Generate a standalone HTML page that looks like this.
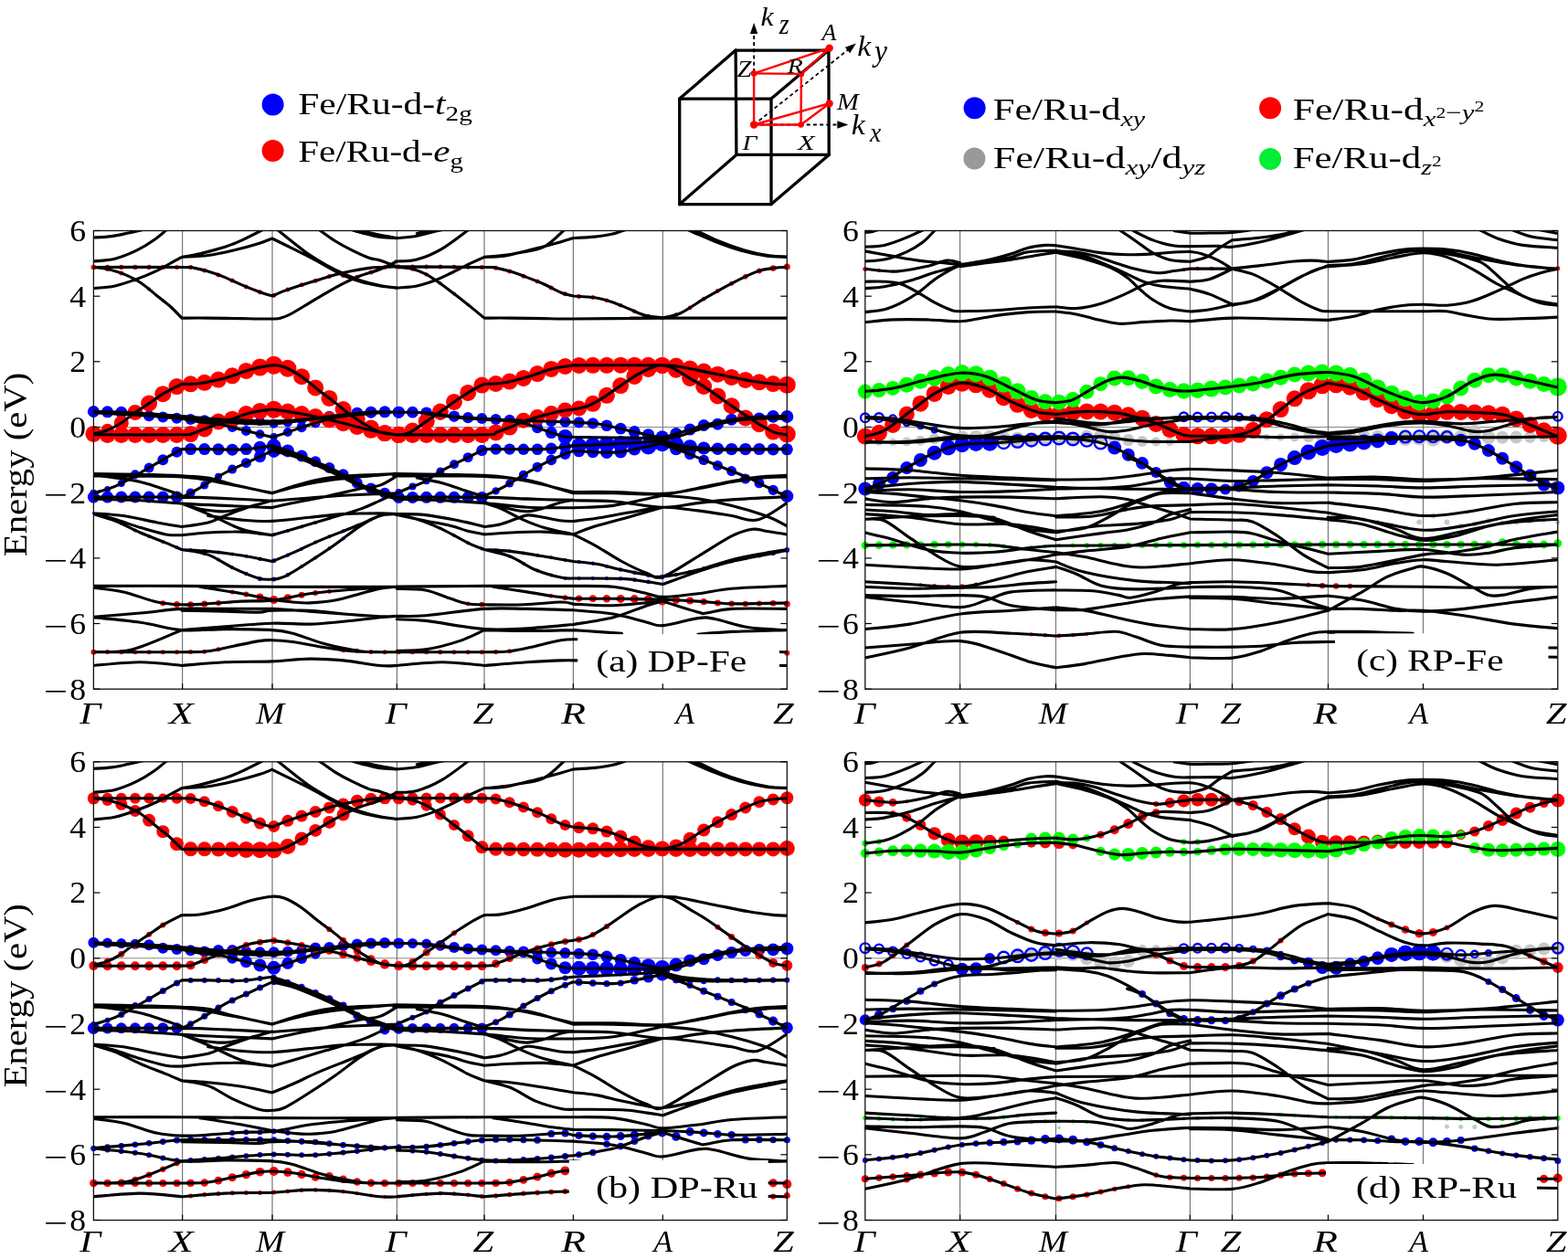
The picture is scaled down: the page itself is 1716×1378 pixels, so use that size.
<!DOCTYPE html><html><head><meta charset="utf-8"><style>
html,body{margin:0;padding:0;background:#fff;overflow:hidden;}
svg{display:block;}
.t{font-family:"Liberation Serif","DejaVu Serif",serif;font-size:34px;fill:#000;}
.i{font-style:italic;}
.s{font-size:24px;}
.ss{font-size:17px;}
.kz{font-family:"Liberation Serif",serif;font-size:34px;}
.sm{font-family:"Liberation Serif",serif;font-size:21px;}
</style></head><body><svg width="1716" height="1378" viewBox="0 0 1716 1378"><rect width="1716" height="1378" fill="#fff"/><circle cx="298.6" cy="114.6" r="12" fill="#0000ff"/><circle cx="298.6" cy="165.1" r="12" fill="#ff0000"/><text class="t" transform="translate(326.2,125.3) scale(1.2208,1)">Fe/Ru-d-<tspan class="i">t</tspan><tspan class="s" dy="7">2g</tspan></text><text class="t" transform="translate(326.2,176.8) scale(1.2068,1)">Fe/Ru-d-<tspan class="i">e</tspan><tspan class="s" dy="7">g</tspan></text><circle cx="1066.6" cy="118.3" r="12" fill="#0000ff"/><circle cx="1066.4" cy="173.6" r="12" fill="#999999"/><circle cx="1390.1" cy="118.3" r="12" fill="#ff0000"/><circle cx="1390.1" cy="173.9" r="12" fill="#00ee33"/><text class="t" transform="translate(1086.7,131.1) scale(1.2550,1)">Fe/Ru-d<tspan class="s i" dy="7">xy</tspan></text><text class="t" transform="translate(1086.7,184.4) scale(1.2994,1)">Fe/Ru-d<tspan class="s i" dy="7">xy</tspan><tspan dy="-7">/d</tspan><tspan class="s i" dy="7">yz</tspan></text><text class="t" transform="translate(1414.7,131.1) scale(1.2838,1)">Fe/Ru-d<tspan class="s i" dy="7">x</tspan><tspan class="ss" dy="-9">2</tspan><tspan class="s" dy="2">−</tspan><tspan class="s i">y</tspan><tspan class="ss" dy="-9">2</tspan></text><text class="t" transform="translate(1414.7,184.4) scale(1.2619,1)">Fe/Ru-d<tspan class="s i" dy="7">z</tspan><tspan class="ss" dy="-9">2</tspan></text><g stroke="#000" stroke-width="3.3" stroke-linecap="round" fill="none"><line x1="743.7" y1="108.1" x2="844" y2="108.1"/><line x1="844" y1="108.1" x2="844" y2="223.6"/><line x1="844" y1="223.6" x2="743.7" y2="223.6"/><line x1="743.7" y1="223.6" x2="743.7" y2="108.1"/><line x1="805.1" y1="55.1" x2="906.9" y2="55.1"/><line x1="906.9" y1="55.1" x2="907.2" y2="169.4"/><line x1="907.2" y1="169.4" x2="805.9" y2="169.4"/><line x1="805.9" y1="169.4" x2="805.1" y2="55.1"/><line x1="743.7" y1="108.1" x2="805.1" y2="55.1"/><line x1="844" y1="108.1" x2="906.9" y2="55.1"/><line x1="743.7" y1="223.6" x2="805.9" y2="169.4"/><line x1="844" y1="223.6" x2="907.2" y2="169.4"/></g><g stroke="#000" stroke-width="1.8" stroke-dasharray="4,3.2" fill="none"><line x1="825.1" y1="136.5" x2="825.1" y2="33.4"/><line x1="825.1" y1="136.5" x2="918.6" y2="136.5"/><line x1="825.1" y1="136.5" x2="929.4" y2="53.4"/></g><polygon points="825.1,25 829.3,37 820.9,37" fill="#000"/><polygon points="928.3,136.5 916.3,140.7 916.3,132.3" fill="#000"/><polygon points="936.9,47.6 930.1,58.3 924.9,51.7" fill="#000"/><g stroke="#ff0000" stroke-width="2.4" fill="none" stroke-linejoin="round"><line x1="825.1" y1="136.5" x2="876.5" y2="136.5"/><line x1="876.5" y1="136.5" x2="907.7" y2="113.2"/><line x1="907.7" y1="113.2" x2="825.1" y2="136.5"/><line x1="825.1" y1="136.5" x2="825.1" y2="80.4"/><line x1="825.1" y1="80.4" x2="876.9" y2="80.9"/><line x1="876.9" y1="80.9" x2="907.7" y2="52.6"/><line x1="907.7" y1="52.6" x2="825.1" y2="80.4"/><line x1="876.9" y1="80.9" x2="876.5" y2="136.5"/></g><g fill="#ff0000"><circle cx="825.1" cy="136.5" r="4.2"/><circle cx="876.5" cy="136.5" r="3.3"/><circle cx="907.7" cy="113.2" r="4"/><circle cx="825.1" cy="80.4" r="3.3"/><circle cx="876.9" cy="80.9" r="3.3"/><circle cx="907.7" cy="52.6" r="4.2"/></g><text class="t i" style="font-size:31px" transform="translate(832.5,28.4) scale(1.023,0.945)">k</text><text class="t i" style="font-size:26px" transform="translate(852.7,37.1) scale(1.080,1.183)">z</text><text class="t i" style="font-size:31px" transform="translate(938.3,61) scale(1.092,1.023)">k</text><text class="t i" style="font-size:26px" transform="translate(956.9,66.7) scale(1.215,1.282)">y</text><text class="t i" style="font-size:31px" transform="translate(931.7,147) scale(1.092,1.023)">k</text><text class="t i" style="font-size:26px" transform="translate(952,154.6) scale(1.055,1.125)">x</text><text class="t i" style="font-size:25px" transform="translate(899.6,43.6) scale(1.038,1.035)">A</text><text class="t i" style="font-size:25px" transform="translate(806.8,83.6) scale(1.129,0.982)">Z</text><text class="t i" style="font-size:25px" transform="translate(861.8,80.2) scale(1.113,0.935)">R</text><text class="t i" style="font-size:25px" transform="translate(916,119.5) scale(1.141,1.029)">M</text><text class="t i" style="font-size:25px" transform="translate(812.6,163.6) scale(1.113,0.929)">Γ</text><text class="t i" style="font-size:25px" transform="translate(873.1,163.6) scale(1.224,0.929)">X</text><g><line x1="102.4" y1="467.5" x2="861.3" y2="467.5" stroke="#888" stroke-width="1"/><line x1="199.6" y1="252.5" x2="199.6" y2="754.2" stroke="#777" stroke-width="1.2"/><line x1="298" y1="252.5" x2="298" y2="754.2" stroke="#777" stroke-width="1.2"/><line x1="434.4" y1="252.5" x2="434.4" y2="754.2" stroke="#777" stroke-width="1.2"/><line x1="530" y1="252.5" x2="530" y2="754.2" stroke="#777" stroke-width="1.2"/><line x1="627.4" y1="252.5" x2="627.4" y2="754.2" stroke="#777" stroke-width="1.2"/><line x1="725.3" y1="252.5" x2="725.3" y2="754.2" stroke="#777" stroke-width="1.2"/><svg x="90.4" y="252.5" width="782.9" height="501.7" viewBox="90.4 252.5 782.9 501.7" overflow="hidden"><g fill="#0000ff"><circle cx="102.4" cy="450.5" r="6.5"/><circle cx="117.6" cy="450.8" r="6.5"/><circle cx="132.8" cy="451.3" r="6.5"/><circle cx="147.9" cy="452" r="6.2"/><circle cx="163.1" cy="455.2" r="6"/><circle cx="178.3" cy="456.5" r="6"/><circle cx="193.5" cy="457.8" r="6"/><circle cx="208.6" cy="459" r="6"/><circle cx="223.8" cy="460.3" r="6"/><circle cx="239" cy="458.7" r="6"/><circle cx="254.2" cy="459.6" r="5.5"/><circle cx="269.4" cy="460.4" r="5.3"/><circle cx="284.5" cy="460.9" r="5.2"/><circle cx="299.7" cy="463.7" r="5"/><circle cx="314.9" cy="462.4" r="5"/><circle cx="330.1" cy="460.3" r="5"/><circle cx="345.2" cy="458.4" r="5"/><circle cx="360.4" cy="455.7" r="6"/><circle cx="375.6" cy="453.8" r="6.3"/><circle cx="390.8" cy="452.2" r="6.5"/><circle cx="406" cy="451.2" r="6.5"/><circle cx="421.1" cy="450.8" r="6.5"/><circle cx="436.3" cy="451.2" r="6.5"/><circle cx="239" cy="461.5" r="5"/><circle cx="254.2" cy="467.4" r="5.5"/><circle cx="269.4" cy="471.4" r="5.5"/><circle cx="284.5" cy="475.2" r="5"/><circle cx="299.7" cy="478" r="4"/><circle cx="314.9" cy="473" r="5"/><circle cx="330.1" cy="467.7" r="5.5"/><circle cx="345.2" cy="462.9" r="5.5"/><circle cx="102.4" cy="539.7" r="4"/><circle cx="117.6" cy="535.4" r="3.5"/><circle cx="132.8" cy="529.1" r="4"/><circle cx="147.9" cy="519.3" r="5"/><circle cx="163.1" cy="512.1" r="5.5"/><circle cx="178.3" cy="503.2" r="6"/><circle cx="193.5" cy="494.7" r="6"/><circle cx="208.6" cy="491.6" r="6.5"/><circle cx="223.8" cy="491.6" r="6.5"/><circle cx="239" cy="491.8" r="6.5"/><circle cx="254.2" cy="492.2" r="6.5"/><circle cx="269.4" cy="491.6" r="6.5"/><circle cx="284.5" cy="489.8" r="7"/><circle cx="299.7" cy="488.5" r="8"/><circle cx="314.9" cy="493.4" r="7"/><circle cx="330.1" cy="499" r="6.5"/><circle cx="345.2" cy="505.2" r="6"/><circle cx="360.4" cy="511.9" r="6"/><circle cx="375.6" cy="519.2" r="6"/><circle cx="390.8" cy="528.8" r="6"/><circle cx="406" cy="534.6" r="6"/><circle cx="421.1" cy="539.7" r="6"/><circle cx="436.3" cy="544.1" r="6"/><circle cx="193.5" cy="544" r="5"/><circle cx="208.6" cy="539.5" r="5"/><circle cx="223.8" cy="531" r="4.5"/><circle cx="239" cy="521.7" r="4"/><circle cx="254.2" cy="513.6" r="5"/><circle cx="269.4" cy="506.7" r="5.5"/><circle cx="284.5" cy="499.7" r="6.5"/><circle cx="299.7" cy="493.9" r="7"/><circle cx="102.4" cy="544.1" r="6.5"/><circle cx="117.6" cy="544.1" r="6.5"/><circle cx="132.8" cy="544" r="6.5"/><circle cx="147.9" cy="544" r="6.5"/><circle cx="163.1" cy="544" r="6.5"/><circle cx="178.3" cy="544" r="6.5"/><circle cx="193.5" cy="544" r="6.5"/><circle cx="436.3" cy="451.2" r="6.5"/><circle cx="451.5" cy="451.2" r="6.4"/><circle cx="466.7" cy="451.8" r="6.3"/><circle cx="481.9" cy="453.6" r="6.2"/><circle cx="497" cy="455.7" r="6.2"/><circle cx="512.2" cy="457.2" r="6.1"/><circle cx="527.4" cy="458.1" r="6"/><circle cx="542.6" cy="458.9" r="6"/><circle cx="557.7" cy="459.7" r="6"/><circle cx="572.9" cy="460.3" r="6"/><circle cx="588.1" cy="460.8" r="6"/><circle cx="603.3" cy="461.3" r="6"/><circle cx="618.5" cy="461.8" r="6"/><circle cx="633.6" cy="462.4" r="6.1"/><circle cx="648.8" cy="463.4" r="6.2"/><circle cx="664" cy="465.8" r="6.3"/><circle cx="679.2" cy="469.1" r="6.4"/><circle cx="694.3" cy="472.6" r="6.5"/><circle cx="709.5" cy="476.1" r="6.8"/><circle cx="724.7" cy="478.3" r="7"/><circle cx="739.9" cy="474.7" r="6.7"/><circle cx="755.1" cy="470.1" r="6.5"/><circle cx="770.2" cy="465.5" r="6.5"/><circle cx="785.4" cy="464.2" r="6.5"/><circle cx="800.6" cy="459.2" r="6.5"/><circle cx="815.8" cy="459.1" r="6.6"/><circle cx="830.9" cy="458.2" r="6.8"/><circle cx="846.1" cy="455.8" r="6.9"/><circle cx="861.3" cy="455.9" r="7"/><circle cx="572.9" cy="460.3" r="5"/><circle cx="588.1" cy="468.2" r="6"/><circle cx="603.3" cy="473.6" r="6.5"/><circle cx="618.5" cy="477.9" r="8"/><circle cx="633.6" cy="487.6" r="8.3"/><circle cx="648.8" cy="487" r="8.5"/><circle cx="664" cy="486.4" r="8.6"/><circle cx="679.2" cy="485.6" r="8.7"/><circle cx="694.3" cy="484.7" r="8.8"/><circle cx="709.5" cy="488.5" r="8.9"/><circle cx="724.7" cy="485.2" r="9"/><circle cx="739.9" cy="486.7" r="8.5"/><circle cx="755.1" cy="489.2" r="8"/><circle cx="770.2" cy="490.5" r="7"/><circle cx="527.4" cy="493" r="6"/><circle cx="542.6" cy="491.6" r="6.1"/><circle cx="557.7" cy="491.6" r="6.2"/><circle cx="572.9" cy="491.8" r="6.2"/><circle cx="588.1" cy="491.8" r="6.3"/><circle cx="603.3" cy="491" r="6.4"/><circle cx="618.5" cy="489.1" r="6.5"/><circle cx="633.6" cy="493.8" r="6.5"/><circle cx="648.8" cy="494.7" r="6.6"/><circle cx="664" cy="495.3" r="6.8"/><circle cx="679.2" cy="494.6" r="6.9"/><circle cx="694.3" cy="491.6" r="7"/><circle cx="709.5" cy="488.5" r="7"/><circle cx="724.7" cy="485.2" r="7"/><circle cx="739.9" cy="491.4" r="6.9"/><circle cx="755.1" cy="492" r="6.9"/><circle cx="770.2" cy="490.5" r="6.8"/><circle cx="785.4" cy="491.3" r="6.8"/><circle cx="800.6" cy="491.6" r="6.7"/><circle cx="815.8" cy="491.6" r="6.7"/><circle cx="830.9" cy="491.5" r="6.6"/><circle cx="846.1" cy="491.8" r="6.6"/><circle cx="861.3" cy="491.8" r="6.5"/><circle cx="436.3" cy="538.9" r="4"/><circle cx="451.5" cy="532.5" r="4"/><circle cx="466.7" cy="526.2" r="4"/><circle cx="481.9" cy="516" r="4.5"/><circle cx="497" cy="508.2" r="5"/><circle cx="512.2" cy="500.7" r="5.5"/><circle cx="527.4" cy="493" r="5.9"/><circle cx="542.6" cy="537.4" r="4.2"/><circle cx="557.7" cy="529.1" r="4.5"/><circle cx="572.9" cy="519.8" r="5"/><circle cx="588.1" cy="511.2" r="5.5"/><circle cx="603.3" cy="503.4" r="5.8"/><circle cx="618.5" cy="496.9" r="6"/><circle cx="724.7" cy="485.2" r="6"/><circle cx="739.9" cy="491.4" r="6"/><circle cx="755.1" cy="497.3" r="6"/><circle cx="770.2" cy="503.4" r="5.7"/><circle cx="785.4" cy="509.5" r="5.5"/><circle cx="800.6" cy="515.6" r="5.5"/><circle cx="815.8" cy="524" r="5.5"/><circle cx="830.9" cy="528.8" r="5.5"/><circle cx="846.1" cy="536.3" r="5.6"/><circle cx="861.3" cy="543.1" r="7"/><circle cx="436.3" cy="544.4" r="6.5"/><circle cx="451.5" cy="544.4" r="6.5"/><circle cx="466.7" cy="544.3" r="6.5"/><circle cx="481.9" cy="544.3" r="6.5"/><circle cx="497" cy="544.3" r="6.5"/><circle cx="512.2" cy="544.3" r="6.5"/><circle cx="527.4" cy="544.4" r="6.5"/><circle cx="102.4" cy="561.7" r="1.5"/><circle cx="117.6" cy="567.1" r="1.7"/><circle cx="132.8" cy="573.1" r="1.8"/><circle cx="147.9" cy="580.4" r="2"/><circle cx="163.1" cy="586.9" r="2"/><circle cx="178.3" cy="592.9" r="2"/><circle cx="193.5" cy="599.2" r="2"/><circle cx="208.6" cy="602" r="2"/><circle cx="223.8" cy="603" r="2"/><circle cx="239" cy="604.6" r="2"/><circle cx="254.2" cy="606.5" r="2"/><circle cx="269.4" cy="608.8" r="2"/><circle cx="284.5" cy="611.8" r="2.2"/><circle cx="299.7" cy="613.7" r="2.5"/><circle cx="314.9" cy="607.6" r="2.2"/><circle cx="330.1" cy="600.7" r="2"/><circle cx="345.2" cy="593.6" r="2"/><circle cx="360.4" cy="587.2" r="2"/><circle cx="375.6" cy="581.3" r="2"/><circle cx="390.8" cy="575.3" r="1.8"/><circle cx="406" cy="568.8" r="1.5"/><circle cx="223.8" cy="605.9" r="2"/><circle cx="239" cy="612.6" r="2"/><circle cx="254.2" cy="621.3" r="2"/><circle cx="269.4" cy="628" r="2.2"/><circle cx="284.5" cy="633.4" r="2.5"/><circle cx="299.7" cy="633.9" r="2.5"/><circle cx="314.9" cy="629.3" r="2.2"/><circle cx="330.1" cy="620.1" r="2"/><circle cx="345.2" cy="610.5" r="2"/><circle cx="360.4" cy="600.3" r="2"/><circle cx="375.6" cy="589.4" r="2"/><circle cx="390.8" cy="575.3" r="1.5"/><circle cx="284.5" cy="584" r="1.8"/><circle cx="299.7" cy="585.2" r="2"/><circle cx="314.9" cy="580.9" r="2"/><circle cx="330.1" cy="576.4" r="2"/><circle cx="345.2" cy="571.9" r="2"/><circle cx="360.4" cy="567.3" r="2"/><circle cx="375.6" cy="562.6" r="1.8"/><circle cx="481.9" cy="578.3" r="1.8"/><circle cx="497" cy="586.1" r="1.9"/><circle cx="512.2" cy="594.3" r="2"/><circle cx="527.4" cy="600.5" r="2"/><circle cx="542.6" cy="602.2" r="2"/><circle cx="557.7" cy="603.3" r="2"/><circle cx="572.9" cy="605.4" r="2"/><circle cx="588.1" cy="607.8" r="2"/><circle cx="603.3" cy="610.3" r="2"/><circle cx="618.5" cy="612.9" r="2"/><circle cx="633.6" cy="615.1" r="2"/><circle cx="648.8" cy="616.7" r="2.1"/><circle cx="664" cy="619.8" r="2.1"/><circle cx="679.2" cy="623.5" r="2.2"/><circle cx="694.3" cy="626.7" r="2.3"/><circle cx="709.5" cy="629.6" r="2.4"/><circle cx="724.7" cy="631.2" r="2.5"/><circle cx="739.9" cy="629" r="2.2"/><circle cx="755.1" cy="625.8" r="2.1"/><circle cx="770.2" cy="622.1" r="2"/><circle cx="785.4" cy="618.6" r="2"/><circle cx="800.6" cy="614.6" r="2"/><circle cx="815.8" cy="611.3" r="2"/><circle cx="830.9" cy="608.3" r="2.3"/><circle cx="846.1" cy="605.4" r="2.6"/><circle cx="861.3" cy="601.9" r="2.8"/><circle cx="542.6" cy="604.4" r="1.8"/><circle cx="557.7" cy="608.8" r="1.9"/><circle cx="572.9" cy="616.7" r="2"/><circle cx="588.1" cy="624.6" r="2"/><circle cx="603.3" cy="629.5" r="2"/><circle cx="618.5" cy="632.9" r="2"/><circle cx="633.6" cy="633.1" r="2"/><circle cx="648.8" cy="633" r="2.1"/><circle cx="664" cy="633.1" r="2.1"/><circle cx="679.2" cy="633.4" r="2.2"/><circle cx="694.3" cy="634.6" r="2.3"/><circle cx="709.5" cy="636.9" r="2.4"/><circle cx="724.7" cy="631.4" r="2.5"/></g><g fill="#ff0000"><circle cx="102.4" cy="474.9" r="8"/><circle cx="117.6" cy="470.8" r="7"/><circle cx="132.8" cy="462.9" r="8"/><circle cx="147.9" cy="451.5" r="8.5"/><circle cx="163.1" cy="441.4" r="9"/><circle cx="178.3" cy="431.2" r="9"/><circle cx="193.5" cy="423.1" r="9"/><circle cx="208.6" cy="420.3" r="9"/><circle cx="223.8" cy="418.8" r="9"/><circle cx="239" cy="415.6" r="9"/><circle cx="254.2" cy="411.3" r="9"/><circle cx="269.4" cy="405.9" r="9"/><circle cx="284.5" cy="402" r="9.5"/><circle cx="299.7" cy="399.7" r="10"/><circle cx="314.9" cy="403.3" r="9.5"/><circle cx="330.1" cy="412.2" r="9"/><circle cx="345.2" cy="424.4" r="9"/><circle cx="360.4" cy="435.9" r="9"/><circle cx="375.6" cy="448" r="9"/><circle cx="390.8" cy="459.1" r="9"/><circle cx="406" cy="468.4" r="9"/><circle cx="421.1" cy="473.9" r="9"/><circle cx="436.3" cy="475.8" r="9"/><circle cx="102.4" cy="474.9" r="9"/><circle cx="117.6" cy="475.9" r="9"/><circle cx="132.8" cy="475.9" r="9"/><circle cx="147.9" cy="475.9" r="9"/><circle cx="163.1" cy="475.9" r="9"/><circle cx="178.3" cy="475.9" r="9"/><circle cx="193.5" cy="475.9" r="9"/><circle cx="208.6" cy="475.1" r="9"/><circle cx="223.8" cy="469.4" r="9"/><circle cx="239" cy="461.5" r="9"/><circle cx="254.2" cy="458.7" r="9"/><circle cx="269.4" cy="453.1" r="9"/><circle cx="284.5" cy="449.9" r="9"/><circle cx="299.7" cy="448.3" r="9.5"/><circle cx="314.9" cy="450.5" r="9"/><circle cx="330.1" cy="453.1" r="9"/><circle cx="345.2" cy="456.1" r="9"/><circle cx="360.4" cy="459.5" r="9"/><circle cx="375.6" cy="463.2" r="9"/><circle cx="390.8" cy="467" r="9"/><circle cx="406" cy="470.8" r="9"/><circle cx="421.1" cy="474.3" r="9"/><circle cx="436.3" cy="475.8" r="9"/><circle cx="436.3" cy="475.8" r="9"/><circle cx="451.5" cy="471.6" r="9"/><circle cx="466.7" cy="461.2" r="9"/><circle cx="481.9" cy="450.6" r="9"/><circle cx="497" cy="439.9" r="9"/><circle cx="512.2" cy="429.9" r="9"/><circle cx="527.4" cy="421.6" r="9"/><circle cx="542.6" cy="420" r="9"/><circle cx="557.7" cy="417.6" r="9"/><circle cx="572.9" cy="413.9" r="9"/><circle cx="588.1" cy="409.1" r="9"/><circle cx="603.3" cy="403.9" r="9"/><circle cx="618.5" cy="401" r="9"/><circle cx="633.6" cy="399.9" r="9"/><circle cx="648.8" cy="399.8" r="9"/><circle cx="664" cy="399.8" r="9"/><circle cx="679.2" cy="399.7" r="9"/><circle cx="694.3" cy="399.7" r="9"/><circle cx="709.5" cy="399.8" r="9"/><circle cx="724.7" cy="399.9" r="9"/><circle cx="739.9" cy="400.5" r="9"/><circle cx="755.1" cy="403.5" r="9"/><circle cx="770.2" cy="406.6" r="9"/><circle cx="785.4" cy="409.7" r="9"/><circle cx="800.6" cy="412.9" r="9"/><circle cx="815.8" cy="415.9" r="9"/><circle cx="830.9" cy="418.3" r="9"/><circle cx="846.1" cy="420.1" r="9"/><circle cx="861.3" cy="421.3" r="9.5"/><circle cx="436.3" cy="475.8" r="9"/><circle cx="451.5" cy="475.9" r="9"/><circle cx="466.7" cy="476" r="9"/><circle cx="481.9" cy="476" r="9"/><circle cx="497" cy="476" r="9"/><circle cx="512.2" cy="476" r="9"/><circle cx="527.4" cy="475.9" r="9"/><circle cx="542.6" cy="473.4" r="9"/><circle cx="557.7" cy="467.7" r="8.9"/><circle cx="572.9" cy="460.3" r="8.5"/><circle cx="588.1" cy="456.6" r="8.5"/><circle cx="603.3" cy="452.4" r="8.5"/><circle cx="618.5" cy="449.1" r="8.5"/><circle cx="633.6" cy="446.9" r="8.5"/><circle cx="648.8" cy="441.8" r="9"/><circle cx="664" cy="432.8" r="9"/><circle cx="679.2" cy="422.1" r="9"/><circle cx="694.3" cy="411.9" r="9"/><circle cx="709.5" cy="404" r="9"/><circle cx="724.7" cy="399.9" r="9"/><circle cx="724.7" cy="399.9" r="9"/><circle cx="739.9" cy="404.7" r="9"/><circle cx="755.1" cy="414" r="9"/><circle cx="770.2" cy="423" r="9"/><circle cx="785.4" cy="433.4" r="9"/><circle cx="800.6" cy="444.2" r="9"/><circle cx="815.8" cy="457.4" r="9"/><circle cx="830.9" cy="464.2" r="9"/><circle cx="846.1" cy="472.6" r="9"/><circle cx="861.3" cy="475.1" r="9.5"/><circle cx="102.4" cy="292.5" r="2.8"/><circle cx="117.6" cy="292.5" r="2.8"/><circle cx="132.8" cy="292.4" r="2.7"/><circle cx="147.9" cy="292.4" r="2.7"/><circle cx="163.1" cy="292.4" r="2.6"/><circle cx="178.3" cy="292.4" r="2.6"/><circle cx="193.5" cy="292.4" r="2.5"/><circle cx="208.6" cy="292.6" r="2.5"/><circle cx="223.8" cy="295.9" r="2.5"/><circle cx="239" cy="300.9" r="2.5"/><circle cx="254.2" cy="307.1" r="2.5"/><circle cx="269.4" cy="313.9" r="2.5"/><circle cx="284.5" cy="319.8" r="2.5"/><circle cx="299.7" cy="323.2" r="2.5"/><circle cx="314.9" cy="317" r="2.5"/><circle cx="330.1" cy="311.8" r="2.5"/><circle cx="345.2" cy="307.2" r="2.5"/><circle cx="360.4" cy="302.6" r="2.5"/><circle cx="375.6" cy="301.6" r="2.5"/><circle cx="390.8" cy="303.2" r="2.5"/><circle cx="406" cy="298" r="2.5"/><circle cx="421.1" cy="292.5" r="2.5"/><circle cx="436.3" cy="291.9" r="2.5"/><circle cx="451.5" cy="292" r="2.5"/><circle cx="466.7" cy="292.1" r="2.5"/><circle cx="481.9" cy="292.1" r="2.5"/><circle cx="497" cy="292.2" r="2.5"/><circle cx="512.2" cy="292.3" r="2.5"/><circle cx="527.4" cy="292.4" r="2.5"/><circle cx="542.6" cy="293.2" r="2.5"/><circle cx="557.7" cy="297" r="2.5"/><circle cx="572.9" cy="302.2" r="2.5"/><circle cx="588.1" cy="307.9" r="2.5"/><circle cx="603.3" cy="315" r="2.5"/><circle cx="618.5" cy="321.8" r="2.5"/><circle cx="633.6" cy="324.4" r="2.5"/><circle cx="648.8" cy="325.5" r="2.4"/><circle cx="664" cy="328.8" r="2.4"/><circle cx="679.2" cy="334.2" r="2.3"/><circle cx="694.3" cy="340.7" r="2.3"/><circle cx="709.5" cy="345.9" r="2.2"/><circle cx="724.7" cy="348.1" r="2.2"/><circle cx="739.9" cy="344.6" r="2.3"/><circle cx="755.1" cy="336.9" r="2.3"/><circle cx="770.2" cy="327.2" r="2.4"/><circle cx="785.4" cy="318.5" r="2.4"/><circle cx="800.6" cy="310.3" r="2.5"/><circle cx="815.8" cy="302.7" r="2.8"/><circle cx="830.9" cy="296.4" r="3"/><circle cx="846.1" cy="293.6" r="3.3"/><circle cx="861.3" cy="291.9" r="3.5"/><circle cx="102.4" cy="292.5" r="2.5"/><circle cx="117.6" cy="294.6" r="2.5"/><circle cx="132.8" cy="299" r="2.5"/><circle cx="147.9" cy="306.2" r="2.2"/><circle cx="163.1" cy="316.4" r="2"/><circle cx="178.3" cy="328.9" r="1.8"/><circle cx="193.5" cy="342.4" r="1.6"/><circle cx="436.3" cy="291.9" r="2.2"/><circle cx="451.5" cy="294.5" r="2.2"/><circle cx="466.7" cy="300.4" r="2.2"/><circle cx="481.9" cy="310.2" r="2"/><circle cx="497" cy="321.6" r="2"/><circle cx="512.2" cy="333.5" r="1.8"/><circle cx="527.4" cy="345.9" r="1.5"/><circle cx="163.1" cy="656.5" r="1.5"/><circle cx="178.3" cy="660.2" r="3"/><circle cx="193.5" cy="661.6" r="3.5"/><circle cx="208.6" cy="661.8" r="3.5"/><circle cx="223.8" cy="661.1" r="3.5"/><circle cx="239" cy="660" r="3"/><circle cx="254.2" cy="647.9" r="2.5"/><circle cx="269.4" cy="650.6" r="3"/><circle cx="284.5" cy="653.6" r="4"/><circle cx="299.7" cy="656.5" r="4.5"/><circle cx="314.9" cy="654.3" r="4"/><circle cx="330.1" cy="651.2" r="3.5"/><circle cx="345.2" cy="648.9" r="3"/><circle cx="360.4" cy="647.3" r="2.5"/><circle cx="102.4" cy="713.7" r="3"/><circle cx="117.6" cy="713.6" r="2.5"/><circle cx="132.8" cy="713.7" r="2.5"/><circle cx="147.9" cy="713.7" r="2.5"/><circle cx="163.1" cy="713.7" r="2.5"/><circle cx="178.3" cy="713.7" r="2.5"/><circle cx="193.5" cy="713.7" r="2.5"/><circle cx="208.6" cy="713.6" r="2.5"/><circle cx="223.8" cy="713.2" r="2.5"/><circle cx="239" cy="710.8" r="2.5"/><circle cx="375.6" cy="711.7" r="2.5"/><circle cx="390.8" cy="712.2" r="2.5"/><circle cx="406" cy="713.5" r="2.5"/><circle cx="421.1" cy="713.7" r="2.5"/><circle cx="436.3" cy="713.7" r="2.5"/><circle cx="451.5" cy="713.7" r="2.5"/><circle cx="466.7" cy="713.7" r="2.5"/><circle cx="481.9" cy="713.7" r="2.5"/><circle cx="603.3" cy="652.3" r="2.2"/><circle cx="618.5" cy="654.2" r="3"/><circle cx="633.6" cy="655.1" r="3.6"/><circle cx="648.8" cy="655.1" r="3.9"/><circle cx="664" cy="655.2" r="4.2"/><circle cx="679.2" cy="655.4" r="4.5"/><circle cx="694.3" cy="655.6" r="4.5"/><circle cx="709.5" cy="655.8" r="4.5"/><circle cx="724.7" cy="658.1" r="4.5"/><circle cx="739.9" cy="656.8" r="4.2"/><circle cx="755.1" cy="657.5" r="4"/><circle cx="770.2" cy="658.6" r="3.7"/><circle cx="785.4" cy="660" r="3.4"/><circle cx="800.6" cy="660.8" r="3.3"/><circle cx="815.8" cy="660.9" r="3.1"/><circle cx="830.9" cy="660.6" r="3"/><circle cx="846.1" cy="660.3" r="3.3"/><circle cx="861.3" cy="661" r="3.5"/><circle cx="512.2" cy="660.9" r="2.4"/><circle cx="527.4" cy="661.7" r="2.9"/><circle cx="861.3" cy="714.8" r="3"/><circle cx="481.9" cy="713.7" r="2.5"/><circle cx="497" cy="713.7" r="2.5"/><circle cx="512.2" cy="713.7" r="2.5"/><circle cx="527.4" cy="713.7" r="2.5"/><circle cx="542.6" cy="713.6" r="2.5"/><circle cx="557.7" cy="712.8" r="2.5"/></g></svg><svg x="102.4" y="252.5" width="758.9" height="501.7" viewBox="102.4 252.5 758.9 501.7" overflow="hidden"><path d="M102.3,260C105.6,259.8 115.7,259.4 122.1,258.6C128.5,257.7 134.8,256.2 140.6,255C146.5,253.8 154.5,252 157.3,251.3M102.3,286C106.2,285.5 117.9,285.2 125.8,283.2C133.7,281.2 142.8,277.3 149.9,273.9C157,270.5 162.9,266.7 168.4,262.8C174,259 180.8,252.8 183.2,250.8M102.3,292.5C118.4,292.5 180.6,292.3 199,292.5C217.4,292.6 208.1,292.6 212.9,293.4C217.7,294.2 222.2,295.4 227.7,297.1C233.3,298.8 240.1,301.1 246.3,303.6C252.4,306.1 258.6,309.3 264.8,311.9C271,314.6 277.8,317.3 283.3,319.3C288.8,321.4 295.4,323.2 297.8,324M297.8,324C300,323.1 305.8,320.4 311.1,318.4C316.4,316.4 323.5,313.9 329.7,311.9C335.8,309.9 342,308.2 348.2,306.4C354.4,304.5 360.5,302.5 366.7,300.8C372.9,299.2 379.1,297.8 385.2,296.6C391.4,295.3 398.7,294.1 403.8,293.4C408.9,292.7 410.9,292.7 416,292.5C421.1,292.2 431.3,292 434.4,291.9M102.3,292.5C104.6,292.8 111.1,293.1 116.5,294.3C122,295.6 128.9,297.4 135.1,299.9C141.2,302.4 147.4,305.1 153.6,309.2C159.8,313.2 166.6,319.5 172.1,324C177.7,328.5 182.5,332 187,336C191.4,340 197,346.1 199,348.1M199,348.1C203.8,348.1 216.8,348 227.7,348.1C238.7,348.2 253.1,348.5 264.8,348.6C276.5,348.8 290.7,349.1 297.8,349C304.9,348.9 303.6,349.2 307.4,348.1C311.2,347 315.1,345.3 320.4,342.5C325.6,339.7 332.7,335.1 338.9,331.4C345.1,327.7 351.3,323.8 357.5,320.3C363.6,316.7 369.8,313.2 376,310.1C382.2,307 387.8,304.3 394.5,301.7C401.2,299.2 409.4,297.3 416,294.7C422.7,292.1 431.3,287.4 434.4,286M102.3,315.6C106.2,315.2 117.9,314.6 125.8,312.9C133.7,311.2 142.2,308.2 149.9,305.4C157.6,302.7 166,299.1 172.1,296.2C178.3,293.2 182.5,290.3 187,287.8C191.4,285.4 197,282.4 199,281.4M199,281.4C203.8,281 218.3,280.7 227.7,279.5C237.1,278.3 246.3,276.1 255.5,273.9C264.8,271.8 276.3,268.7 283.3,266.5C290.4,264.4 295.4,261.9 297.8,261M297.8,261C301.5,262.8 313.5,268.7 320.4,272.1C327.2,275.5 332.7,278.1 338.9,281.4C345.1,284.6 351.3,288.2 357.5,291.6C363.6,294.9 369.8,299 376,301.7C382.2,304.5 387.8,306.4 394.5,308.2C401.2,310.1 409.4,311.7 416,312.9C422.7,314 431.3,314.7 434.4,315.1M199,281.4C202.2,280.7 210.6,279.5 218.5,277.7C226.3,275.8 238.5,272.7 246.3,270.2C254,267.8 257.7,266.1 264.8,262.8C271.9,259.6 284.9,252.8 288.9,250.8M302.8,250.8C305.7,253.2 314.4,260.3 320.4,265C326.4,269.8 332.7,274.9 338.9,279.1C345.1,283.3 351.3,286.9 357.5,290.3C363.6,293.7 369.8,296.7 376,299.5C382.2,302.3 387.8,304.8 394.5,306.9C401.2,309.1 409.4,311.1 416,312.5C422.7,313.8 431.3,314.6 434.4,315.1M348.2,250.8C351.3,252.9 360.5,259.9 366.7,263.8C372.9,267.6 379.1,270.9 385.2,273.9C391.4,277 398.7,280.4 403.8,282.3C408.9,284.1 410.9,283.5 416,285.1C421.1,286.7 431.3,290.8 434.4,291.9M384.3,251.3C386.6,252 392.9,254.1 398.2,255.4C403.5,256.8 410,258.6 416,259.5C422,260.4 431.3,260.4 434.4,260.6M390.8,251.7C395,252.6 408.7,255.8 416,257.3C423.3,258.7 431.3,260 434.4,260.6M434.4,260.6C434.4,260.6 430.8,261 434.5,260.6C438.1,260.2 449.6,259.4 456.3,258.2C463.1,257 469.5,254.8 474.9,253.6C480.3,252.3 486.4,251.2 488.8,250.8M456.3,255.4L474.9,250.8M434.4,286C434.4,286 430.8,286.3 434.5,286C438.1,285.7 448.1,286.5 456.3,284.1C464.6,281.8 474.6,277.7 484.1,272.1C493.7,266.5 508.8,254.3 513.8,250.8M434.4,291.9C434.4,291.9 418.5,291.8 434.5,291.9C450.4,292 511.9,292.2 530.1,292.5C548.3,292.7 538.7,292.6 543.4,293.4C548.1,294.2 552.7,295.4 558.3,297.1C563.8,298.8 570.6,301.3 576.8,303.6C583,305.9 589.1,308.2 595.3,311C601.5,313.8 608.5,318.1 613.9,320.3C619.2,322.4 625.1,323.4 627.4,324M627.4,324C631.3,324.3 643.9,324.8 650.9,325.8C657.9,326.9 663.3,328.5 669.5,330.5C675.6,332.5 681.8,335.4 688,337.9C694.2,340.4 699.8,343.6 706.5,345.3C713.2,347 724.4,347.6 728,348.1M434.4,292.5C434.4,292.5 431.7,292.2 434.5,292.5C437.2,292.8 445.6,293.1 450.8,294.3C456,295.6 460.7,297.4 465.6,299.9C470.5,302.4 475.5,305.8 480.4,309.2C485.4,312.6 490,316.3 495.2,320.3C500.5,324.3 506.1,328.6 511.9,333.2C517.7,337.9 527.1,345.6 530.1,348.1M530.1,348.1C534.8,348.1 547.4,348 558.3,348.1C569.1,348.2 583.8,348.5 595.3,348.6C606.8,348.8 615,349 627.4,349C639.7,349 652.7,348.8 669.5,348.6C686.2,348.5 718.3,348.2 728,348.1M434.4,315.1C434.4,315.1 430.8,315.5 434.5,315.1C438.1,314.7 449.6,314.2 456.3,312.9C463.1,311.6 468.7,309.6 474.9,307.3C481,305 487.2,301.9 493.4,299C499.6,296 505.8,292.6 511.9,289.7C518,286.8 527.1,282.7 530.1,281.4M530.1,281.4C533.2,281.2 542.8,281.2 549,280.4C555.2,279.7 559.8,278.4 567.5,276.7C575.2,275 586.8,274.6 595.3,270.2C603.8,265.9 614.6,254 618.5,250.8M530.1,281.4C534.8,280.9 548.9,280.1 558.3,278.6C567.6,277 576.8,274.4 586.1,272.1C595.3,269.8 607,266.6 613.9,264.7C620.7,262.8 625.1,261.3 627.4,260.6M627.4,260.6C631.3,260.4 643.9,259.8 650.9,259.1C657.9,258.4 663.4,257.7 669.5,256.3C675.5,254.9 684.1,251.7 687.1,250.8M725.3,348.1C728.6,347.1 738,345.9 745.3,342.5C752.7,339.1 760.1,333.1 769.4,327.7C778.7,322.3 791,315.2 800.9,310.1C810.8,305 821,299.9 828.7,297.1C836.4,294.3 841.8,294.2 847.2,293.4C852.7,292.6 858.8,292.6 861.1,292.5M689.7,348.1C695.7,348.1 709.9,348.1 725.3,348.1C740.8,348.1 759.7,348.1 782.4,348.1C805,348.1 848,348.1 861.1,348.1M750.9,250.8C756.1,253 772.5,260.4 782.4,264.3C792.3,268.2 800.9,271.4 810.2,273.9C819.5,276.5 829.5,278.6 838,279.9C846.5,281.1 857.3,281.1 861.1,281.4M759.2,250.8C763.7,252.9 776.7,259.8 786.1,263.8C795.5,267.7 806.5,271.6 815.7,274.3C825,277 834.1,278.8 841.7,279.9C849.3,281 857.9,280.8 861.1,281M102.3,474.9C104.6,474.3 111.7,473.1 116.5,471.2C121.4,469.4 126.4,466.9 131.4,463.8C136.3,460.7 140.9,456.4 146.2,452.7C151.4,449 157.3,445.3 162.9,441.6C168.4,437.9 173.5,434 179.5,430.4C185.6,426.9 195.8,421.9 199,420.3M199,420.3C202.2,420.2 210.6,420.8 218.5,419.7C226.3,418.6 237,416.3 246.3,413.8C255.5,411.2 265.5,406.8 274.1,404.5C282.6,402.2 291.6,400.3 297.8,399.9C304,399.4 305.8,399.7 311.1,401.7C316.4,403.7 323.5,407.7 329.7,411.9C335.8,416.1 342,421.9 348.2,426.7C354.4,431.5 361.2,436.3 366.7,440.6C372.3,445 376.3,448.8 381.5,452.7C386.8,456.5 392.5,460.4 398.2,463.8C404,467.2 410,471.1 416,473.1C422,475.1 431.3,475.4 434.4,475.8M102.3,475.8C118.4,475.8 181.2,476 199,475.8C216.8,475.7 205,476 209.2,474.9C213.4,473.8 219.1,471.2 224,469.4C229,467.5 233.6,465.7 238.8,463.8C244.1,461.9 249.7,460.2 255.5,458.2C261.4,456.2 267,453.5 274.1,451.8C281.1,450.1 293.8,448.7 297.8,448M297.8,448C300,448.4 305.8,449.1 311.1,449.9C316.4,450.7 323.5,451.9 329.7,453.1C335.8,454.2 342,455.4 348.2,456.8C354.4,458.1 360.5,459.5 366.7,461C372.9,462.5 379.1,464.1 385.2,465.7C391.4,467.2 398.7,469.1 403.8,470.3C408.9,471.5 410.9,472.1 416,473.1C421.1,474 431.3,475.4 434.4,475.8M102.3,450.5C109.3,450.7 128.2,450.9 144.3,451.8C160.5,452.6 182,454.2 199,455.5C216,456.7 229.8,458.2 246.3,459.2C262.7,460.1 282.3,461.2 297.8,461C313.2,460.9 324.3,459.6 338.9,458.2C353.5,456.9 372.4,453.9 385.2,452.7C398.1,451.4 407.8,451.1 416,450.8C424.2,450.6 431.3,451.2 434.4,451.2M102.3,451.8C110.8,452.2 137.5,453.5 153.6,454.5C169.7,455.6 183.6,457 199,458.2C214.4,459.5 229.8,461 246.3,461.9C262.7,462.9 282.3,464.3 297.8,463.8C313.2,463.3 324.3,460.9 338.9,459.2C353.5,457.5 372.4,454.8 385.2,453.6C398.1,452.4 407.8,452.2 416,451.8C424.2,451.4 431.3,451.3 434.4,451.2M199,458.2C202.2,458.9 211.2,460.9 218.5,461.9C225.7,463 234.8,463.3 242.6,464.7C250.3,466.1 258,468.6 264.8,470.3C271.6,472 277.8,473.5 283.3,474.9C288.8,476.3 295.4,478 297.8,478.6M297.8,478.6C300.6,477.7 308.9,475.1 314.8,473.1C320.8,471.1 327.2,468.6 333.4,466.6C339.5,464.6 344.8,462.9 351.9,461C359,459.2 365.3,457 376,455.5C386.7,453.9 406.3,452.5 416,451.8C425.7,451.1 431.3,451.3 434.4,451.2M102.3,539.8C106.2,538.5 117.2,536.1 125.8,532.4C134.4,528.7 145.3,522.2 153.6,517.5C161.9,512.9 168.3,508.9 175.8,504.6C183.4,500.2 195.1,493.8 199,491.6M199,491.6C203.8,491.6 216.8,491.5 227.7,491.6C238.7,491.7 253.1,492.6 264.8,492C276.5,491.4 292.3,488.6 297.8,487.9M297.8,487.9C301.5,489.1 312,492.2 320.4,495.3C328.8,498.4 338.9,502.4 348.2,506.4C357.5,510.4 368.3,515.4 376,519.4C383.7,523.4 387.8,527.1 394.5,530.5C401.2,533.9 409.4,537.1 416,539.8C422.7,542.4 431.3,545.3 434.4,546.4M199,544.4C202.2,542.7 210.6,538.7 218.5,534.2C226.3,529.7 237,522.5 246.3,517.5C255.5,512.6 265.5,508.6 274.1,504.6C282.6,500.6 293.8,495.3 297.8,493.5M297.8,493.5C301.5,494.4 312,496.2 320.4,499C328.8,501.8 338.9,506.1 348.2,510.1C357.5,514.1 368.3,519.4 376,523.1C383.7,526.8 387.8,529.4 394.5,532.4C401.2,535.3 409.4,538.4 416,540.7C422.7,543 431.3,545.4 434.4,546.4M297.8,490.7C301.5,491.8 312,494.2 320.4,497.2C328.8,500.1 338.9,504.3 348.2,508.3C357.5,512.3 368.3,517.5 376,521.3C383.7,525 387.8,527.7 394.5,530.5C401.2,533.3 409.4,535.6 416,537.9C422.7,540.2 431.3,543.3 434.4,544.4M102.3,518.5C110.8,518.6 137.5,519 153.6,519.4C169.7,519.8 186.6,520.3 199,520.9C211.4,521.5 218.3,521.5 227.7,523.1C237.1,524.7 243.8,527.7 255.5,530.5C267.2,533.3 290.7,538.2 297.8,539.8M297.8,539.8C301.5,538.5 312,534.8 320.4,532.4C328.8,529.9 338.9,526.8 348.2,525C357.5,523.1 364.7,522.2 376,521.3C387.3,520.3 406.3,519.9 416,519.4C425.7,518.9 431.3,518.6 434.4,518.5M102.3,520.9C118.4,521.1 175,520.5 199,521.9C223,523.2 229.8,526.3 246.3,529.3C262.7,532.2 289.2,537.8 297.8,539.5M297.8,539.5C304.6,537.8 325.9,531.9 338.9,529.3C352,526.6 363.1,525.3 376,523.7C388.8,522.2 406.3,520.9 416,520C425.7,519.1 431.3,518.7 434.4,518.5M102.3,520C110.8,521.2 137.5,523.7 153.6,527.4C169.7,531.1 191.4,539.8 199,542.2M102.3,544.1C118.4,544.1 175,543.8 199,544.1C223,544.3 229.8,544.9 246.3,545.6C262.7,546.3 289.2,547.7 297.8,548.2M297.8,548.2C304.6,547.6 325.9,546 338.9,545C352,544 363.1,543 376,542.2C388.8,541.5 406.3,540.8 416,540.4C425.7,540 431.3,539.8 434.4,539.7M102.3,545.9C110.8,546.3 137.5,546.9 153.6,547.8C169.7,548.7 183.6,550.2 199,551.1C214.4,552.1 229.8,552.6 246.3,553.4C262.7,554.1 289.2,555.2 297.8,555.6M297.8,555.6C301.5,554.7 310.4,552.6 320.4,550.6C330.3,548.5 345.1,545.8 357.5,543.2C369.8,540.5 384.8,536.8 394.5,534.8C404.3,532.8 409.4,533.4 416,531.1C422.7,528.8 431.3,522.6 434.4,520.9M199,551.1C202.2,552.1 210.6,555.6 218.5,557.1C226.3,558.5 237,560.3 246.3,559.8C255.5,559.4 265.5,556.3 274.1,554.3C282.6,552.3 293.8,548.9 297.8,547.8M102.3,561.7C107.7,562.2 123.4,562.8 135.1,564.5C146.7,566.2 161.5,569.9 172.1,571.9C182.8,573.9 194.5,575.8 199,576.5M199,576.5C203.8,575.8 219.8,573.9 227.7,571.9C235.6,569.9 238.5,567.4 246.3,564.5C254,561.5 269.4,556 274.1,554.3M102.3,561.7C106.2,562.8 117.2,565.6 125.8,568.2C134.4,570.8 144.3,574.7 153.6,577.4C162.9,580.2 173.8,583.5 181.4,584.9C189,586.3 196.1,585.6 199,585.8M199,585.8C203.8,585.3 216.8,583.6 227.7,583C238.7,582.4 253.1,581.6 264.8,582.1C276.5,582.5 292.3,585.2 297.8,585.8M297.8,585.8C301.5,584.7 310.4,582.2 320.4,579.3C330.3,576.4 345.1,571.9 357.5,568.2C369.8,564.5 384.8,560.5 394.5,557.1C404.3,553.7 409.4,550.7 416,547.8C422.7,544.9 431.3,541.1 434.4,539.7M102.3,562.6C106.2,563.9 117.2,566.6 125.8,570C134.4,573.4 144.3,579 153.6,583C162.9,587 173.8,591 181.4,594.1C189,597.2 196.1,600.3 199,601.5M199,601.5C203.8,601.9 216.8,602.3 227.7,603.4C238.7,604.5 253.1,606.2 264.8,608C276.5,609.9 292.3,613.4 297.8,614.5M297.8,614.5C301.5,613 312,609 320.4,605.2C328.8,601.5 338.9,596.3 348.2,592.3C357.5,588.3 368.3,584.2 376,581.2C383.7,578.1 387.8,576.5 394.5,573.7C401.2,571 409.4,566.3 416,564.5C422.7,562.6 431.3,562.9 434.4,562.6M199,601.5C203.8,602.5 218.3,603.7 227.7,607.1C237.1,610.5 246.3,617.6 255.5,621.9C264.8,626.3 276.3,631 283.3,633C290.4,635.1 293.1,634.3 297.8,634C302.4,633.7 304.3,634.4 311.1,631.2C318,628 329.7,620.4 338.9,614.5C348.2,608.6 357.5,602.5 366.7,596C376,589.5 386.3,580.8 394.5,575.6C402.7,570.3 409.4,566.6 416,564.5C422.7,562.3 431.3,562.9 434.4,562.6M199,551.1C203.8,553 216.8,557.9 227.7,562.6C238.7,567.3 253.1,575.4 264.8,579.3C276.5,583.2 292.3,584.7 297.8,585.8M227.7,564.5C233.9,565.2 253.1,568.1 264.8,569.1C276.5,570.1 285.4,570.9 297.8,570.4C310.1,569.9 325.9,567.6 338.9,566.3C352,565 363.1,563.4 376,562.6C388.8,561.9 406.3,561.7 416,561.7C425.7,561.7 431.3,562.5 434.4,562.6M102.3,641.4C118.4,641.4 166.4,641.2 199,641.4C231.6,641.5 261.6,642.2 297.8,642.3C333.9,642.5 393.2,642.3 416,642.3C438.8,642.3 431.3,642.2 434.4,642.1M102.3,643.2C107.7,644 123.4,645.2 135.1,647.9C146.7,650.5 161.5,656.7 172.1,659C182.8,661.3 189.7,661.5 199,661.8C208.3,662.1 216.8,661.5 227.7,660.8C238.7,660.2 253.1,658.7 264.8,658.1C276.5,657.4 285.4,658.5 297.8,657.1C310.1,655.7 325.9,651.6 338.9,649.7C352,647.9 363.1,647.1 376,646C388.8,644.9 406.3,643.9 416,643.2C425.7,642.6 431.3,642.3 434.4,642.1M218.5,642.3C226.2,643.5 251.6,647.4 264.8,649.7C278,652 288.5,654.7 297.8,656.2C307,657.8 313.5,658.4 320.4,659C327.2,659.6 331.2,660.2 338.9,659.9C346.6,659.6 357.5,658.8 366.7,657.1C376,655.4 386.3,651.9 394.5,649.7C402.7,647.6 409.4,645.4 416,644.2C422.7,642.9 431.3,642.5 434.4,642.1M102.3,675.3C110.8,674.6 137.5,672.5 153.6,671C169.7,669.6 183.6,667.2 199,666.4C214.4,665.6 229.8,666.4 246.3,666.4C262.7,666.4 282.3,665.9 297.8,666.4C313.2,666.9 325.9,668.3 338.9,669.2C352,670.1 363.1,671 376,672C388.8,672.9 406.3,674.3 416,674.7C425.7,675.1 431.3,674.4 434.4,674.3M102.3,675.7C110.8,676.6 137.5,678.9 153.6,681.2C169.7,683.5 183.6,688.3 199,689.6C214.4,690.8 229.8,688.6 246.3,688.6C262.7,688.6 285.4,688.8 297.8,689.6C310.1,690.3 310.4,690.7 320.4,693.3C330.3,695.9 345.1,702.1 357.5,705.3C369.8,708.6 384.8,711.3 394.5,712.7C404.3,714.1 409.4,713.5 416,713.7C422.7,713.8 431.3,713.7 434.4,713.7M102.3,713.7C109.3,713.2 128.2,714.9 144.3,710.9C160.5,706.9 189.9,693.1 199,689.6M199,689.6C206.9,689 229.8,687.1 246.3,685.9C262.7,684.6 282.3,682.6 297.8,682.2C313.2,681.7 325.9,683.4 338.9,683.1C352,682.8 363.1,681.5 376,680.3C388.8,679.1 406.3,676.7 416,675.7C425.7,674.7 431.3,674.6 434.4,674.3M199,668.3C206.9,668.4 232.2,668.9 246.3,669.2C260.3,669.5 274.7,670.3 283.3,670.1C291.9,670 288.5,668.6 297.8,668.3C307,667.9 325.9,667.6 338.9,668.3C352,668.9 363.1,670.9 376,672C388.8,673 406.3,674.3 416,674.7C425.7,675.1 431.3,674.4 434.4,674.3M102.3,713.7C118.4,713.7 178.1,713.8 199,713.7C219.9,713.5 218.3,713.8 227.7,712.7C237.1,711.7 246.3,709 255.5,707.2C264.8,705.3 276.3,702.7 283.3,701.6C290.4,700.5 291.6,700.5 297.8,700.7C304,700.8 310.4,701.2 320.4,702.5C330.3,703.9 346.6,707.3 357.5,709C368.3,710.7 375.5,712 385.2,712.7C395,713.5 407.8,713.5 416,713.7C424.2,713.8 431.3,713.7 434.4,713.7M102.3,728.5C110.8,727.9 137.5,724.8 153.6,724.8C169.7,724.8 191.4,727.9 199,728.5M199,728.5C206.9,727.9 229.8,725.6 246.3,724.8C262.7,724 282.3,724.5 297.8,723.9C313.2,723.2 325.9,721.2 338.9,721.1C352,720.9 363.1,721.7 376,722.9C388.8,724.2 406.3,727.6 416,728.5C425.7,729.4 431.3,728.5 434.4,728.5M434.4,475.8C434.4,475.8 432.4,476.2 434.5,475.8C436.6,475.5 441.9,476.3 447.1,474C452.3,471.7 459.4,466.1 465.6,461.9C471.8,457.8 478,453.3 484.1,449C490.3,444.7 497.1,439.7 502.7,436C508.2,432.3 512.9,429.4 517.5,426.7C522.1,424.1 528,421.3 530.1,420.3M530.1,420.3C533.2,420.1 541.2,420.6 549,419.3C556.8,418.1 567.5,415.5 576.8,412.8C586.1,410.2 596.2,405.7 604.6,403.6C613,401.4 623.5,400.5 627.3,399.9M434.5,475.8C450.4,475.8 511.9,476.3 530.1,475.8C548.3,475.4 538.7,474.5 543.4,473.1C548.1,471.7 552.7,469.7 558.3,467.5C563.8,465.3 570.6,462.3 576.8,460.1C583,457.9 589.1,456.2 595.3,454.5C601.5,452.8 608.5,451 613.9,449.9C619.2,448.8 625.1,448.4 627.3,448M434.4,451.2C439.6,451.3 454.2,450.9 465.6,451.8C477,452.6 491.9,455.3 502.7,456.4C513.4,457.5 519.3,457.6 530.1,458.2C540.9,458.9 556.7,459.6 567.5,460.1C578.4,460.6 585.4,460.7 595.3,461C605.3,461.4 622,461.9 627.3,462.1M465.6,452.7C471.8,453.5 491.9,456.2 502.7,457.3C513.4,458.4 519.3,458.4 530.1,459.2C540.9,459.9 558.2,460.6 567.5,461.9C576.9,463.3 579.9,465.5 586.1,467.5C592.2,469.5 599.3,472.3 604.6,474C609.8,475.7 613.8,477 617.6,477.7C621.4,478.4 625.7,478.3 627.3,478.4M434.4,539.7C436.5,538.8 441.9,536.4 447.1,534.2C452.3,532.1 459.8,529.8 465.6,526.8C471.4,523.8 474.1,520.3 481.7,516.1C489.3,511.8 503.1,505.3 511.2,501.2C519.2,497.2 526.9,493.2 530.1,491.6M530.1,491.6C534.8,491.6 547.4,491.6 558.3,491.6C569.1,491.6 583.8,492.2 595.3,491.6C606.8,491 622,488.5 627.3,487.9M530.1,542.6C533.2,541.2 541.2,538.4 549,534.2C556.8,530.1 567.5,522.8 576.8,517.5C586.1,512.3 596.2,506.7 604.6,502.7C613,498.7 623.5,495 627.3,493.5M434.4,518.5C434.4,518.5 426.2,518.3 434.5,518.5C442.8,518.6 468.2,519.1 484.1,519.4C500.1,519.7 517.7,519.7 530.1,520.3C542.4,520.9 547.4,521.4 558.3,523.1C569.1,524.8 583.8,527.7 595.3,530.5C606.8,533.3 622,538.2 627.3,539.8M456.3,523.1C461,524 474.9,526.2 484.1,528.7C493.4,531.1 504.3,535.5 511.9,537.9C519.6,540.4 527.1,542.6 530.1,543.5M434.4,544.4C434.4,544.4 418.5,544.4 434.5,544.4C450.4,544.4 506.4,544.1 530.1,544.4C553.8,544.7 560.6,545.8 576.8,546.3C593,546.7 619,547 627.4,547.2M627.3,399.9C643.7,399.9 705.6,399.6 725.3,399.9C745,400.2 735.8,400.2 745.3,401.7C754.8,403.3 770,406.7 782.4,409.1C794.7,411.6 808.6,414.7 819.5,416.5C830.3,418.4 840.3,419.5 847.2,420.3C854.2,421 858.8,420.7 861.1,420.8M627.3,448C630,447.4 637.6,446.7 643.4,444.3C649.2,442 655.7,438 661.9,434.1C668.1,430.3 674.3,425.3 680.5,421.2C686.6,417 692.8,412.5 699,409.1C705.2,405.7 713.1,402.3 717.5,400.8C721.9,399.2 724,400 725.3,399.9M725.3,399.9C727.1,400.3 731.2,400.3 736.1,402.6C740.9,405 748.4,410.1 754.6,413.8C760.8,417.5 766.9,420.9 773.1,424.9C779.3,428.9 785.5,433.5 791.7,437.9C797.8,442.2 804,446.7 810.2,450.8C816.4,455 822.5,459.2 828.7,462.9C834.9,466.6 841.8,470.9 847.2,473.1C852.7,475.2 858.8,475.4 861.1,475.8M627.3,462.1C631.5,462.4 643.8,462.6 652.7,463.8C661.5,465 671.2,467.4 680.5,469.4C689.7,471.4 700.8,474.4 708.3,475.8C715.7,477.3 719.1,478.7 725.3,478.3C731.5,477.8 737.4,475.3 745.3,473.1C753.3,470.8 763.9,467 773.1,464.7C782.4,462.4 791.7,460.6 800.9,459.2C810.2,457.8 818.7,457 828.7,456.4C838.8,455.8 855.7,455.6 861.1,455.5M627.3,478.4C634.6,478.5 657.7,478.8 671.2,479C684.7,479.2 699.2,479.3 708.3,479.6C717.3,479.8 719.1,480.9 725.3,480.5C731.5,480 737.4,478.9 745.3,476.8C753.3,474.6 763.9,470.1 773.1,467.5C782.4,464.9 791.7,462.6 800.9,461C810.2,459.5 818.7,458.7 828.7,458.2C838.8,457.8 855.7,458.2 861.1,458.2M627.3,487.9C634.6,487.6 657.7,486.7 671.2,486C684.7,485.4 699.2,484.4 708.3,483.8C717.3,483.2 722.5,482.6 725.3,482.3M725.3,482.3C728.6,483.3 737.4,486.5 745.3,487.9C753.3,489.3 763.9,490.1 773.1,490.7C782.4,491.3 786.2,491.5 800.9,491.6C815.6,491.7 851.1,491.3 861.1,491.2M627.3,493.5C634.6,493.8 659.2,495.8 671.2,495.3C683.1,494.8 690,492.4 699,490.7C708,489 720.9,486 725.3,485.1M725.3,485.1C728.6,486 737.4,489.4 745.3,490.7C753.3,491.9 753.8,492.4 773.1,492.5C792.4,492.7 846.5,491.8 861.1,491.6M725.3,486C728.6,487.3 738.9,491 745.3,493.5C751.7,495.9 757.7,498.4 763.9,500.9C770,503.3 776.2,505.8 782.4,508.3C788.6,510.7 794.7,513.2 800.9,515.7C807.1,518.2 813.3,520.3 819.5,523.1C825.6,525.9 831,529 838,532.4C844.9,535.8 857.3,541.6 861.1,543.5M627.3,539.8C634.6,539.8 654.9,539.6 671.2,539.8C687.5,539.9 709.9,541.6 725.3,540.7C740.8,539.8 751.3,536.5 763.9,534.2C776.5,531.9 790.1,528.8 800.9,526.8C811.7,524.8 818.7,523.3 828.7,522.2C838.8,521.1 855.7,520.6 861.1,520.3M434.4,520.9C434.4,520.9 426.2,520.9 434.5,520.9C442.8,520.9 468.2,520.8 484.1,520.9C500.1,521 514.6,520.7 530.1,521.5C545.5,522.3 564.4,523.6 576.8,525.6C589.2,527.5 596.2,530.8 604.6,533C613,535.1 623.5,537.6 627.3,538.5M434.4,544.1C434.4,544.1 418.5,544.1 434.5,544.1C450.4,544.1 506.4,543.8 530.1,544.1C553.8,544.4 560.6,545.3 576.8,545.9C593,546.6 618.9,547.5 627.3,547.8M434.4,546.4C439.6,546.4 449.6,546.2 465.6,546.9C481.5,547.6 511.6,549.2 530.1,550.6C548.6,552 560.6,554.4 576.8,555.2C593,556.1 618.9,555.6 627.3,555.7M530.1,549.7C534.8,550.9 550.5,555.4 558.3,557.1C566,558.8 570.6,560 576.8,559.8C583,559.7 589.1,557.8 595.3,556.1C601.5,554.4 608.5,551.1 613.9,549.7C619.2,548.2 625.1,547.8 627.4,547.4M434.4,562.6C434.4,562.6 429.3,562.5 434.5,562.6C439.7,562.8 454.2,562.3 465.6,563.6C477,564.8 491.9,567.9 502.7,570C513.4,572.2 525.5,575.4 530.1,576.5M530.1,576.5C533.1,576.1 542,575.3 548.1,573.7C554.1,572.2 561.7,568.9 566.6,567.3C571.5,565.6 573.1,564.1 577.7,563.9C582.4,563.8 588.7,565.4 594.6,566.3C600.5,567.3 607.7,569 613.1,569.7C618.6,570.4 625,570.4 627.3,570.5M434.5,563.6C439.7,564.6 455.8,568 465.6,570C475.4,572 485.7,573.7 493.4,575.6C501.1,577.4 505.8,579.6 511.9,581.2C518,582.7 527.1,584.2 530.1,584.9M530.1,584.9C534.8,584.6 547.4,583.5 558.3,583C569.1,582.5 583.8,581.8 595.3,582.1C606.8,582.4 622,584.4 627.3,584.9M434.4,563.6C434.4,563.6 430.8,562.8 434.5,563.6C438.1,564.3 448.1,565.6 456.3,568.2C464.6,570.8 474.9,575 484.1,579.3C493.4,583.6 504.3,590.4 511.9,594.1C519.6,597.8 527.1,600.3 530.1,601.5M530.1,601.5C534.8,601.9 547.4,602.2 558.3,603.4C569.1,604.6 583.8,607.1 595.3,609C606.8,610.8 622,613.6 627.3,614.5M530.1,601.5C534.8,602.8 548.9,605.2 558.3,609C567.6,612.7 576.8,619.9 586.1,623.8C595.3,627.6 607,630.6 613.9,632.1C620.7,633.7 625.1,632.9 627.3,633M530.1,550.6C533.2,551.7 541.8,554 549,557.1C556.2,560.2 565.4,565.7 573.1,569.1C580.8,572.5 586.3,574.8 595.3,577.4C604.4,580.1 622,583.6 627.3,584.9M434.4,642.1C450.3,642 497.9,641.5 530.1,641.4C562.2,641.3 611.1,641.4 627.3,641.4M434.4,644.5C439.6,644.7 455.8,644.2 465.6,646C475.4,647.8 485.7,652.8 493.4,655.3C501.1,657.8 505.8,659.8 511.9,660.8C518,661.9 519.9,661.6 530.1,661.8C540.3,661.9 559.1,662.2 573.1,661.8C587,661.3 604.8,659.1 613.9,659C622.9,658.9 625.1,660.8 627.3,661.1M539.7,642.3C545.9,643.2 566,646.2 576.8,647.9C587.6,649.6 596.2,651.3 604.6,652.5C613,653.7 623.5,654.7 627.3,655.1M434.4,674.3C439.6,674.3 449.6,675.1 465.6,673.8C481.5,672.5 511.6,667.6 530.1,666.4C548.6,665.2 560.6,666.2 576.8,666.4C593,666.6 618.9,667.6 627.3,667.8M434.4,677.8C439.6,678.1 449.6,677.6 465.6,679.4C481.5,681.2 511.6,687.3 530.1,688.6C548.6,690 560.6,688.6 576.8,687.7C593,686.9 618.9,684.2 627.3,683.5M530.1,689.6C537.9,689.7 560.6,690.5 576.8,690.5C593,690.5 618.9,689.7 627.3,689.6M434.4,712.4C439.6,712.2 454.2,712.7 465.6,710.9C477,709.1 491.9,705.2 502.7,701.6C513.4,698.1 525.5,691.6 530.1,689.6M434.4,713.7C450.3,713.7 509.4,713.8 530.1,713.7C550.7,713.5 548.9,713.8 558.3,712.7C567.6,711.7 576.8,709.2 586.1,707.2C595.3,705.2 606.3,701.9 613.9,700.7C621.4,699.5 628.5,699.9 631.5,699.8M434.4,728.5C434.4,728.5 426.2,729.1 434.5,728.5C442.8,727.9 468.2,724.8 484.1,724.8C500.1,724.8 522.4,727.9 530.1,728.5M530.1,728.5C537.9,727.9 562.8,725.7 576.8,724.8C590.8,723.9 604.7,723.2 613.9,722.9C623,722.6 628.5,722.9 631.5,722.9M627.3,538.5C634.6,538.5 654.9,538.2 671.2,538.5C687.5,538.8 709.9,541 725.3,540.4C740.8,539.8 751.3,537 763.9,534.8C776.5,532.7 788.6,529.4 800.9,527.4C813.3,525.4 827.9,523.7 838,522.8C848,521.9 857.3,522 861.1,521.9M627.3,547.8C634.6,548 654.9,547.5 671.2,548.7C687.5,550 709.9,554.9 725.3,555.2C740.8,555.5 751.3,552 763.9,550.6C776.5,549.2 784.7,548 800.9,546.9C817.1,545.7 851.1,544.2 861.1,543.7M627.3,555.7C634.6,555.3 654.9,555.6 671.2,553.4C687.5,551.1 716.3,544.1 725.3,542.2M725.3,542.2C731.7,542.9 751.3,544.1 763.9,545.9C776.5,547.8 788.6,550.3 800.9,553.4C813.3,556.4 827.9,560.8 838,564.5C848,568.2 857.3,573.7 861.1,575.6M627.3,570.5C631.5,570 642.3,568.9 652.7,567.3C663.1,565.6 677.6,562.8 689.7,560.8C701.8,558.8 713,555.5 725.3,555.2C737.7,554.9 751.3,557.4 763.9,558.9C776.5,560.5 790.1,562.8 800.9,564.5C811.7,566.2 818.7,571.4 828.7,569.1C838.8,566.8 855.7,553.7 861.1,550.6M627.3,584.9C631.5,583.3 642.3,578.8 652.7,575.6C663.1,572.4 677.6,568.8 689.7,565.4C701.8,562 719.4,556.9 725.3,555.2M627.3,584.9C631.5,587 643.8,592.9 652.7,597.8C661.5,602.8 671.2,609.6 680.5,614.5C689.7,619.5 700.8,624.7 708.3,627.5C715.7,630.3 716,634.3 725.3,631.2C734.6,628.1 751.3,616.4 763.9,609C776.5,601.5 791,591.7 800.9,586.7C810.8,581.8 817,580.2 823.2,579.3C829.3,578.4 831.7,580.2 838,581.2C844.3,582.1 857.3,584.2 861.1,584.9M627.3,614.5C631.5,615 643.8,615.7 652.7,617.3C661.5,618.8 671.2,621.8 680.5,623.8C689.7,625.8 700.8,628.1 708.3,629.3C715.7,630.6 716,632.1 725.3,631.2C734.6,630.3 751.3,626.9 763.9,623.8C776.5,620.7 788.6,615.7 800.9,612.7C813.3,609.6 827.9,607.1 838,605.2C848,603.4 857.3,602.2 861.1,601.5M627.3,633C636.2,633.1 667,632.8 680.5,633.4C693.9,634 700.8,635.7 708.3,636.8C715.7,637.8 722.5,639.1 725.3,639.5M725.3,639.5C731.7,637.2 751.3,629.8 763.9,625.6C776.5,621.5 784.7,618.4 800.9,614.5C817.1,610.7 851.1,604.5 861.1,602.5M627.3,641.4C634.6,641.5 657.7,640.9 671.2,642.3C684.7,643.7 699.2,647.9 708.3,649.7C717.3,651.6 716,653.4 725.3,653.4C734.6,653.4 751.3,651.3 763.9,649.7C776.5,648.2 784.7,645.6 800.9,644.2C817.1,642.8 851.1,641.8 861.1,641.4M627.3,655.1C634.6,655.1 654.9,655.1 671.2,655.3C687.5,655.5 709.9,655.7 725.3,656.2C740.8,656.7 751.3,657.3 763.9,658.1C776.5,658.8 784.7,660.5 800.9,660.8C817.1,661.2 851.1,660.1 861.1,659.9M627.3,661.1C634.6,661.4 654.9,663.2 671.2,662.7C687.5,662.2 716.3,658.8 725.3,658.1M725.3,658.1C731.7,660.1 755.9,667.9 763.9,670.1C771.8,672.3 766.9,671.7 773.1,671C779.3,670.4 786.2,667.2 800.9,666.4C815.6,665.6 851.1,666.4 861.1,666.4M627.3,667.8C634.6,668.5 657.7,669.7 671.2,672C684.7,674.2 699.2,679.1 708.3,681.2C717.3,683.3 716,685.3 725.3,684.6C734.6,683.8 754.3,677.8 763.9,676.6C773.4,675.4 773.1,675.8 782.4,677.5C791.7,679.2 806.3,684.8 819.5,686.8C832.6,688.8 854.2,689.1 861.1,689.6M627.3,683.5C634.6,682.2 657.7,679.1 671.2,675.7C684.7,672.2 699.2,665.6 708.3,662.7C717.3,659.8 722.5,658.8 725.3,658.1M627.3,689.6C631.5,689.9 643.8,690.8 652.7,691.4C661.5,692 675.8,693 680.5,693.3M763.9,694.2C770,693.7 784.7,692.2 800.9,691.4C817.1,690.7 851.1,689.9 861.1,689.6M834.3,713.3L861.1,713.7M834.3,728.1L861.1,728.5" fill="none" stroke="#000" stroke-width="3.1" stroke-linecap="round" stroke-linejoin="round"/></svg><rect x="632.3" y="694.2" width="220.7" height="58.5" fill="#fff"/><text class="t" transform="translate(652.3,735) scale(1.2220,1)">(a) DP-Fe</text><rect x="102.4" y="252.5" width="758.9" height="501.7" fill="none" stroke="#111" stroke-width="1.3"/><line x1="102.4" y1="754.2" x2="109.4" y2="754.2" stroke="#000" stroke-width="1.2"/><line x1="854.3" y1="754.2" x2="861.3" y2="754.2" stroke="#000" stroke-width="1.2"/><text class="t" transform="translate(76.2,765.5) scale(1.05,1)">8</text><text class="t" transform="translate(47.5,768.4) scale(1.375,1)">−</text><line x1="102.4" y1="682.5" x2="109.4" y2="682.5" stroke="#000" stroke-width="1.2"/><line x1="854.3" y1="682.5" x2="861.3" y2="682.5" stroke="#000" stroke-width="1.2"/><text class="t" transform="translate(76.2,693.8) scale(1.05,1)">6</text><text class="t" transform="translate(47.5,696.7) scale(1.375,1)">−</text><line x1="102.4" y1="610.9" x2="109.4" y2="610.9" stroke="#000" stroke-width="1.2"/><line x1="854.3" y1="610.9" x2="861.3" y2="610.9" stroke="#000" stroke-width="1.2"/><text class="t" transform="translate(76.2,622.2) scale(1.05,1)">4</text><text class="t" transform="translate(47.5,625.1) scale(1.375,1)">−</text><line x1="102.4" y1="539.2" x2="109.4" y2="539.2" stroke="#000" stroke-width="1.2"/><line x1="854.3" y1="539.2" x2="861.3" y2="539.2" stroke="#000" stroke-width="1.2"/><text class="t" transform="translate(76.2,550.5) scale(1.05,1)">2</text><text class="t" transform="translate(47.5,553.4) scale(1.375,1)">−</text><line x1="102.4" y1="467.5" x2="109.4" y2="467.5" stroke="#000" stroke-width="1.2"/><line x1="854.3" y1="467.5" x2="861.3" y2="467.5" stroke="#000" stroke-width="1.2"/><text class="t" transform="translate(76.2,478.8) scale(1.05,1)">0</text><line x1="102.4" y1="395.8" x2="109.4" y2="395.8" stroke="#000" stroke-width="1.2"/><line x1="854.3" y1="395.8" x2="861.3" y2="395.8" stroke="#000" stroke-width="1.2"/><text class="t" transform="translate(76.2,407.1) scale(1.05,1)">2</text><line x1="102.4" y1="324.2" x2="109.4" y2="324.2" stroke="#000" stroke-width="1.2"/><line x1="854.3" y1="324.2" x2="861.3" y2="324.2" stroke="#000" stroke-width="1.2"/><text class="t" transform="translate(76.2,335.5) scale(1.05,1)">4</text><line x1="102.4" y1="252.5" x2="109.4" y2="252.5" stroke="#000" stroke-width="1.2"/><line x1="854.3" y1="252.5" x2="861.3" y2="252.5" stroke="#000" stroke-width="1.2"/><text class="t" transform="translate(76.2,263.8) scale(1.05,1)">6</text><line x1="199.6" y1="748.2" x2="199.6" y2="754.2" stroke="#000" stroke-width="1.2"/><line x1="298" y1="748.2" x2="298" y2="754.2" stroke="#000" stroke-width="1.2"/><line x1="434.4" y1="748.2" x2="434.4" y2="754.2" stroke="#000" stroke-width="1.2"/><line x1="530" y1="748.2" x2="530" y2="754.2" stroke="#000" stroke-width="1.2"/><line x1="627.4" y1="748.2" x2="627.4" y2="754.2" stroke="#000" stroke-width="1.2"/><line x1="725.3" y1="748.2" x2="725.3" y2="754.2" stroke="#000" stroke-width="1.2"/><text class="t i k" transform="translate(87.3,792.3) scale(1.2,1)">Γ</text><text class="t i k" transform="translate(184.7,792.3) scale(1.3,1)">X</text><text class="t i k" transform="translate(280,792.3) scale(1.1,1)">M</text><text class="t i k" transform="translate(421.4,792.3) scale(1.2,1)">Γ</text><text class="t i k" transform="translate(517.5,792.3) scale(1.2,1)">Z</text><text class="t i k" transform="translate(614,792.3) scale(1.3,1)">R</text><text class="t i k" transform="translate(739.2,792.3) scale(1,1)">A</text><text class="t i k" transform="translate(846.1,792.3) scale(1.2,1)">Z</text></g><g><line x1="102.4" y1="1048.8" x2="861.3" y2="1048.8" stroke="#888" stroke-width="1"/><line x1="199.6" y1="833.8" x2="199.6" y2="1335.5" stroke="#777" stroke-width="1.2"/><line x1="298" y1="833.8" x2="298" y2="1335.5" stroke="#777" stroke-width="1.2"/><line x1="434.4" y1="833.8" x2="434.4" y2="1335.5" stroke="#777" stroke-width="1.2"/><line x1="530" y1="833.8" x2="530" y2="1335.5" stroke="#777" stroke-width="1.2"/><line x1="627.4" y1="833.8" x2="627.4" y2="1335.5" stroke="#777" stroke-width="1.2"/><line x1="725.3" y1="833.8" x2="725.3" y2="1335.5" stroke="#777" stroke-width="1.2"/><svg x="90.4" y="833.8" width="782.9" height="501.7" viewBox="90.4 833.8 782.9 501.7" overflow="hidden"><g fill="#0000ff"><circle cx="102.4" cy="1031.8" r="6"/><circle cx="117.6" cy="1032.1" r="5.5"/><circle cx="132.8" cy="1032.6" r="5.5"/><circle cx="147.9" cy="1033.3" r="5.5"/><circle cx="163.1" cy="1034.2" r="6"/><circle cx="178.3" cy="1037.8" r="6"/><circle cx="193.5" cy="1039.1" r="6"/><circle cx="208.6" cy="1040.3" r="6"/><circle cx="223.8" cy="1041.6" r="6"/><circle cx="239" cy="1040" r="6"/><circle cx="254.2" cy="1040" r="6"/><circle cx="269.4" cy="1041.7" r="6"/><circle cx="284.5" cy="1042.2" r="6"/><circle cx="299.7" cy="1042.3" r="6"/><circle cx="314.9" cy="1041.7" r="6"/><circle cx="330.1" cy="1040.4" r="6"/><circle cx="345.2" cy="1037.4" r="6"/><circle cx="360.4" cy="1037" r="6"/><circle cx="375.6" cy="1035.1" r="6"/><circle cx="390.8" cy="1033.5" r="6"/><circle cx="406" cy="1032.5" r="6"/><circle cx="421.1" cy="1032.1" r="6"/><circle cx="436.3" cy="1032.5" r="6"/><circle cx="239" cy="1040" r="5"/><circle cx="254.2" cy="1048.7" r="6"/><circle cx="269.4" cy="1052.7" r="6.5"/><circle cx="284.5" cy="1056.5" r="7"/><circle cx="299.7" cy="1059.3" r="7.5"/><circle cx="314.9" cy="1054.3" r="6.5"/><circle cx="330.1" cy="1049" r="6"/><circle cx="345.2" cy="1044.2" r="5.5"/><circle cx="102.4" cy="1121" r="3"/><circle cx="117.6" cy="1116.7" r="3"/><circle cx="132.8" cy="1110.4" r="3.5"/><circle cx="147.9" cy="1100.6" r="3.5"/><circle cx="163.1" cy="1093.4" r="3.5"/><circle cx="178.3" cy="1084.5" r="3.5"/><circle cx="193.5" cy="1076" r="3.5"/><circle cx="208.6" cy="1072.9" r="3"/><circle cx="223.8" cy="1072.9" r="3"/><circle cx="239" cy="1073.1" r="3"/><circle cx="254.2" cy="1073.5" r="3"/><circle cx="269.4" cy="1072.9" r="3"/><circle cx="284.5" cy="1071.1" r="3"/><circle cx="299.7" cy="1069.8" r="3"/><circle cx="102.4" cy="1125.4" r="6.5"/><circle cx="117.6" cy="1125.4" r="6"/><circle cx="132.8" cy="1125.3" r="6"/><circle cx="147.9" cy="1125.3" r="6"/><circle cx="163.1" cy="1125.3" r="6"/><circle cx="178.3" cy="1125.3" r="6"/><circle cx="193.5" cy="1125.3" r="6"/><circle cx="208.6" cy="1120.8" r="3.5"/><circle cx="223.8" cy="1112.3" r="3.5"/><circle cx="239" cy="1103" r="3.5"/><circle cx="254.2" cy="1094.9" r="3.5"/><circle cx="269.4" cy="1088" r="3.5"/><circle cx="284.5" cy="1081" r="3.5"/><circle cx="299.7" cy="1075.2" r="3"/><circle cx="314.9" cy="1074.7" r="3"/><circle cx="330.1" cy="1080.3" r="3.5"/><circle cx="345.2" cy="1086.5" r="3.5"/><circle cx="360.4" cy="1093.2" r="4"/><circle cx="375.6" cy="1100.5" r="4"/><circle cx="390.8" cy="1111.9" r="4.5"/><circle cx="406" cy="1118.3" r="5"/><circle cx="421.1" cy="1126.9" r="5.5"/><circle cx="436.3" cy="1125.7" r="6"/><circle cx="436.3" cy="1032.5" r="5.5"/><circle cx="451.5" cy="1032.5" r="5.5"/><circle cx="466.7" cy="1033.1" r="5.5"/><circle cx="481.9" cy="1034.9" r="5.8"/><circle cx="497" cy="1037" r="6"/><circle cx="512.2" cy="1038.5" r="6"/><circle cx="527.4" cy="1039.4" r="6"/><circle cx="542.6" cy="1040.2" r="6"/><circle cx="557.7" cy="1041" r="6"/><circle cx="572.9" cy="1041.6" r="6"/><circle cx="588.1" cy="1042.1" r="6"/><circle cx="603.3" cy="1042.6" r="6"/><circle cx="618.5" cy="1043.1" r="6"/><circle cx="633.6" cy="1043.7" r="6"/><circle cx="648.8" cy="1044.7" r="6.3"/><circle cx="664" cy="1047.1" r="6.5"/><circle cx="679.2" cy="1050.4" r="6.5"/><circle cx="694.3" cy="1053.9" r="7"/><circle cx="709.5" cy="1057.4" r="8"/><circle cx="724.7" cy="1059.6" r="8.5"/><circle cx="739.9" cy="1056" r="7.5"/><circle cx="755.1" cy="1051.4" r="7"/><circle cx="770.2" cy="1049.7" r="6.5"/><circle cx="785.4" cy="1045.5" r="6.5"/><circle cx="800.6" cy="1042.4" r="6.5"/><circle cx="815.8" cy="1040.4" r="6.5"/><circle cx="830.9" cy="1039.5" r="6.5"/><circle cx="846.1" cy="1039.4" r="6.8"/><circle cx="861.3" cy="1038.2" r="7"/><circle cx="572.9" cy="1042.8" r="5.5"/><circle cx="588.1" cy="1049.5" r="6"/><circle cx="603.3" cy="1054.9" r="6.5"/><circle cx="618.5" cy="1059.2" r="7"/><circle cx="633.6" cy="1059.8" r="8"/><circle cx="648.8" cy="1060" r="8"/><circle cx="664" cy="1060.2" r="8"/><circle cx="679.2" cy="1060.4" r="8"/><circle cx="694.3" cy="1060.6" r="8"/><circle cx="709.5" cy="1057.4" r="8"/><circle cx="724.7" cy="1061.8" r="8.5"/><circle cx="527.4" cy="1074.3" r="3"/><circle cx="542.6" cy="1072.9" r="3"/><circle cx="557.7" cy="1072.9" r="3"/><circle cx="572.9" cy="1073.1" r="3"/><circle cx="588.1" cy="1073.1" r="3"/><circle cx="603.3" cy="1072.3" r="3"/><circle cx="618.5" cy="1070.4" r="3"/><circle cx="633.6" cy="1075.1" r="4"/><circle cx="648.8" cy="1076" r="3.8"/><circle cx="664" cy="1076.6" r="3.7"/><circle cx="679.2" cy="1075.9" r="3.5"/><circle cx="694.3" cy="1072.9" r="4.7"/><circle cx="709.5" cy="1069.8" r="5.8"/><circle cx="724.7" cy="1066.5" r="7"/><circle cx="739.9" cy="1072.7" r="3.6"/><circle cx="755.1" cy="1073.3" r="3.4"/><circle cx="770.2" cy="1073.8" r="3.4"/><circle cx="785.4" cy="1072.6" r="3.3"/><circle cx="800.6" cy="1072.9" r="3.2"/><circle cx="815.8" cy="1072.9" r="3.2"/><circle cx="830.9" cy="1072.8" r="3.1"/><circle cx="846.1" cy="1072.7" r="3.1"/><circle cx="861.3" cy="1072.8" r="3"/><circle cx="436.3" cy="1120.2" r="3"/><circle cx="451.5" cy="1113.8" r="3"/><circle cx="466.7" cy="1107.5" r="3"/><circle cx="481.9" cy="1097.3" r="3.5"/><circle cx="497" cy="1089.5" r="3.5"/><circle cx="512.2" cy="1082" r="3.5"/><circle cx="527.4" cy="1074.3" r="3.1"/><circle cx="542.6" cy="1118.7" r="3.5"/><circle cx="557.7" cy="1110.4" r="4"/><circle cx="572.9" cy="1101.1" r="3.5"/><circle cx="588.1" cy="1092.5" r="3.5"/><circle cx="603.3" cy="1084.7" r="3.5"/><circle cx="618.5" cy="1078.2" r="3.5"/><circle cx="724.7" cy="1066.5" r="4"/><circle cx="739.9" cy="1072.7" r="3.5"/><circle cx="755.1" cy="1078.6" r="3.5"/><circle cx="770.2" cy="1084.7" r="4"/><circle cx="785.4" cy="1090.8" r="4"/><circle cx="800.6" cy="1096.9" r="4"/><circle cx="815.8" cy="1105.3" r="4"/><circle cx="830.9" cy="1110.1" r="4.5"/><circle cx="846.1" cy="1117.6" r="5.1"/><circle cx="861.3" cy="1124.9" r="6.5"/><circle cx="436.3" cy="1125.4" r="5.9"/><circle cx="451.5" cy="1125.4" r="5.5"/><circle cx="466.7" cy="1125.3" r="5.5"/><circle cx="481.9" cy="1125.3" r="5.5"/><circle cx="497" cy="1125.3" r="5.5"/><circle cx="512.2" cy="1125.3" r="5.5"/><circle cx="527.4" cy="1125.4" r="6"/><circle cx="102.4" cy="1257" r="3"/><circle cx="117.6" cy="1255.4" r="3.1"/><circle cx="132.8" cy="1254.1" r="3.2"/><circle cx="147.9" cy="1252.8" r="3.2"/><circle cx="163.1" cy="1251.3" r="3.3"/><circle cx="178.3" cy="1249.6" r="3.4"/><circle cx="193.5" cy="1248.1" r="3.5"/><circle cx="208.6" cy="1247.4" r="3.5"/><circle cx="223.8" cy="1247.4" r="3.5"/><circle cx="239" cy="1247.7" r="3.5"/><circle cx="254.2" cy="1247.7" r="3.5"/><circle cx="269.4" cy="1247.6" r="3.5"/><circle cx="284.5" cy="1247.5" r="3.5"/><circle cx="299.7" cy="1247.8" r="3.5"/><circle cx="314.9" cy="1248.6" r="3.4"/><circle cx="330.1" cy="1249.3" r="3.4"/><circle cx="345.2" cy="1250" r="3.3"/><circle cx="360.4" cy="1251.6" r="3.3"/><circle cx="375.6" cy="1253.2" r="3.2"/><circle cx="390.8" cy="1254.4" r="3.2"/><circle cx="406" cy="1255.5" r="3.1"/><circle cx="421.1" cy="1256.2" r="3"/><circle cx="436.3" cy="1255.6" r="3"/><circle cx="451.5" cy="1255.8" r="3.1"/><circle cx="466.7" cy="1255" r="3.2"/><circle cx="481.9" cy="1253.3" r="3.3"/><circle cx="497" cy="1251.4" r="3.3"/><circle cx="512.2" cy="1249.5" r="3.4"/><circle cx="527.4" cy="1247.9" r="3.5"/><circle cx="542.6" cy="1247.2" r="3.6"/><circle cx="557.7" cy="1247.2" r="3.6"/><circle cx="572.9" cy="1247.6" r="3.7"/><circle cx="588.1" cy="1247.9" r="3.8"/><circle cx="603.3" cy="1240.9" r="3.9"/><circle cx="618.5" cy="1240.4" r="4"/><circle cx="633.6" cy="1242.8" r="4.1"/><circle cx="648.8" cy="1243.6" r="4.2"/><circle cx="664" cy="1244.1" r="4.4"/><circle cx="679.2" cy="1243.6" r="4.5"/><circle cx="694.3" cy="1242.4" r="4.7"/><circle cx="709.5" cy="1240.9" r="4.8"/><circle cx="724.7" cy="1239.5" r="5"/><circle cx="739.9" cy="1244" r="4.8"/><circle cx="755.1" cy="1238.8" r="4.7"/><circle cx="770.2" cy="1239.9" r="4.5"/><circle cx="785.4" cy="1241.3" r="4.3"/><circle cx="800.6" cy="1242.1" r="4.2"/><circle cx="815.8" cy="1247.4" r="4"/><circle cx="830.9" cy="1247.4" r="3.8"/><circle cx="846.1" cy="1247.6" r="3.7"/><circle cx="861.3" cy="1247.7" r="3.5"/><circle cx="102.4" cy="1257" r="3"/><circle cx="117.6" cy="1258.5" r="3"/><circle cx="132.8" cy="1260" r="3"/><circle cx="147.9" cy="1261.8" r="3"/><circle cx="163.1" cy="1264.2" r="3"/><circle cx="178.3" cy="1267.5" r="3"/><circle cx="193.5" cy="1270.3" r="3"/><circle cx="208.6" cy="1270.1" r="3"/><circle cx="223.8" cy="1268.9" r="3"/><circle cx="239" cy="1267.7" r="3"/><circle cx="254.2" cy="1266.5" r="3"/><circle cx="269.4" cy="1265.3" r="3"/><circle cx="284.5" cy="1264.1" r="3"/><circle cx="299.7" cy="1263.4" r="3"/><circle cx="314.9" cy="1263.7" r="3"/><circle cx="330.1" cy="1264.3" r="3"/><circle cx="345.2" cy="1264.2" r="3"/><circle cx="360.4" cy="1263.1" r="3"/><circle cx="375.6" cy="1261.6" r="3"/><circle cx="390.8" cy="1260" r="3"/><circle cx="406" cy="1258.1" r="3"/><circle cx="421.1" cy="1256.5" r="3"/><circle cx="436.3" cy="1255.6" r="3"/><circle cx="451.5" cy="1259.5" r="3"/><circle cx="466.7" cy="1260.8" r="3"/><circle cx="481.9" cy="1263" r="3"/><circle cx="497" cy="1265.5" r="3"/><circle cx="512.2" cy="1267.8" r="3"/><circle cx="527.4" cy="1269.7" r="3"/><circle cx="542.6" cy="1270.5" r="3.1"/><circle cx="557.7" cy="1270.2" r="3.1"/><circle cx="572.9" cy="1269.2" r="3.2"/><circle cx="588.1" cy="1268.3" r="3.3"/><circle cx="603.3" cy="1267" r="3.4"/><circle cx="618.5" cy="1265.6" r="3.5"/><circle cx="633.6" cy="1263.8" r="3.5"/><circle cx="648.8" cy="1261.4" r="3.6"/><circle cx="664" cy="1252.3" r="3.7"/><circle cx="679.2" cy="1254.6" r="3.8"/><circle cx="694.3" cy="1249.2" r="3.8"/><circle cx="709.5" cy="1243.6" r="3.9"/><circle cx="724.7" cy="1239.5" r="4"/><circle cx="102.4" cy="1257" r="2.5"/><circle cx="117.6" cy="1255.4" r="2.6"/><circle cx="132.8" cy="1254.1" r="2.7"/><circle cx="147.9" cy="1252.8" r="2.7"/><circle cx="163.1" cy="1251.3" r="2.8"/><circle cx="178.3" cy="1249.6" r="2.9"/><circle cx="193.5" cy="1248.1" r="3"/><circle cx="208.6" cy="1247.4" r="3"/><circle cx="223.8" cy="1247.4" r="3"/><circle cx="239" cy="1247.7" r="3"/><circle cx="254.2" cy="1240.1" r="3"/><circle cx="269.4" cy="1239.2" r="3"/><circle cx="284.5" cy="1239.2" r="3"/><circle cx="299.7" cy="1238.2" r="3"/><circle cx="314.9" cy="1239.8" r="3"/><circle cx="330.1" cy="1249.3" r="3"/><circle cx="345.2" cy="1250" r="3"/><circle cx="360.4" cy="1252.1" r="3"/><circle cx="375.6" cy="1253.2" r="3"/></g><g fill="#ff0000"><circle cx="102.4" cy="873.8" r="6.5"/><circle cx="117.6" cy="873.8" r="6"/><circle cx="132.8" cy="873.7" r="6"/><circle cx="147.9" cy="873.7" r="6"/><circle cx="163.1" cy="873.7" r="5.9"/><circle cx="178.3" cy="873.7" r="5.1"/><circle cx="193.5" cy="873.7" r="6"/><circle cx="208.6" cy="873.9" r="6"/><circle cx="223.8" cy="877.2" r="6"/><circle cx="239" cy="882.2" r="6"/><circle cx="254.2" cy="888.4" r="6.5"/><circle cx="269.4" cy="895.2" r="6.5"/><circle cx="284.5" cy="901.1" r="6.5"/><circle cx="299.7" cy="904.5" r="6.5"/><circle cx="314.9" cy="898.3" r="6.5"/><circle cx="330.1" cy="893.1" r="6.5"/><circle cx="345.2" cy="888.5" r="6.5"/><circle cx="360.4" cy="883.9" r="6.5"/><circle cx="375.6" cy="879.9" r="6.5"/><circle cx="390.8" cy="876.8" r="6.5"/><circle cx="406" cy="874.4" r="6.5"/><circle cx="421.1" cy="873.6" r="6.5"/><circle cx="436.3" cy="873.2" r="6.5"/><circle cx="102.4" cy="873.8" r="6.5"/><circle cx="117.6" cy="875.9" r="6"/><circle cx="132.8" cy="880.3" r="6.5"/><circle cx="147.9" cy="887.5" r="6.5"/><circle cx="163.1" cy="897.7" r="7"/><circle cx="178.3" cy="910.2" r="7"/><circle cx="193.5" cy="923.7" r="7.5"/><circle cx="208.6" cy="929.3" r="8"/><circle cx="223.8" cy="929.3" r="8"/><circle cx="239" cy="929.5" r="8"/><circle cx="254.2" cy="929.8" r="8.5"/><circle cx="269.4" cy="930" r="9"/><circle cx="284.5" cy="930.2" r="9"/><circle cx="299.7" cy="930.3" r="9"/><circle cx="314.9" cy="926.5" r="8.5"/><circle cx="330.1" cy="918.1" r="7.5"/><circle cx="345.2" cy="908.9" r="7"/><circle cx="360.4" cy="899.9" r="7"/><circle cx="375.6" cy="891.6" r="7"/><circle cx="390.8" cy="876.8" r="7"/><circle cx="406" cy="874.4" r="6.5"/><circle cx="421.1" cy="873.6" r="6.5"/><circle cx="436.3" cy="873.2" r="6.4"/><circle cx="451.5" cy="873.3" r="6"/><circle cx="466.7" cy="873.4" r="6"/><circle cx="481.9" cy="873.4" r="6"/><circle cx="497" cy="873.5" r="6"/><circle cx="512.2" cy="873.6" r="6"/><circle cx="527.4" cy="873.7" r="6"/><circle cx="542.6" cy="874.5" r="6"/><circle cx="557.7" cy="878.3" r="6"/><circle cx="572.9" cy="883.5" r="6"/><circle cx="588.1" cy="889.2" r="6"/><circle cx="603.3" cy="896.3" r="6"/><circle cx="618.5" cy="903.1" r="6"/><circle cx="633.6" cy="905.7" r="6.5"/><circle cx="648.8" cy="906.8" r="6.5"/><circle cx="664" cy="910.1" r="6.5"/><circle cx="679.2" cy="915.5" r="7"/><circle cx="694.3" cy="922" r="7.5"/><circle cx="709.5" cy="927.2" r="8"/><circle cx="724.7" cy="929" r="8"/><circle cx="739.9" cy="925.9" r="7.5"/><circle cx="755.1" cy="918.2" r="7.5"/><circle cx="770.2" cy="908.5" r="7"/><circle cx="785.4" cy="899.8" r="6.5"/><circle cx="800.6" cy="891.6" r="6.5"/><circle cx="815.8" cy="884" r="6.5"/><circle cx="830.9" cy="877.7" r="6.5"/><circle cx="846.1" cy="874.9" r="6.5"/><circle cx="861.3" cy="873.3" r="7"/><circle cx="436.3" cy="873.9" r="6.4"/><circle cx="451.5" cy="875.8" r="6"/><circle cx="466.7" cy="881.7" r="6"/><circle cx="481.9" cy="891.5" r="6"/><circle cx="497" cy="902.9" r="6"/><circle cx="512.2" cy="914.8" r="6.5"/><circle cx="527.4" cy="927.2" r="7"/><circle cx="542.6" cy="929.3" r="7.5"/><circle cx="557.7" cy="929.4" r="7.7"/><circle cx="572.9" cy="929.6" r="7.8"/><circle cx="588.1" cy="929.8" r="8"/><circle cx="603.3" cy="930.1" r="8.3"/><circle cx="618.5" cy="930.3" r="8.5"/><circle cx="633.6" cy="930.3" r="8.5"/><circle cx="648.8" cy="930.2" r="8.5"/><circle cx="664" cy="930" r="8.5"/><circle cx="679.2" cy="929.8" r="8.5"/><circle cx="694.3" cy="929.4" r="8.5"/><circle cx="709.5" cy="929.4" r="8.5"/><circle cx="724.7" cy="929" r="8.5"/><circle cx="739.9" cy="929.4" r="8.5"/><circle cx="755.1" cy="929.4" r="8.5"/><circle cx="770.2" cy="929.4" r="8"/><circle cx="785.4" cy="929.4" r="8"/><circle cx="800.6" cy="929.4" r="8"/><circle cx="815.8" cy="929.4" r="8"/><circle cx="830.9" cy="929.4" r="8"/><circle cx="846.1" cy="929.4" r="8"/><circle cx="861.3" cy="928.5" r="8.5"/><circle cx="102.4" cy="1057.1" r="5"/><circle cx="117.6" cy="1057.2" r="5"/><circle cx="132.8" cy="1057.2" r="5"/><circle cx="147.9" cy="1057.2" r="5"/><circle cx="163.1" cy="1057.2" r="5"/><circle cx="178.3" cy="1057.2" r="5"/><circle cx="193.5" cy="1057.2" r="5"/><circle cx="208.6" cy="1056.4" r="5"/><circle cx="223.8" cy="1050.7" r="4.4"/><circle cx="239" cy="1045" r="3"/><circle cx="254.2" cy="1040" r="3"/><circle cx="269.4" cy="1034.4" r="3.5"/><circle cx="284.5" cy="1031.2" r="3.5"/><circle cx="299.7" cy="1029.6" r="3.5"/><circle cx="314.9" cy="1031.8" r="3.5"/><circle cx="330.1" cy="1034.4" r="3.5"/><circle cx="345.2" cy="1039.7" r="3.5"/><circle cx="360.4" cy="1040.8" r="4"/><circle cx="375.6" cy="1044.5" r="4.5"/><circle cx="390.8" cy="1048.3" r="4.5"/><circle cx="406" cy="1052.1" r="5"/><circle cx="421.1" cy="1055.6" r="5"/><circle cx="436.3" cy="1057.2" r="5"/><circle cx="117.6" cy="1052.1" r="3.5"/><circle cx="132.8" cy="1044.2" r="3.5"/><circle cx="147.9" cy="1035.5" r="3"/><circle cx="163.1" cy="1022.7" r="3"/><circle cx="178.3" cy="1012.5" r="3"/><circle cx="360.4" cy="1017.2" r="3"/><circle cx="375.6" cy="1029.3" r="3.5"/><circle cx="390.8" cy="1040.4" r="4"/><circle cx="406" cy="1049.7" r="4.5"/><circle cx="421.1" cy="1055.2" r="5"/><circle cx="436.3" cy="1057.1" r="5"/><circle cx="451.5" cy="1057.2" r="5"/><circle cx="466.7" cy="1057.3" r="5"/><circle cx="481.9" cy="1057.3" r="5"/><circle cx="497" cy="1057.3" r="5"/><circle cx="512.2" cy="1057.3" r="5"/><circle cx="527.4" cy="1057.2" r="5"/><circle cx="542.6" cy="1054.7" r="4.5"/><circle cx="557.7" cy="1049" r="4"/><circle cx="572.9" cy="1042.8" r="3.5"/><circle cx="588.1" cy="1037.9" r="3.5"/><circle cx="603.3" cy="1033.7" r="3.5"/><circle cx="618.5" cy="1030.4" r="3.5"/><circle cx="633.6" cy="1028.2" r="3.5"/><circle cx="648.8" cy="1023.1" r="3"/><circle cx="664" cy="1014.1" r="3"/><circle cx="785.4" cy="1014.7" r="3"/><circle cx="800.6" cy="1025.5" r="3.5"/><circle cx="815.8" cy="1038.7" r="4"/><circle cx="830.9" cy="1045.5" r="4.5"/><circle cx="846.1" cy="1053.9" r="5"/><circle cx="861.3" cy="1056.7" r="6"/><circle cx="451.5" cy="1052.9" r="4"/><circle cx="466.7" cy="1042.5" r="4"/><circle cx="481.9" cy="1034.9" r="3.5"/><circle cx="497" cy="1021.2" r="3"/><circle cx="102.4" cy="1295" r="4"/><circle cx="117.6" cy="1294.9" r="4"/><circle cx="132.8" cy="1295" r="4"/><circle cx="147.9" cy="1295" r="4"/><circle cx="163.1" cy="1295" r="4"/><circle cx="178.3" cy="1295" r="4"/><circle cx="193.5" cy="1295" r="4"/><circle cx="208.6" cy="1294.9" r="4.1"/><circle cx="223.8" cy="1294.5" r="4.2"/><circle cx="239" cy="1292.1" r="4.4"/><circle cx="254.2" cy="1288.8" r="4.5"/><circle cx="269.4" cy="1285.6" r="4.7"/><circle cx="284.5" cy="1282.7" r="4.8"/><circle cx="299.7" cy="1282" r="5"/><circle cx="314.9" cy="1283.1" r="4.8"/><circle cx="330.1" cy="1285.4" r="4.6"/><circle cx="345.2" cy="1288.2" r="4.5"/><circle cx="360.4" cy="1287.4" r="4.4"/><circle cx="375.6" cy="1290.8" r="4.3"/><circle cx="390.8" cy="1293.5" r="4.2"/><circle cx="406" cy="1294.8" r="4.2"/><circle cx="421.1" cy="1295" r="4.1"/><circle cx="436.3" cy="1295" r="4"/><circle cx="451.5" cy="1295" r="4"/><circle cx="466.7" cy="1295" r="4"/><circle cx="481.9" cy="1295" r="4"/><circle cx="497" cy="1295" r="4"/><circle cx="512.2" cy="1295" r="4"/><circle cx="527.4" cy="1295" r="4"/><circle cx="542.6" cy="1294.9" r="4.1"/><circle cx="557.7" cy="1294.1" r="4.2"/><circle cx="572.9" cy="1291.4" r="4.4"/><circle cx="588.1" cy="1288" r="4.5"/><circle cx="603.3" cy="1284.3" r="4.7"/><circle cx="618.5" cy="1281.4" r="5"/><circle cx="102.4" cy="1295" r="4"/><circle cx="117.6" cy="1294.9" r="3.8"/><circle cx="132.8" cy="1294.1" r="3.7"/><circle cx="147.9" cy="1291.2" r="3.5"/><circle cx="163.1" cy="1285.9" r="3.4"/><circle cx="178.3" cy="1279.7" r="3.2"/><circle cx="193.5" cy="1273.2" r="3.1"/><circle cx="208.6" cy="1308.9" r="2.5"/><circle cx="223.8" cy="1307.6" r="2.5"/><circle cx="239" cy="1306.5" r="2.5"/><circle cx="254.2" cy="1305.8" r="2.5"/><circle cx="269.4" cy="1305.6" r="2.5"/><circle cx="284.5" cy="1305.5" r="2.5"/><circle cx="299.7" cy="1305.1" r="2.5"/><circle cx="314.9" cy="1304" r="2.4"/><circle cx="330.1" cy="1302.7" r="2.4"/><circle cx="345.2" cy="1302.4" r="2.3"/><circle cx="360.4" cy="1303" r="2.3"/><circle cx="375.6" cy="1304.2" r="2.2"/><circle cx="390.8" cy="1306.1" r="2.2"/><circle cx="406" cy="1308.5" r="2.1"/><circle cx="421.1" cy="1310.1" r="2"/><circle cx="436.3" cy="1309.6" r="2"/><circle cx="451.5" cy="1308.2" r="2.1"/><circle cx="466.7" cy="1306.9" r="2.2"/><circle cx="481.9" cy="1306.1" r="2.3"/><circle cx="497" cy="1306.6" r="2.3"/><circle cx="512.2" cy="1307.9" r="2.4"/><circle cx="527.4" cy="1309.5" r="2.5"/><circle cx="542.6" cy="1308.8" r="2.6"/><circle cx="557.7" cy="1307.5" r="2.7"/><circle cx="572.9" cy="1306.3" r="2.7"/><circle cx="588.1" cy="1305.4" r="2.8"/><circle cx="603.3" cy="1304.6" r="2.9"/><circle cx="618.5" cy="1304.1" r="3"/><circle cx="846.1" cy="1294.8" r="4.6"/><circle cx="861.3" cy="1296.1" r="5"/><circle cx="846.1" cy="1309.6" r="3.1"/><circle cx="861.3" cy="1308.6" r="3.5"/></g></svg><svg x="102.4" y="833.8" width="758.9" height="501.7" viewBox="102.4 833.8 758.9 501.7" overflow="hidden"><path d="M102.3,841.3C105.6,841.1 115.7,840.7 122.1,839.9C128.5,839 134.8,837.5 140.6,836.3C146.5,835.1 154.5,833.3 157.3,832.6M102.3,867.3C106.2,866.8 117.9,866.5 125.8,864.5C133.7,862.5 142.8,858.6 149.9,855.2C157,851.8 162.9,848 168.4,844.1C174,840.3 180.8,834.1 183.2,832.1M102.3,873.8C118.4,873.8 180.6,873.6 199,873.8C217.4,873.9 208.1,873.9 212.9,874.7C217.7,875.5 222.2,876.7 227.7,878.4C233.3,880.1 240.1,882.4 246.3,884.9C252.4,887.4 258.6,890.6 264.8,893.2C271,895.9 277.8,898.6 283.3,900.6C288.8,902.7 295.4,904.5 297.8,905.3M297.8,905.3C300,904.4 305.8,901.7 311.1,899.7C316.4,897.7 323.5,895.2 329.7,893.2C335.8,891.2 342,889.5 348.2,887.7C354.4,885.8 360.5,883.8 366.7,882.1C372.9,880.5 379.1,879.1 385.2,877.9C391.4,876.6 398.7,875.4 403.8,874.7C408.9,874 410.9,874 416,873.8C421.1,873.5 431.3,873.3 434.4,873.2M102.3,873.8C104.6,874.1 111.1,874.4 116.5,875.6C122,876.9 128.9,878.7 135.1,881.2C141.2,883.7 147.4,886.4 153.6,890.5C159.8,894.5 166.6,900.8 172.1,905.3C177.7,909.8 182.5,913.3 187,917.3C191.4,921.3 197,927.4 199,929.4M199,929.4C203.8,929.4 216.8,929.3 227.7,929.4C238.7,929.5 253.1,929.8 264.8,929.9C276.5,930.1 290.7,930.4 297.8,930.3C304.9,930.2 303.6,930.5 307.4,929.4C311.2,928.3 315.1,926.6 320.4,923.8C325.6,921 332.7,916.4 338.9,912.7C345.1,909 351.3,905.1 357.5,901.6C363.6,898 369.8,894.5 376,891.4C382.2,888.3 387.8,885.6 394.5,883C401.2,880.5 409.4,878.6 416,876C422.7,873.4 431.3,868.7 434.4,867.3M102.3,896.9C106.2,896.5 117.9,895.9 125.8,894.2C133.7,892.5 142.2,889.5 149.9,886.7C157.6,884 166,880.4 172.1,877.5C178.3,874.5 182.5,871.6 187,869.1C191.4,866.7 197,863.7 199,862.7M199,862.7C203.8,862.3 218.3,862 227.7,860.8C237.1,859.6 246.3,857.4 255.5,855.2C264.8,853.1 276.3,850 283.3,847.8C290.4,845.7 295.4,843.2 297.8,842.3M297.8,842.3C301.5,844.1 313.5,850 320.4,853.4C327.2,856.8 332.7,859.4 338.9,862.7C345.1,865.9 351.3,869.5 357.5,872.9C363.6,876.2 369.8,880.3 376,883C382.2,885.8 387.8,887.7 394.5,889.5C401.2,891.4 409.4,893 416,894.2C422.7,895.3 431.3,896 434.4,896.4M199,862.7C202.2,862 210.6,860.8 218.5,859C226.3,857.1 238.5,854 246.3,851.5C254,849.1 257.7,847.4 264.8,844.1C271.9,840.9 284.9,834.1 288.9,832.1M302.8,832.1C305.7,834.5 314.4,841.6 320.4,846.3C326.4,851.1 332.7,856.2 338.9,860.4C345.1,864.6 351.3,868.2 357.5,871.6C363.6,875 369.8,878 376,880.8C382.2,883.6 387.8,886.1 394.5,888.2C401.2,890.4 409.4,892.4 416,893.8C422.7,895.1 431.3,895.9 434.4,896.4M348.2,832.1C351.3,834.2 360.5,841.2 366.7,845.1C372.9,848.9 379.1,852.2 385.2,855.2C391.4,858.3 398.7,861.7 403.8,863.6C408.9,865.4 410.9,864.8 416,866.4C421.1,868 431.3,872.1 434.4,873.2M384.3,832.6C386.6,833.3 392.9,835.4 398.2,836.7C403.5,838.1 410,839.9 416,840.8C422,841.7 431.3,841.7 434.4,841.9M390.8,833C395,833.9 408.7,837.1 416,838.6C423.3,840 431.3,841.3 434.4,841.9M434.4,841.9C434.4,841.9 430.8,842.3 434.5,841.9C438.1,841.5 449.6,840.7 456.3,839.5C463.1,838.3 469.5,836.1 474.9,834.9C480.3,833.6 486.4,832.5 488.8,832.1M456.3,836.7L474.9,832.1M434.4,867.3C434.4,867.3 430.8,867.6 434.5,867.3C438.1,867 448.1,867.8 456.3,865.4C464.6,863.1 474.6,859 484.1,853.4C493.7,847.8 508.8,835.6 513.8,832.1M434.4,873.2C434.4,873.2 418.5,873.1 434.5,873.2C450.4,873.3 511.9,873.5 530.1,873.8C548.3,874 538.7,873.9 543.4,874.7C548.1,875.5 552.7,876.7 558.3,878.4C563.8,880.1 570.6,882.6 576.8,884.9C583,887.2 589.1,889.5 595.3,892.3C601.5,895.1 608.5,899.4 613.9,901.6C619.2,903.7 625.1,904.7 627.4,905.3M627.4,905.3C631.3,905.6 643.9,906.1 650.9,907.1C657.9,908.2 663.3,909.8 669.5,911.8C675.6,913.8 681.8,916.7 688,919.2C694.2,921.7 699.8,924.9 706.5,926.6C713.2,928.3 724.4,928.9 728,929.4M434.4,873.8C434.4,873.8 431.7,873.5 434.5,873.8C437.2,874.1 445.6,874.4 450.8,875.6C456,876.9 460.7,878.7 465.6,881.2C470.5,883.7 475.5,887.1 480.4,890.5C485.4,893.9 490,897.6 495.2,901.6C500.5,905.6 506.1,909.9 511.9,914.5C517.7,919.2 527.1,926.9 530.1,929.4M530.1,929.4C534.8,929.4 547.4,929.3 558.3,929.4C569.1,929.5 583.8,929.8 595.3,929.9C606.8,930.1 615,930.3 627.4,930.3C639.7,930.3 652.7,930.1 669.5,929.9C686.2,929.8 718.3,929.5 728,929.4M434.4,896.4C434.4,896.4 430.8,896.8 434.5,896.4C438.1,896 449.6,895.5 456.3,894.2C463.1,892.9 468.7,890.9 474.9,888.6C481,886.3 487.2,883.2 493.4,880.3C499.6,877.3 505.8,873.9 511.9,871C518,868.1 527.1,864 530.1,862.7M530.1,862.7C533.2,862.5 542.8,862.5 549,861.7C555.2,861 559.8,859.7 567.5,858C575.2,856.3 586.8,855.9 595.3,851.5C603.8,847.2 614.6,835.3 618.5,832.1M530.1,862.7C534.8,862.2 548.9,861.4 558.3,859.9C567.6,858.3 576.8,855.7 586.1,853.4C595.3,851.1 607,847.9 613.9,846C620.7,844.1 625.1,842.6 627.4,841.9M627.4,841.9C631.3,841.7 643.9,841.1 650.9,840.4C657.9,839.7 663.4,839 669.5,837.6C675.5,836.2 684.1,833 687.1,832.1M725.3,929.4C728.6,928.4 738,927.2 745.3,923.8C752.7,920.4 760.1,914.4 769.4,909C778.7,903.6 791,896.5 800.9,891.4C810.8,886.3 821,881.2 828.7,878.4C836.4,875.6 841.8,875.5 847.2,874.7C852.7,873.9 858.8,873.9 861.1,873.8M689.7,929.4C695.7,929.4 709.9,929.4 725.3,929.4C740.8,929.4 759.7,929.4 782.4,929.4C805,929.4 848,929.4 861.1,929.4M750.9,832.1C756.1,834.3 772.5,841.7 782.4,845.6C792.3,849.5 800.9,852.7 810.2,855.2C819.5,857.8 829.5,859.9 838,861.2C846.5,862.4 857.3,862.4 861.1,862.7M759.2,832.1C763.7,834.2 776.7,841.1 786.1,845.1C795.5,849 806.5,852.9 815.7,855.6C825,858.3 834.1,860.1 841.7,861.2C849.3,862.3 857.9,862.1 861.1,862.3M102.3,1056.2C104.6,1055.6 111.7,1054.4 116.5,1052.5C121.4,1050.7 126.4,1048.2 131.4,1045.1C136.3,1042 140.9,1037.7 146.2,1034C151.4,1030.3 157.3,1026.6 162.9,1022.9C168.4,1019.2 173.5,1015.3 179.5,1011.7C185.6,1008.2 195.8,1003.2 199,1001.6M199,1001.6C202.2,1001.5 210.6,1002.1 218.5,1001C226.3,999.9 237,997.6 246.3,995.1C255.5,992.5 265.5,988.1 274.1,985.8C282.6,983.5 291.6,981.6 297.8,981.2C304,980.7 305.8,981 311.1,983C316.4,985 323.5,989 329.7,993.2C335.8,997.4 342,1003.2 348.2,1008C354.4,1012.8 361.2,1017.6 366.7,1021.9C372.3,1026.3 376.3,1030.1 381.5,1034C386.8,1037.8 392.5,1041.7 398.2,1045.1C404,1048.5 410,1052.4 416,1054.4C422,1056.4 431.3,1056.7 434.4,1057.1M102.3,1057.1C118.4,1057.1 181.2,1057.3 199,1057.1C216.8,1057 205,1057.3 209.2,1056.2C213.4,1055.1 219.1,1052.5 224,1050.7C229,1048.8 233.6,1047 238.8,1045.1C244.1,1043.2 249.7,1041.5 255.5,1039.5C261.4,1037.5 267,1034.8 274.1,1033.1C281.1,1031.4 293.8,1030 297.8,1029.3M297.8,1029.3C300,1029.7 305.8,1030.4 311.1,1031.2C316.4,1032 323.5,1033.2 329.7,1034.4C335.8,1035.5 342,1036.7 348.2,1038.1C354.4,1039.4 360.5,1040.8 366.7,1042.3C372.9,1043.8 379.1,1045.4 385.2,1047C391.4,1048.5 398.7,1050.4 403.8,1051.6C408.9,1052.8 410.9,1053.4 416,1054.4C421.1,1055.3 431.3,1056.7 434.4,1057.1M102.3,1031.8C109.3,1032 128.2,1032.2 144.3,1033.1C160.5,1033.9 182,1035.5 199,1036.8C216,1038 229.8,1039.5 246.3,1040.5C262.7,1041.4 282.3,1042.5 297.8,1042.3C313.2,1042.2 324.3,1040.9 338.9,1039.5C353.5,1038.2 372.4,1035.2 385.2,1034C398.1,1032.7 407.8,1032.4 416,1032.1C424.2,1031.9 431.3,1032.5 434.4,1032.5M102.3,1033.1C110.8,1033.5 137.5,1034.8 153.6,1035.8C169.7,1036.9 183.6,1038.3 199,1039.5C214.4,1040.8 229.8,1042.3 246.3,1043.2C262.7,1044.2 282.3,1045.6 297.8,1045.1C313.2,1044.6 324.3,1042.2 338.9,1040.5C353.5,1038.8 372.4,1036.1 385.2,1034.9C398.1,1033.7 407.8,1033.5 416,1033.1C424.2,1032.7 431.3,1032.6 434.4,1032.5M199,1039.5C202.2,1040.2 211.2,1042.2 218.5,1043.2C225.7,1044.3 234.8,1044.6 242.6,1046C250.3,1047.4 258,1049.9 264.8,1051.6C271.6,1053.3 277.8,1054.8 283.3,1056.2C288.8,1057.6 295.4,1059.3 297.8,1059.9M297.8,1059.9C300.6,1059 308.9,1056.4 314.8,1054.4C320.8,1052.4 327.2,1049.9 333.4,1047.9C339.5,1045.9 344.8,1044.2 351.9,1042.3C359,1040.5 365.3,1038.3 376,1036.8C386.7,1035.2 406.3,1033.8 416,1033.1C425.7,1032.4 431.3,1032.6 434.4,1032.5M102.3,1121.1C106.2,1119.8 117.2,1117.4 125.8,1113.7C134.4,1110 145.3,1103.5 153.6,1098.8C161.9,1094.2 168.3,1090.2 175.8,1085.9C183.4,1081.5 195.1,1075.1 199,1072.9M199,1072.9C203.8,1072.9 216.8,1072.8 227.7,1072.9C238.7,1073 253.1,1073.9 264.8,1073.3C276.5,1072.7 292.3,1069.9 297.8,1069.2M297.8,1069.2C301.5,1070.4 312,1073.5 320.4,1076.6C328.8,1079.7 338.9,1083.7 348.2,1087.7C357.5,1091.7 368.3,1096.7 376,1100.7C383.7,1104.7 387.8,1108.4 394.5,1111.8C401.2,1115.2 409.4,1118.4 416,1121.1C422.7,1123.7 431.3,1126.6 434.4,1127.7M199,1125.7C202.2,1124 210.6,1120 218.5,1115.5C226.3,1111 237,1103.8 246.3,1098.8C255.5,1093.9 265.5,1089.9 274.1,1085.9C282.6,1081.9 293.8,1076.6 297.8,1074.8M297.8,1074.8C301.5,1075.7 312,1077.5 320.4,1080.3C328.8,1083.1 338.9,1087.4 348.2,1091.4C357.5,1095.4 368.3,1100.7 376,1104.4C383.7,1108.1 387.8,1110.7 394.5,1113.7C401.2,1116.6 409.4,1119.7 416,1122C422.7,1124.3 431.3,1126.7 434.4,1127.7M297.8,1072C301.5,1073.1 312,1075.5 320.4,1078.5C328.8,1081.4 338.9,1085.6 348.2,1089.6C357.5,1093.6 368.3,1098.8 376,1102.6C383.7,1106.3 387.8,1109 394.5,1111.8C401.2,1114.6 409.4,1116.9 416,1119.2C422.7,1121.5 431.3,1124.6 434.4,1125.7M102.3,1099.8C110.8,1099.9 137.5,1100.3 153.6,1100.7C169.7,1101.1 186.6,1101.6 199,1102.2C211.4,1102.8 218.3,1102.8 227.7,1104.4C237.1,1106 243.8,1109 255.5,1111.8C267.2,1114.6 290.7,1119.5 297.8,1121.1M297.8,1121.1C301.5,1119.8 312,1116.1 320.4,1113.7C328.8,1111.2 338.9,1108.1 348.2,1106.3C357.5,1104.4 364.7,1103.5 376,1102.6C387.3,1101.6 406.3,1101.2 416,1100.7C425.7,1100.2 431.3,1099.9 434.4,1099.8M102.3,1102.2C118.4,1102.4 175,1101.8 199,1103.2C223,1104.5 229.8,1107.6 246.3,1110.6C262.7,1113.5 289.2,1119.1 297.8,1120.8M297.8,1120.8C304.6,1119.1 325.9,1113.2 338.9,1110.6C352,1107.9 363.1,1106.6 376,1105C388.8,1103.5 406.3,1102.2 416,1101.3C425.7,1100.4 431.3,1100 434.4,1099.8M102.3,1101.3C110.8,1102.5 137.5,1105 153.6,1108.7C169.7,1112.4 191.4,1121.1 199,1123.5M102.3,1125.4C118.4,1125.4 175,1125.1 199,1125.4C223,1125.6 229.8,1126.2 246.3,1126.9C262.7,1127.6 289.2,1129 297.8,1129.5M297.8,1129.5C304.6,1128.9 325.9,1127.3 338.9,1126.3C352,1125.3 363.1,1124.3 376,1123.5C388.8,1122.8 406.3,1122.1 416,1121.7C425.7,1121.3 431.3,1121.1 434.4,1121M102.3,1127.2C110.8,1127.6 137.5,1128.2 153.6,1129.1C169.7,1130 183.6,1131.5 199,1132.4C214.4,1133.4 229.8,1133.9 246.3,1134.7C262.7,1135.4 289.2,1136.5 297.8,1136.9M297.8,1136.9C301.5,1136 310.4,1133.9 320.4,1131.9C330.3,1129.8 345.1,1127.1 357.5,1124.5C369.8,1121.8 384.8,1118.1 394.5,1116.1C404.3,1114.1 409.4,1114.7 416,1112.4C422.7,1110.1 431.3,1103.9 434.4,1102.2M199,1132.4C202.2,1133.4 210.6,1136.9 218.5,1138.4C226.3,1139.8 237,1141.6 246.3,1141.1C255.5,1140.7 265.5,1137.6 274.1,1135.6C282.6,1133.6 293.8,1130.2 297.8,1129.1M102.3,1143C107.7,1143.5 123.4,1144.1 135.1,1145.8C146.7,1147.5 161.5,1151.2 172.1,1153.2C182.8,1155.2 194.5,1157.1 199,1157.8M199,1157.8C203.8,1157.1 219.8,1155.2 227.7,1153.2C235.6,1151.2 238.5,1148.7 246.3,1145.8C254,1142.8 269.4,1137.3 274.1,1135.6M102.3,1143C106.2,1144.1 117.2,1146.9 125.8,1149.5C134.4,1152.1 144.3,1156 153.6,1158.7C162.9,1161.5 173.8,1164.8 181.4,1166.2C189,1167.6 196.1,1166.9 199,1167.1M199,1167.1C203.8,1166.6 216.8,1164.9 227.7,1164.3C238.7,1163.7 253.1,1162.9 264.8,1163.4C276.5,1163.8 292.3,1166.5 297.8,1167.1M297.8,1167.1C301.5,1166 310.4,1163.5 320.4,1160.6C330.3,1157.7 345.1,1153.2 357.5,1149.5C369.8,1145.8 384.8,1141.8 394.5,1138.4C404.3,1135 409.4,1132 416,1129.1C422.7,1126.2 431.3,1122.4 434.4,1121M102.3,1143.9C106.2,1145.2 117.2,1147.9 125.8,1151.3C134.4,1154.7 144.3,1160.3 153.6,1164.3C162.9,1168.3 173.8,1172.3 181.4,1175.4C189,1178.5 196.1,1181.6 199,1182.8M199,1182.8C203.8,1183.2 216.8,1183.6 227.7,1184.7C238.7,1185.8 253.1,1187.5 264.8,1189.3C276.5,1191.2 292.3,1194.7 297.8,1195.8M297.8,1195.8C301.5,1194.3 312,1190.3 320.4,1186.5C328.8,1182.8 338.9,1177.6 348.2,1173.6C357.5,1169.6 368.3,1165.5 376,1162.5C383.7,1159.4 387.8,1157.8 394.5,1155C401.2,1152.3 409.4,1147.6 416,1145.8C422.7,1143.9 431.3,1144.2 434.4,1143.9M199,1182.8C203.8,1183.8 218.3,1185 227.7,1188.4C237.1,1191.8 246.3,1198.9 255.5,1203.2C264.8,1207.6 276.3,1212.3 283.3,1214.3C290.4,1216.4 293.1,1215.6 297.8,1215.3C302.4,1215 304.3,1215.7 311.1,1212.5C318,1209.3 329.7,1201.7 338.9,1195.8C348.2,1189.9 357.5,1183.8 366.7,1177.3C376,1170.8 386.3,1162.1 394.5,1156.9C402.7,1151.6 409.4,1147.9 416,1145.8C422.7,1143.6 431.3,1144.2 434.4,1143.9M199,1132.4C203.8,1134.3 216.8,1139.2 227.7,1143.9C238.7,1148.6 253.1,1156.7 264.8,1160.6C276.5,1164.5 292.3,1166 297.8,1167.1M227.7,1145.8C233.9,1146.5 253.1,1149.4 264.8,1150.4C276.5,1151.4 285.4,1152.2 297.8,1151.7C310.1,1151.2 325.9,1148.9 338.9,1147.6C352,1146.3 363.1,1144.7 376,1143.9C388.8,1143.2 406.3,1143 416,1143C425.7,1143 431.3,1143.8 434.4,1143.9M102.3,1222.7C118.4,1222.7 166.4,1222.5 199,1222.7C231.6,1222.8 261.6,1223.5 297.8,1223.6C333.9,1223.8 393.2,1223.6 416,1223.6C438.8,1223.6 431.3,1223.5 434.4,1223.4M102.3,1224.5C107.7,1225.3 123.4,1226.5 135.1,1229.2C146.7,1231.8 161.5,1238 172.1,1240.3C182.8,1242.6 189.7,1242.8 199,1243.1C208.3,1243.4 216.8,1242.8 227.7,1242.1C238.7,1241.5 253.1,1240 264.8,1239.4C276.5,1238.7 285.4,1239.8 297.8,1238.4C310.1,1237 325.9,1232.9 338.9,1231C352,1229.2 363.1,1228.4 376,1227.3C388.8,1226.2 406.3,1225.2 416,1224.5C425.7,1223.9 431.3,1223.6 434.4,1223.4M218.5,1223.6C226.2,1224.8 251.6,1228.7 264.8,1231C278,1233.3 288.5,1236 297.8,1237.5C307,1239.1 313.5,1239.7 320.4,1240.3C327.2,1240.9 331.2,1241.5 338.9,1241.2C346.6,1240.9 357.5,1240.1 366.7,1238.4C376,1236.7 386.3,1233.2 394.5,1231C402.7,1228.9 409.4,1226.7 416,1225.5C422.7,1224.2 431.3,1223.8 434.4,1223.4M102.3,1256.6C110.8,1255.9 137.5,1253.8 153.6,1252.3C169.7,1250.9 183.6,1248.5 199,1247.7C214.4,1246.9 229.8,1247.7 246.3,1247.7C262.7,1247.7 282.3,1247.2 297.8,1247.7C313.2,1248.2 325.9,1249.6 338.9,1250.5C352,1251.4 363.1,1252.3 376,1253.3C388.8,1254.2 406.3,1255.6 416,1256C425.7,1256.4 431.3,1255.7 434.4,1255.6M102.3,1257C110.8,1257.9 137.5,1260.2 153.6,1262.5C169.7,1264.8 183.6,1269.6 199,1270.9C214.4,1272.1 229.8,1269.9 246.3,1269.9C262.7,1269.9 285.4,1270.1 297.8,1270.9C310.1,1271.6 310.4,1272 320.4,1274.6C330.3,1277.2 345.1,1283.4 357.5,1286.6C369.8,1289.9 384.8,1292.6 394.5,1294C404.3,1295.4 409.4,1294.8 416,1295C422.7,1295.1 431.3,1295 434.4,1295M102.3,1295C109.3,1294.5 128.2,1296.2 144.3,1292.2C160.5,1288.2 189.9,1274.4 199,1270.9M199,1270.9C206.9,1270.3 229.8,1268.4 246.3,1267.2C262.7,1265.9 282.3,1263.9 297.8,1263.5C313.2,1263 325.9,1264.7 338.9,1264.4C352,1264.1 363.1,1262.8 376,1261.6C388.8,1260.4 406.3,1258 416,1257C425.7,1256 431.3,1255.9 434.4,1255.6M199,1249.6C206.9,1249.7 232.2,1250.2 246.3,1250.5C260.3,1250.8 274.7,1251.6 283.3,1251.4C291.9,1251.3 288.5,1249.9 297.8,1249.6C307,1249.2 325.9,1248.9 338.9,1249.6C352,1250.2 363.1,1252.2 376,1253.3C388.8,1254.3 406.3,1255.6 416,1256C425.7,1256.4 431.3,1255.7 434.4,1255.6M102.3,1295C118.4,1295 178.1,1295.1 199,1295C219.9,1294.8 218.3,1295.1 227.7,1294C237.1,1293 246.3,1290.3 255.5,1288.5C264.8,1286.6 276.3,1284 283.3,1282.9C290.4,1281.8 291.6,1281.8 297.8,1282C304,1282.1 310.4,1282.5 320.4,1283.8C330.3,1285.2 346.6,1288.6 357.5,1290.3C368.3,1292 375.5,1293.3 385.2,1294C395,1294.8 407.8,1294.8 416,1295C424.2,1295.1 431.3,1295 434.4,1295M102.3,1309.8C110.8,1309.2 137.5,1306.1 153.6,1306.1C169.7,1306.1 191.4,1309.2 199,1309.8M199,1309.8C206.9,1309.2 229.8,1306.9 246.3,1306.1C262.7,1305.3 282.3,1305.8 297.8,1305.2C313.2,1304.5 325.9,1302.5 338.9,1302.4C352,1302.2 363.1,1303 376,1304.2C388.8,1305.5 406.3,1308.9 416,1309.8C425.7,1310.7 431.3,1309.8 434.4,1309.8M434.4,1057.1C434.4,1057.1 432.4,1057.5 434.5,1057.1C436.6,1056.8 441.9,1057.6 447.1,1055.3C452.3,1053 459.4,1047.4 465.6,1043.2C471.8,1039.1 478,1034.6 484.1,1030.3C490.3,1026 497.1,1021 502.7,1017.3C508.2,1013.6 512.9,1010.7 517.5,1008C522.1,1005.4 528,1002.6 530.1,1001.6M530.1,1001.6C533.2,1001.4 541.2,1001.9 549,1000.6C556.8,999.4 567.5,996.8 576.8,994.1C586.1,991.5 596.2,987 604.6,984.9C613,982.7 623.5,981.8 627.3,981.2M434.5,1057.1C450.4,1057.1 511.9,1057.6 530.1,1057.1C548.3,1056.7 538.7,1055.8 543.4,1054.4C548.1,1053 552.7,1051 558.3,1048.8C563.8,1046.6 570.6,1043.6 576.8,1041.4C583,1039.2 589.1,1037.5 595.3,1035.8C601.5,1034.1 608.5,1032.3 613.9,1031.2C619.2,1030.1 625.1,1029.7 627.3,1029.3M434.4,1032.5C439.6,1032.6 454.2,1032.2 465.6,1033.1C477,1033.9 491.9,1036.6 502.7,1037.7C513.4,1038.8 519.3,1038.9 530.1,1039.5C540.9,1040.2 556.7,1040.9 567.5,1041.4C578.4,1041.9 585.4,1042 595.3,1042.3C605.3,1042.7 622,1043.2 627.3,1043.4M465.6,1034C471.8,1034.8 491.9,1037.5 502.7,1038.6C513.4,1039.7 519.3,1039.7 530.1,1040.5C540.9,1041.2 558.2,1041.9 567.5,1043.2C576.9,1044.6 579.9,1046.8 586.1,1048.8C592.2,1050.8 599.3,1053.6 604.6,1055.3C609.8,1057 613.8,1058.3 617.6,1059C621.4,1059.7 625.7,1059.6 627.3,1059.7M434.4,1121C436.5,1120.1 441.9,1117.7 447.1,1115.5C452.3,1113.4 459.8,1111.1 465.6,1108.1C471.4,1105.1 474.1,1101.6 481.7,1097.4C489.3,1093.1 503.1,1086.6 511.2,1082.5C519.2,1078.5 526.9,1074.5 530.1,1072.9M530.1,1072.9C534.8,1072.9 547.4,1072.9 558.3,1072.9C569.1,1072.9 583.8,1073.5 595.3,1072.9C606.8,1072.3 622,1069.8 627.3,1069.2M530.1,1123.9C533.2,1122.5 541.2,1119.7 549,1115.5C556.8,1111.4 567.5,1104.1 576.8,1098.8C586.1,1093.6 596.2,1088 604.6,1084C613,1080 623.5,1076.3 627.3,1074.8M434.4,1099.8C434.4,1099.8 426.2,1099.6 434.5,1099.8C442.8,1099.9 468.2,1100.4 484.1,1100.7C500.1,1101 517.7,1101 530.1,1101.6C542.4,1102.2 547.4,1102.7 558.3,1104.4C569.1,1106.1 583.8,1109 595.3,1111.8C606.8,1114.6 622,1119.5 627.3,1121.1M456.3,1104.4C461,1105.3 474.9,1107.5 484.1,1110C493.4,1112.4 504.3,1116.8 511.9,1119.2C519.6,1121.7 527.1,1123.9 530.1,1124.8M434.4,1125.7C434.4,1125.7 418.5,1125.7 434.5,1125.7C450.4,1125.7 506.4,1125.4 530.1,1125.7C553.8,1126 560.6,1127.1 576.8,1127.6C593,1128 619,1128.3 627.4,1128.5M627.3,981.2C643.7,981.2 705.6,980.9 725.3,981.2C745,981.5 735.8,981.5 745.3,983C754.8,984.6 770,988 782.4,990.4C794.7,992.9 808.6,996 819.5,997.8C830.3,999.7 840.3,1000.8 847.2,1001.6C854.2,1002.3 858.8,1002 861.1,1002.1M627.3,1029.3C630,1028.7 637.6,1028 643.4,1025.6C649.2,1023.3 655.7,1019.3 661.9,1015.4C668.1,1011.6 674.3,1006.6 680.5,1002.5C686.6,998.3 692.8,993.8 699,990.4C705.2,987 713.1,983.6 717.5,982.1C721.9,980.5 724,981.3 725.3,981.2M725.3,981.2C727.1,981.6 731.2,981.6 736.1,983.9C740.9,986.3 748.4,991.4 754.6,995.1C760.8,998.8 766.9,1002.2 773.1,1006.2C779.3,1010.2 785.5,1014.8 791.7,1019.2C797.8,1023.5 804,1028 810.2,1032.1C816.4,1036.3 822.5,1040.5 828.7,1044.2C834.9,1047.9 841.8,1052.2 847.2,1054.4C852.7,1056.5 858.8,1056.7 861.1,1057.1M627.3,1043.4C631.5,1043.7 643.8,1043.9 652.7,1045.1C661.5,1046.3 671.2,1048.7 680.5,1050.7C689.7,1052.7 700.8,1055.7 708.3,1057.1C715.7,1058.6 719.1,1060 725.3,1059.6C731.5,1059.1 737.4,1056.6 745.3,1054.4C753.3,1052.1 763.9,1048.3 773.1,1046C782.4,1043.7 791.7,1041.9 800.9,1040.5C810.2,1039.1 818.7,1038.3 828.7,1037.7C838.8,1037.1 855.7,1036.9 861.1,1036.8M627.3,1059.7C634.6,1059.8 657.7,1060.1 671.2,1060.3C684.7,1060.5 699.2,1060.6 708.3,1060.9C717.3,1061.1 719.1,1062.2 725.3,1061.8C731.5,1061.3 737.4,1060.2 745.3,1058.1C753.3,1055.9 763.9,1051.4 773.1,1048.8C782.4,1046.2 791.7,1043.9 800.9,1042.3C810.2,1040.8 818.7,1040 828.7,1039.5C838.8,1039.1 855.7,1039.5 861.1,1039.5M627.3,1069.2C634.6,1068.9 657.7,1068 671.2,1067.3C684.7,1066.7 699.2,1065.7 708.3,1065.1C717.3,1064.5 722.5,1063.9 725.3,1063.6M725.3,1063.6C728.6,1064.6 737.4,1067.8 745.3,1069.2C753.3,1070.6 763.9,1071.4 773.1,1072C782.4,1072.6 786.2,1072.8 800.9,1072.9C815.6,1073 851.1,1072.6 861.1,1072.5M627.3,1074.8C634.6,1075.1 659.2,1077.1 671.2,1076.6C683.1,1076.1 690,1073.7 699,1072C708,1070.3 720.9,1067.3 725.3,1066.4M725.3,1066.4C728.6,1067.3 737.4,1070.7 745.3,1072C753.3,1073.2 753.8,1073.7 773.1,1073.8C792.4,1074 846.5,1073.1 861.1,1072.9M725.3,1067.3C728.6,1068.6 738.9,1072.3 745.3,1074.8C751.7,1077.2 757.7,1079.7 763.9,1082.2C770,1084.6 776.2,1087.1 782.4,1089.6C788.6,1092 794.7,1094.5 800.9,1097C807.1,1099.5 813.3,1101.6 819.5,1104.4C825.6,1107.2 831,1110.3 838,1113.7C844.9,1117.1 857.3,1122.9 861.1,1124.8M627.3,1121.1C634.6,1121.1 654.9,1120.9 671.2,1121.1C687.5,1121.2 709.9,1122.9 725.3,1122C740.8,1121.1 751.3,1117.8 763.9,1115.5C776.5,1113.2 790.1,1110.1 800.9,1108.1C811.7,1106.1 818.7,1104.6 828.7,1103.5C838.8,1102.4 855.7,1101.9 861.1,1101.6M434.4,1102.2C434.4,1102.2 426.2,1102.2 434.5,1102.2C442.8,1102.2 468.2,1102.1 484.1,1102.2C500.1,1102.3 514.6,1102 530.1,1102.8C545.5,1103.6 564.4,1104.9 576.8,1106.9C589.2,1108.8 596.2,1112.1 604.6,1114.3C613,1116.4 623.5,1118.9 627.3,1119.8M434.4,1125.4C434.4,1125.4 418.5,1125.4 434.5,1125.4C450.4,1125.4 506.4,1125.1 530.1,1125.4C553.8,1125.7 560.6,1126.6 576.8,1127.2C593,1127.9 618.9,1128.8 627.3,1129.1M434.4,1127.7C439.6,1127.7 449.6,1127.5 465.6,1128.2C481.5,1128.9 511.6,1130.5 530.1,1131.9C548.6,1133.3 560.6,1135.7 576.8,1136.5C593,1137.4 618.9,1136.9 627.3,1137M530.1,1131C534.8,1132.2 550.5,1136.7 558.3,1138.4C566,1140.1 570.6,1141.3 576.8,1141.1C583,1141 589.1,1139.1 595.3,1137.4C601.5,1135.7 608.5,1132.4 613.9,1131C619.2,1129.5 625.1,1129.1 627.4,1128.7M434.4,1143.9C434.4,1143.9 429.3,1143.8 434.5,1143.9C439.7,1144.1 454.2,1143.6 465.6,1144.9C477,1146.1 491.9,1149.2 502.7,1151.3C513.4,1153.5 525.5,1156.7 530.1,1157.8M530.1,1157.8C533.1,1157.4 542,1156.6 548.1,1155C554.1,1153.5 561.7,1150.2 566.6,1148.6C571.5,1146.9 573.1,1145.4 577.7,1145.2C582.4,1145.1 588.7,1146.7 594.6,1147.6C600.5,1148.6 607.7,1150.3 613.1,1151C618.6,1151.7 625,1151.7 627.3,1151.8M434.5,1144.9C439.7,1145.9 455.8,1149.3 465.6,1151.3C475.4,1153.3 485.7,1155 493.4,1156.9C501.1,1158.7 505.8,1160.9 511.9,1162.5C518,1164 527.1,1165.5 530.1,1166.2M530.1,1166.2C534.8,1165.9 547.4,1164.8 558.3,1164.3C569.1,1163.8 583.8,1163.1 595.3,1163.4C606.8,1163.7 622,1165.7 627.3,1166.2M434.4,1144.9C434.4,1144.9 430.8,1144.1 434.5,1144.9C438.1,1145.6 448.1,1146.9 456.3,1149.5C464.6,1152.1 474.9,1156.3 484.1,1160.6C493.4,1164.9 504.3,1171.7 511.9,1175.4C519.6,1179.1 527.1,1181.6 530.1,1182.8M530.1,1182.8C534.8,1183.2 547.4,1183.5 558.3,1184.7C569.1,1185.9 583.8,1188.4 595.3,1190.3C606.8,1192.1 622,1194.9 627.3,1195.8M530.1,1182.8C534.8,1184.1 548.9,1186.5 558.3,1190.3C567.6,1194 576.8,1201.2 586.1,1205.1C595.3,1208.9 607,1211.9 613.9,1213.4C620.7,1215 625.1,1214.2 627.3,1214.3M530.1,1131.9C533.2,1133 541.8,1135.3 549,1138.4C556.2,1141.5 565.4,1147 573.1,1150.4C580.8,1153.8 586.3,1156.1 595.3,1158.7C604.4,1161.4 622,1164.9 627.3,1166.2M434.4,1223.4C450.3,1223.3 497.9,1222.8 530.1,1222.7C562.2,1222.6 611.1,1222.7 627.3,1222.7M434.4,1225.8C439.6,1226 455.8,1225.5 465.6,1227.3C475.4,1229.1 485.7,1234.1 493.4,1236.6C501.1,1239.1 505.8,1241.1 511.9,1242.1C518,1243.2 519.9,1242.9 530.1,1243.1C540.3,1243.2 559.1,1243.5 573.1,1243.1C587,1242.6 604.8,1240.4 613.9,1240.3C622.9,1240.2 625.1,1242.1 627.3,1242.4M539.7,1223.6C545.9,1224.5 566,1227.5 576.8,1229.2C587.6,1230.9 596.2,1232.6 604.6,1233.8C613,1235 623.5,1236 627.3,1236.4M434.4,1255.6C439.6,1255.6 449.6,1256.4 465.6,1255.1C481.5,1253.8 511.6,1248.9 530.1,1247.7C548.6,1246.5 560.6,1247.5 576.8,1247.7C593,1247.9 618.9,1248.9 627.3,1249.1M434.4,1259.1C439.6,1259.4 449.6,1258.9 465.6,1260.7C481.5,1262.5 511.6,1268.6 530.1,1269.9C548.6,1271.3 560.6,1269.9 576.8,1269C593,1268.2 618.9,1265.5 627.3,1264.8M530.1,1270.9C537.9,1271 560.6,1271.8 576.8,1271.8C593,1271.8 618.9,1271 627.3,1270.9M434.4,1293.7C439.6,1293.5 454.2,1294 465.6,1292.2C477,1290.4 491.9,1286.5 502.7,1282.9C513.4,1279.4 525.5,1272.9 530.1,1270.9M434.4,1295C450.3,1295 509.4,1295.1 530.1,1295C550.7,1294.8 548.9,1295.1 558.3,1294C567.6,1293 576.8,1290.5 586.1,1288.5C595.3,1286.5 606.3,1283.2 613.9,1282C621.4,1280.8 628.5,1281.2 631.5,1281.1M434.4,1309.8C434.4,1309.8 426.2,1310.4 434.5,1309.8C442.8,1309.2 468.2,1306.1 484.1,1306.1C500.1,1306.1 522.4,1309.2 530.1,1309.8M530.1,1309.8C537.9,1309.2 562.8,1307 576.8,1306.1C590.8,1305.2 604.7,1304.5 613.9,1304.2C623,1303.9 628.5,1304.2 631.5,1304.2M627.3,1119.8C634.6,1119.8 654.9,1119.5 671.2,1119.8C687.5,1120.1 709.9,1122.3 725.3,1121.7C740.8,1121.1 751.3,1118.3 763.9,1116.1C776.5,1114 788.6,1110.7 800.9,1108.7C813.3,1106.7 827.9,1105 838,1104.1C848,1103.2 857.3,1103.3 861.1,1103.2M627.3,1129.1C634.6,1129.3 654.9,1128.8 671.2,1130C687.5,1131.3 709.9,1136.2 725.3,1136.5C740.8,1136.8 751.3,1133.3 763.9,1131.9C776.5,1130.5 784.7,1129.3 800.9,1128.2C817.1,1127 851.1,1125.5 861.1,1125M627.3,1137C634.6,1136.6 654.9,1136.9 671.2,1134.7C687.5,1132.4 716.3,1125.4 725.3,1123.5M725.3,1123.5C731.7,1124.2 751.3,1125.4 763.9,1127.2C776.5,1129.1 788.6,1131.6 800.9,1134.7C813.3,1137.7 827.9,1142.1 838,1145.8C848,1149.5 857.3,1155 861.1,1156.9M627.3,1151.8C631.5,1151.3 642.3,1150.2 652.7,1148.6C663.1,1146.9 677.6,1144.1 689.7,1142.1C701.8,1140.1 713,1136.8 725.3,1136.5C737.7,1136.2 751.3,1138.7 763.9,1140.2C776.5,1141.8 790.1,1144.1 800.9,1145.8C811.7,1147.5 818.7,1152.7 828.7,1150.4C838.8,1148.1 855.7,1135 861.1,1131.9M627.3,1166.2C631.5,1164.6 642.3,1160.1 652.7,1156.9C663.1,1153.7 677.6,1150.1 689.7,1146.7C701.8,1143.3 719.4,1138.2 725.3,1136.5M627.3,1166.2C631.5,1168.3 643.8,1174.2 652.7,1179.1C661.5,1184.1 671.2,1190.9 680.5,1195.8C689.7,1200.8 700.8,1206 708.3,1208.8C715.7,1211.6 716,1215.6 725.3,1212.5C734.6,1209.4 751.3,1197.7 763.9,1190.3C776.5,1182.8 791,1173 800.9,1168C810.8,1163.1 817,1161.5 823.2,1160.6C829.3,1159.7 831.7,1161.5 838,1162.5C844.3,1163.4 857.3,1165.5 861.1,1166.2M627.3,1195.8C631.5,1196.3 643.8,1197 652.7,1198.6C661.5,1200.1 671.2,1203.1 680.5,1205.1C689.7,1207.1 700.8,1209.4 708.3,1210.6C715.7,1211.9 716,1213.4 725.3,1212.5C734.6,1211.6 751.3,1208.2 763.9,1205.1C776.5,1202 788.6,1197 800.9,1194C813.3,1190.9 827.9,1188.4 838,1186.5C848,1184.7 857.3,1183.5 861.1,1182.8M627.3,1214.3C636.2,1214.4 667,1214.1 680.5,1214.7C693.9,1215.3 700.8,1217 708.3,1218.1C715.7,1219.1 722.5,1220.4 725.3,1220.8M725.3,1220.8C731.7,1218.5 751.3,1211.1 763.9,1206.9C776.5,1202.8 784.7,1199.7 800.9,1195.8C817.1,1192 851.1,1185.8 861.1,1183.8M627.3,1222.7C634.6,1222.8 657.7,1222.2 671.2,1223.6C684.7,1225 699.2,1229.2 708.3,1231C717.3,1232.9 716,1234.7 725.3,1234.7C734.6,1234.7 751.3,1232.6 763.9,1231C776.5,1229.5 784.7,1226.9 800.9,1225.5C817.1,1224.1 851.1,1223.1 861.1,1222.7M627.3,1236.4C634.6,1236.4 654.9,1236.4 671.2,1236.6C687.5,1236.8 709.9,1237 725.3,1237.5C740.8,1238 751.3,1238.6 763.9,1239.4C776.5,1240.1 784.7,1241.8 800.9,1242.1C817.1,1242.5 851.1,1241.4 861.1,1241.2M627.3,1242.4C634.6,1242.7 654.9,1244.5 671.2,1244C687.5,1243.5 716.3,1240.1 725.3,1239.4M725.3,1239.4C731.7,1241.4 755.9,1249.2 763.9,1251.4C771.8,1253.6 766.9,1253 773.1,1252.3C779.3,1251.7 786.2,1248.5 800.9,1247.7C815.6,1246.9 851.1,1247.7 861.1,1247.7M627.3,1249.1C634.6,1249.8 657.7,1251 671.2,1253.3C684.7,1255.5 699.2,1260.4 708.3,1262.5C717.3,1264.6 716,1266.6 725.3,1265.9C734.6,1265.1 754.3,1259.1 763.9,1257.9C773.4,1256.7 773.1,1257.1 782.4,1258.8C791.7,1260.5 806.3,1266.1 819.5,1268.1C832.6,1270.1 854.2,1270.4 861.1,1270.9M627.3,1264.8C634.6,1263.5 657.7,1260.4 671.2,1257C684.7,1253.5 699.2,1246.9 708.3,1244C717.3,1241.1 722.5,1240.1 725.3,1239.4M627.3,1270.9C631.5,1271.2 643.8,1272.1 652.7,1272.7C661.5,1273.3 675.8,1274.3 680.5,1274.6M763.9,1275.5C770,1275 784.7,1273.5 800.9,1272.7C817.1,1272 851.1,1271.2 861.1,1270.9M834.3,1294.6L861.1,1295M834.3,1309.4L861.1,1309.8" fill="none" stroke="#000" stroke-width="3.1" stroke-linecap="round" stroke-linejoin="round"/></svg><rect x="622.8" y="1270" width="217.9" height="64" fill="#fff"/><text class="t" transform="translate(651.9,1311.3) scale(1.2436,1)">(b) DP-Ru</text><rect x="102.4" y="833.8" width="758.9" height="501.7" fill="none" stroke="#111" stroke-width="1.3"/><line x1="102.4" y1="1335.5" x2="109.4" y2="1335.5" stroke="#000" stroke-width="1.2"/><line x1="854.3" y1="1335.5" x2="861.3" y2="1335.5" stroke="#000" stroke-width="1.2"/><text class="t" transform="translate(76.2,1346.8) scale(1.05,1)">8</text><text class="t" transform="translate(47.5,1349.7) scale(1.375,1)">−</text><line x1="102.4" y1="1263.8" x2="109.4" y2="1263.8" stroke="#000" stroke-width="1.2"/><line x1="854.3" y1="1263.8" x2="861.3" y2="1263.8" stroke="#000" stroke-width="1.2"/><text class="t" transform="translate(76.2,1275.1) scale(1.05,1)">6</text><text class="t" transform="translate(47.5,1278) scale(1.375,1)">−</text><line x1="102.4" y1="1192.2" x2="109.4" y2="1192.2" stroke="#000" stroke-width="1.2"/><line x1="854.3" y1="1192.2" x2="861.3" y2="1192.2" stroke="#000" stroke-width="1.2"/><text class="t" transform="translate(76.2,1203.5) scale(1.05,1)">4</text><text class="t" transform="translate(47.5,1206.4) scale(1.375,1)">−</text><line x1="102.4" y1="1120.5" x2="109.4" y2="1120.5" stroke="#000" stroke-width="1.2"/><line x1="854.3" y1="1120.5" x2="861.3" y2="1120.5" stroke="#000" stroke-width="1.2"/><text class="t" transform="translate(76.2,1131.8) scale(1.05,1)">2</text><text class="t" transform="translate(47.5,1134.7) scale(1.375,1)">−</text><line x1="102.4" y1="1048.8" x2="109.4" y2="1048.8" stroke="#000" stroke-width="1.2"/><line x1="854.3" y1="1048.8" x2="861.3" y2="1048.8" stroke="#000" stroke-width="1.2"/><text class="t" transform="translate(76.2,1060.1) scale(1.05,1)">0</text><line x1="102.4" y1="977.1" x2="109.4" y2="977.1" stroke="#000" stroke-width="1.2"/><line x1="854.3" y1="977.1" x2="861.3" y2="977.1" stroke="#000" stroke-width="1.2"/><text class="t" transform="translate(76.2,988.4) scale(1.05,1)">2</text><line x1="102.4" y1="905.5" x2="109.4" y2="905.5" stroke="#000" stroke-width="1.2"/><line x1="854.3" y1="905.5" x2="861.3" y2="905.5" stroke="#000" stroke-width="1.2"/><text class="t" transform="translate(76.2,916.8) scale(1.05,1)">4</text><line x1="102.4" y1="833.8" x2="109.4" y2="833.8" stroke="#000" stroke-width="1.2"/><line x1="854.3" y1="833.8" x2="861.3" y2="833.8" stroke="#000" stroke-width="1.2"/><text class="t" transform="translate(76.2,845.1) scale(1.05,1)">6</text><line x1="199.6" y1="1329.5" x2="199.6" y2="1335.5" stroke="#000" stroke-width="1.2"/><line x1="298" y1="1329.5" x2="298" y2="1335.5" stroke="#000" stroke-width="1.2"/><line x1="434.4" y1="1329.5" x2="434.4" y2="1335.5" stroke="#000" stroke-width="1.2"/><line x1="530" y1="1329.5" x2="530" y2="1335.5" stroke="#000" stroke-width="1.2"/><line x1="627.4" y1="1329.5" x2="627.4" y2="1335.5" stroke="#000" stroke-width="1.2"/><line x1="725.3" y1="1329.5" x2="725.3" y2="1335.5" stroke="#000" stroke-width="1.2"/><text class="t i k" transform="translate(87.3,1369.8) scale(1.2,1)">Γ</text><text class="t i k" transform="translate(184.7,1369.8) scale(1.3,1)">X</text><text class="t i k" transform="translate(280,1369.8) scale(1.1,1)">M</text><text class="t i k" transform="translate(421.4,1369.8) scale(1.2,1)">Γ</text><text class="t i k" transform="translate(517.5,1369.8) scale(1.2,1)">Z</text><text class="t i k" transform="translate(614,1369.8) scale(1.3,1)">R</text><text class="t i k" transform="translate(715.2,1369.8) scale(1,1)">A</text><text class="t i k" transform="translate(846.1,1369.8) scale(1.2,1)">Z</text></g><g><line x1="946.8" y1="467.5" x2="1704.8" y2="467.5" stroke="#888" stroke-width="1"/><line x1="1050.6" y1="252.5" x2="1050.6" y2="754.2" stroke="#777" stroke-width="1.2"/><line x1="1155.5" y1="252.5" x2="1155.5" y2="754.2" stroke="#777" stroke-width="1.2"/><line x1="1302.4" y1="252.5" x2="1302.4" y2="754.2" stroke="#777" stroke-width="1.2"/><line x1="1348.5" y1="252.5" x2="1348.5" y2="754.2" stroke="#777" stroke-width="1.2"/><line x1="1453.5" y1="252.5" x2="1453.5" y2="754.2" stroke="#777" stroke-width="1.2"/><line x1="1557.5" y1="252.5" x2="1557.5" y2="754.2" stroke="#777" stroke-width="1.2"/><svg x="934.8" y="252.5" width="782" height="501.7" viewBox="934.8 252.5 782 501.7" overflow="hidden"><g fill="#c8c8c8"><circle cx="962" cy="483.8" r="4"/><circle cx="977.1" cy="483.9" r="4.1"/><circle cx="992.3" cy="483.4" r="5"/><circle cx="1007.4" cy="482.2" r="5.5"/><circle cx="1022.6" cy="480.3" r="6.1"/><circle cx="1037.8" cy="480.5" r="7.1"/><circle cx="1052.9" cy="479.5" r="8"/><circle cx="1068.1" cy="479" r="7.9"/><circle cx="1083.2" cy="479" r="7.9"/><circle cx="1098.4" cy="480.1" r="7.8"/><circle cx="1113.6" cy="480.6" r="7.8"/><circle cx="1128.7" cy="480.7" r="7.7"/><circle cx="1143.9" cy="480.3" r="7.7"/><circle cx="1159" cy="479.5" r="7.6"/><circle cx="1174.2" cy="480.5" r="7.6"/><circle cx="1189.4" cy="478.2" r="7.5"/><circle cx="1204.5" cy="477.9" r="7.5"/><circle cx="1219.7" cy="479.6" r="7"/><circle cx="1234.8" cy="481.6" r="6.5"/><circle cx="1250" cy="483" r="5.9"/><circle cx="1265.2" cy="483.5" r="5"/><circle cx="1280.3" cy="483.5" r="4.5"/><circle cx="1386.4" cy="478.4" r="3.5"/><circle cx="1401.6" cy="478.6" r="4"/><circle cx="1416.8" cy="478.4" r="5"/><circle cx="1431.9" cy="478.2" r="6"/><circle cx="1447.1" cy="477.8" r="7"/><circle cx="1462.2" cy="477.9" r="7.2"/><circle cx="1477.4" cy="478.2" r="7.5"/><circle cx="1492.6" cy="478.5" r="7.5"/><circle cx="1507.7" cy="478.6" r="7.5"/><circle cx="1522.9" cy="479.6" r="7.5"/><circle cx="1538" cy="480" r="8"/><circle cx="1553.2" cy="479.6" r="8"/><circle cx="1568.4" cy="480.7" r="8"/><circle cx="1583.5" cy="478.2" r="8"/><circle cx="1598.7" cy="478.6" r="7.5"/><circle cx="1613.8" cy="472.4" r="7.5"/><circle cx="1629" cy="478.7" r="7.5"/><circle cx="1644.2" cy="478.7" r="7"/><circle cx="1659.3" cy="478.6" r="7"/><circle cx="1674.5" cy="478.4" r="6.5"/><circle cx="1689.6" cy="478" r="6"/><circle cx="1431.9" cy="566.6" r="2"/><circle cx="1447.1" cy="568" r="2.1"/><circle cx="1462.2" cy="569.7" r="2.3"/><circle cx="1477.4" cy="571.5" r="2.4"/><circle cx="1492.6" cy="568.8" r="2.5"/><circle cx="1507.7" cy="571.6" r="2.6"/><circle cx="1522.9" cy="574.6" r="2.7"/><circle cx="1538" cy="577.8" r="2.9"/><circle cx="1553.2" cy="571.4" r="3"/><circle cx="1568.4" cy="564.5" r="3"/><circle cx="1583.5" cy="571.4" r="3"/><circle cx="1598.7" cy="576.1" r="3"/><circle cx="1613.8" cy="573.4" r="3"/><circle cx="1629" cy="570.1" r="3"/><circle cx="1644.2" cy="572.5" r="3"/><circle cx="1659.3" cy="571.4" r="2.9"/><circle cx="1674.5" cy="570.2" r="2.8"/><circle cx="1689.6" cy="569.2" r="2.6"/><circle cx="1704.8" cy="571.4" r="2.5"/></g><g fill="#0000ff"><circle cx="946.8" cy="535" r="7.5"/><circle cx="962" cy="529.5" r="7"/><circle cx="977.1" cy="523" r="7"/><circle cx="992.3" cy="512.1" r="7"/><circle cx="1007.4" cy="503.4" r="7.5"/><circle cx="1022.6" cy="495.7" r="8"/><circle cx="1037.8" cy="490" r="8.5"/><circle cx="1052.9" cy="486.7" r="8.5"/><circle cx="1068.1" cy="485.6" r="8.5"/><circle cx="1083.2" cy="485.2" r="8.5"/><circle cx="1219.7" cy="490" r="7.5"/><circle cx="1234.8" cy="497.7" r="7"/><circle cx="1250" cy="506.8" r="6.9"/><circle cx="1265.2" cy="516.9" r="6"/><circle cx="1280.3" cy="528" r="6.5"/><circle cx="1295.5" cy="534.1" r="7"/><circle cx="1310.6" cy="535.3" r="7"/><circle cx="1325.8" cy="535.5" r="7"/><circle cx="1295.5" cy="534.1" r="7"/><circle cx="1310.6" cy="535.3" r="7"/><circle cx="1325.8" cy="535.5" r="7"/><circle cx="1341" cy="535.6" r="6"/><circle cx="1356.1" cy="532" r="6.5"/><circle cx="1371.3" cy="526.4" r="6.5"/><circle cx="1386.4" cy="517.3" r="7"/><circle cx="1401.6" cy="508.4" r="7.5"/><circle cx="1416.8" cy="501.1" r="8"/><circle cx="1431.9" cy="494.9" r="8.5"/><circle cx="1447.1" cy="489.9" r="9"/><circle cx="1462.2" cy="487" r="9"/><circle cx="1477.4" cy="485.5" r="9"/><circle cx="1492.6" cy="484" r="8.5"/><circle cx="1507.7" cy="482.4" r="8"/><circle cx="1522.9" cy="479.6" r="7.5"/><circle cx="1598.7" cy="481.8" r="7"/><circle cx="1613.8" cy="485.7" r="7"/><circle cx="1629" cy="493.1" r="7"/><circle cx="1644.2" cy="501.8" r="7"/><circle cx="1659.3" cy="511.3" r="7"/><circle cx="1674.5" cy="520.6" r="7"/><circle cx="1689.6" cy="530.5" r="7"/><circle cx="1704.8" cy="533.9" r="7.5"/></g><g fill="#ff0000"><circle cx="946.8" cy="477.6" r="9"/><circle cx="962" cy="473.8" r="9"/><circle cx="977.1" cy="465" r="9"/><circle cx="992.3" cy="453.3" r="8.5"/><circle cx="1007.4" cy="441.7" r="9"/><circle cx="1022.6" cy="430.9" r="9"/><circle cx="1037.8" cy="423" r="9"/><circle cx="1052.9" cy="419.2" r="9.5"/><circle cx="1068.1" cy="421.3" r="9"/><circle cx="1083.2" cy="426.7" r="9"/><circle cx="1098.4" cy="435.2" r="9"/><circle cx="1113.6" cy="442.8" r="9"/><circle cx="1128.7" cy="448.9" r="9"/><circle cx="1143.9" cy="452.5" r="9"/><circle cx="1159" cy="453" r="9"/><circle cx="1174.2" cy="451.4" r="9"/><circle cx="1189.4" cy="450.4" r="9"/><circle cx="1204.5" cy="450.6" r="9"/><circle cx="1219.7" cy="451.7" r="9"/><circle cx="1234.8" cy="454.3" r="9"/><circle cx="1250" cy="457.7" r="9"/><circle cx="1265.2" cy="464" r="9"/><circle cx="1280.3" cy="470.1" r="9"/><circle cx="1295.5" cy="476.1" r="9"/><circle cx="1310.6" cy="477.2" r="9"/><circle cx="1325.8" cy="477.3" r="9"/><circle cx="1295.5" cy="476.1" r="9"/><circle cx="1310.6" cy="477.2" r="9"/><circle cx="1325.8" cy="477.3" r="9"/><circle cx="1341" cy="477.2" r="9"/><circle cx="1356.1" cy="475.8" r="9"/><circle cx="1371.3" cy="470.8" r="9"/><circle cx="1386.4" cy="459.2" r="9"/><circle cx="1401.6" cy="448.1" r="9"/><circle cx="1416.8" cy="436.3" r="9"/><circle cx="1431.9" cy="427.7" r="9.5"/><circle cx="1447.1" cy="421.7" r="9.5"/><circle cx="1462.2" cy="420.7" r="9.5"/><circle cx="1477.4" cy="423.7" r="9"/><circle cx="1492.6" cy="429.6" r="9"/><circle cx="1507.7" cy="437.2" r="9"/><circle cx="1522.9" cy="444.2" r="9"/><circle cx="1538" cy="450.2" r="9"/><circle cx="1553.2" cy="453.4" r="9"/><circle cx="1568.4" cy="452.6" r="9"/><circle cx="1583.5" cy="450.8" r="9"/><circle cx="1598.7" cy="450.9" r="9"/><circle cx="1613.8" cy="451.4" r="9"/><circle cx="1629" cy="452.2" r="9"/><circle cx="1644.2" cy="453.7" r="9"/><circle cx="1659.3" cy="458.4" r="9"/><circle cx="1674.5" cy="465" r="9"/><circle cx="1689.6" cy="471.3" r="9"/><circle cx="1704.8" cy="476.8" r="10"/><circle cx="1007.4" cy="640.3" r="2.1"/><circle cx="1022.6" cy="641.5" r="2.5"/><circle cx="1037.8" cy="642.3" r="2.8"/><circle cx="1052.9" cy="642.2" r="2.9"/><circle cx="1068.1" cy="640" r="2.4"/><circle cx="1431.9" cy="640.3" r="2.5"/><circle cx="1447.1" cy="641.1" r="3.2"/><circle cx="1462.2" cy="641.5" r="3.3"/><circle cx="1477.4" cy="641.6" r="2.8"/><circle cx="1128.7" cy="694.4" r="2.1"/><circle cx="1143.9" cy="695.3" r="2.3"/><circle cx="1159" cy="695.8" r="2.4"/><circle cx="1174.2" cy="695" r="2.2"/><circle cx="1189.4" cy="693.9" r="2"/><circle cx="946.8" cy="294.4" r="2.5"/><circle cx="962" cy="296.1" r="2"/><circle cx="977.1" cy="297.1" r="1.6"/><circle cx="1704.8" cy="293.7" r="2.5"/><circle cx="1280.3" cy="297.3" r="1.5"/><circle cx="1295.5" cy="295.1" r="2"/><circle cx="1310.6" cy="294" r="2.2"/><circle cx="1325.8" cy="294" r="2.2"/></g><g fill="#00ff00"><circle cx="946.8" cy="428.6" r="8"/><circle cx="962" cy="427" r="8"/><circle cx="977.1" cy="424.9" r="8"/><circle cx="992.3" cy="421.3" r="8.5"/><circle cx="1007.4" cy="417.2" r="8.5"/><circle cx="1022.6" cy="413.6" r="9"/><circle cx="1037.8" cy="410.1" r="9"/><circle cx="1052.9" cy="408.1" r="9"/><circle cx="1068.1" cy="409.2" r="9"/><circle cx="1083.2" cy="413.4" r="9"/><circle cx="1098.4" cy="420.7" r="9"/><circle cx="1113.6" cy="428.2" r="9"/><circle cx="1128.7" cy="435.6" r="8.5"/><circle cx="1143.9" cy="439.8" r="8.5"/><circle cx="1159" cy="440.3" r="8.5"/><circle cx="1174.2" cy="437.6" r="8.5"/><circle cx="1189.4" cy="428.8" r="8"/><circle cx="1204.5" cy="420.2" r="8"/><circle cx="1219.7" cy="414.1" r="8.5"/><circle cx="1234.8" cy="413.7" r="8.5"/><circle cx="1250" cy="417.6" r="8.5"/><circle cx="1265.2" cy="422.9" r="8.5"/><circle cx="1280.3" cy="426.4" r="8.5"/><circle cx="1295.5" cy="428" r="8.5"/><circle cx="1310.6" cy="427.2" r="8.5"/><circle cx="1325.8" cy="425.6" r="9"/><circle cx="1295.5" cy="428" r="8.5"/><circle cx="1310.6" cy="427.2" r="8.5"/><circle cx="1325.8" cy="425.6" r="8.5"/><circle cx="1341" cy="424" r="8.5"/><circle cx="1356.1" cy="422" r="8.5"/><circle cx="1371.3" cy="419.9" r="8.5"/><circle cx="1386.4" cy="417" r="8.5"/><circle cx="1401.6" cy="413.2" r="8.5"/><circle cx="1416.8" cy="410.1" r="8.5"/><circle cx="1431.9" cy="408.5" r="9"/><circle cx="1447.1" cy="407.6" r="9"/><circle cx="1462.2" cy="408.4" r="9"/><circle cx="1477.4" cy="410.8" r="9"/><circle cx="1492.6" cy="416.6" r="9"/><circle cx="1507.7" cy="424.2" r="9"/><circle cx="1522.9" cy="430.7" r="9"/><circle cx="1538" cy="436.3" r="9"/><circle cx="1553.2" cy="440.5" r="9"/><circle cx="1568.4" cy="439.1" r="8.5"/><circle cx="1583.5" cy="434.1" r="8.5"/><circle cx="1598.7" cy="425" r="8.5"/><circle cx="1613.8" cy="416.2" r="8.5"/><circle cx="1629" cy="410.7" r="8.5"/><circle cx="1644.2" cy="410.7" r="8.5"/><circle cx="1659.3" cy="414" r="8.5"/><circle cx="1674.5" cy="417.2" r="8.5"/><circle cx="1689.6" cy="420.6" r="8.5"/><circle cx="1704.8" cy="423.4" r="10"/><circle cx="946.8" cy="596.9" r="4.2"/><circle cx="962" cy="596.8" r="4.2"/><circle cx="977.1" cy="596.6" r="4.1"/><circle cx="992.3" cy="596.4" r="4.1"/><circle cx="1007.4" cy="596.7" r="4.1"/><circle cx="1022.6" cy="596.1" r="4"/><circle cx="1037.8" cy="596" r="3.8"/><circle cx="1052.9" cy="596" r="3.3"/><circle cx="1068.1" cy="596" r="2.9"/><circle cx="1083.2" cy="596.5" r="2.5"/><circle cx="1098.4" cy="597.9" r="2.4"/><circle cx="1113.6" cy="600" r="2.3"/><circle cx="1128.7" cy="599.3" r="2.2"/><circle cx="1143.9" cy="598.1" r="2.1"/><circle cx="1159" cy="597.2" r="2.1"/><circle cx="1174.2" cy="597.1" r="2.4"/><circle cx="1189.4" cy="597.1" r="2.8"/><circle cx="1204.5" cy="597" r="3"/><circle cx="1219.7" cy="597" r="3.1"/><circle cx="1234.8" cy="596.9" r="3.2"/><circle cx="1250" cy="596.8" r="3.2"/><circle cx="1265.2" cy="596.8" r="3.3"/><circle cx="1280.3" cy="596.7" r="3.4"/><circle cx="1295.5" cy="596.7" r="3.5"/><circle cx="1310.6" cy="596.6" r="3.5"/><circle cx="1325.8" cy="596.5" r="3.6"/><circle cx="1341" cy="596.5" r="3.6"/><circle cx="1356.1" cy="596.4" r="3.7"/><circle cx="1371.3" cy="596.3" r="3.7"/><circle cx="1386.4" cy="596.3" r="3.8"/><circle cx="1401.6" cy="596.2" r="3.8"/><circle cx="1416.8" cy="596.1" r="3.9"/><circle cx="1431.9" cy="596.1" r="3.9"/><circle cx="1447.1" cy="596" r="4"/><circle cx="1462.2" cy="596" r="4"/><circle cx="1477.4" cy="596" r="4"/><circle cx="1492.6" cy="596" r="4"/><circle cx="1507.7" cy="596" r="4"/><circle cx="1522.9" cy="596" r="4"/><circle cx="1538" cy="596" r="4"/><circle cx="1553.2" cy="596" r="4"/><circle cx="1568.4" cy="596" r="4"/><circle cx="1583.5" cy="596" r="4.1"/><circle cx="1598.7" cy="596" r="4.1"/><circle cx="1613.8" cy="596" r="4.2"/><circle cx="1629" cy="596" r="4.2"/><circle cx="1644.2" cy="593.6" r="4.3"/><circle cx="1659.3" cy="596" r="4.3"/><circle cx="1674.5" cy="596" r="4.4"/><circle cx="1689.6" cy="596" r="4.4"/><circle cx="1704.8" cy="594.7" r="4.5"/></g><g fill="none" stroke="#0000ff" stroke-width="2.4"><circle cx="1098.4" cy="484.2" r="6.8"/><circle cx="1113.6" cy="483" r="6.8"/><circle cx="1128.7" cy="481.7" r="6.8"/><circle cx="1143.9" cy="480.6" r="6.8"/><circle cx="1159" cy="479.5" r="6.8"/><circle cx="1174.2" cy="480.5" r="6.8"/><circle cx="1189.4" cy="481.8" r="6.8"/><circle cx="1204.5" cy="484.5" r="6.8"/><circle cx="1522.9" cy="479.6" r="6.3"/><circle cx="1538" cy="478.1" r="6.3"/><circle cx="1553.2" cy="477.7" r="6.3"/><circle cx="1568.4" cy="477.8" r="6.3"/><circle cx="1583.5" cy="478.2" r="5.9"/><circle cx="946.8" cy="457.3" r="4.8"/><circle cx="962" cy="457.1" r="4.8"/><circle cx="977.1" cy="458.2" r="3.8"/><circle cx="992.3" cy="462.8" r="3.3"/><circle cx="1007.4" cy="466.3" r="2.8"/><circle cx="1022.6" cy="470.4" r="2.8"/><circle cx="1295.5" cy="456.3" r="4.8"/><circle cx="1310.6" cy="456.5" r="4.8"/><circle cx="1325.8" cy="456.4" r="4.8"/><circle cx="1341" cy="456.3" r="4.8"/><circle cx="1356.1" cy="456.6" r="3.8"/><circle cx="1371.3" cy="457.4" r="2.8"/><circle cx="1704.8" cy="455.7" r="4.8"/></g></svg><svg x="946.8" y="252.5" width="758" height="501.7" viewBox="946.8 252.5 758 501.7" overflow="hidden"><path d="M946.5,254.5C947.9,254.3 952,254.2 954.8,253.6C957.6,252.9 961.8,251.2 963.2,250.8M946.5,270.2C950,269.9 960.2,270.1 967.8,268.4C975.4,266.7 984.5,263 991.9,260C999.3,257.1 1008.9,252.3 1012.3,250.8M946.5,274.9C951.6,275.8 967.3,278.7 977.1,280.4C986.8,282.1 995.6,283.8 1004.9,285.1C1014.1,286.3 1025,287.1 1032.7,287.8C1040.3,288.6 1047.8,289.4 1050.8,289.7M946.5,286C950,285.7 960.2,285.8 967.8,284.1C975.4,282.4 984.8,279 991.9,275.8C999,272.6 1005,268.8 1010.4,264.7C1015.8,260.5 1022,253.1 1024.3,250.8M946.5,294.3C952.2,294.8 969.5,297.6 980.8,297.1C992,296.6 1004.9,293.6 1014.1,291.6C1023.4,289.5 1030.3,285.7 1036.4,285.1C1042.5,284.4 1048.4,287.4 1050.8,287.8M946.5,308.2C950,308.2 961.2,307.8 967.8,308.2C974.4,308.7 980.2,309 986.3,311C992.5,313 998.7,316.9 1004.9,320.3C1011,323.7 1017.2,328.2 1023.4,331.4C1029.6,334.6 1037.4,338.2 1041.9,339.7C1046.5,341.3 1049.3,340.5 1050.8,340.7M1050.8,340.7C1057.1,340.5 1075.8,340.4 1088.3,339.7C1100.7,339.1 1114.1,337.6 1125.3,337C1136.5,336.3 1150.5,336 1155.6,335.8M946.5,315.6C950,315.3 959.6,315.2 967.8,313.8C976,312.4 986.3,309.9 995.6,307.3C1004.9,304.7 1014.2,300.8 1023.4,298C1032.6,295.3 1046.3,291.9 1050.8,290.6M946.5,341.6C950,341.1 961.2,340.5 967.8,338.8C974.4,337.1 980.2,334.5 986.3,331.4C992.5,328.3 998.7,324.6 1004.9,320.3C1011,316 1017.2,309.8 1023.4,305.4C1029.6,301.1 1037.4,296.8 1041.9,294.3C1046.5,291.9 1049.3,291.2 1050.8,290.6M946.5,352.7C951.6,352.2 965.8,350.4 977.1,349.9C988.3,349.5 1001.8,349.6 1014.1,349.9C1026.4,350.2 1041.6,351.9 1050.8,351.8C1060.1,351.6 1061.9,350.2 1069.7,349C1077.5,347.8 1088.3,345.6 1097.5,344.4C1106.8,343.1 1115.6,342.2 1125.3,341.6C1135,341 1150.5,341.1 1155.6,341M1050.8,289.7C1055.5,288.9 1069.7,287.1 1079,285.1C1088.3,283.1 1099.1,280 1106.8,277.7C1114.5,275.3 1119.1,272.7 1125.3,271.2C1131.5,269.6 1138.8,268.8 1143.9,268.4C1148.9,268 1153.6,268.6 1155.6,268.7M1050.8,290.6C1055.5,290 1069.7,288.5 1079,286.9C1088.3,285.4 1099.1,283.2 1106.8,281.4C1114.5,279.5 1117.2,277 1125.3,275.8C1133.5,274.6 1150.5,274.3 1155.6,274M1050.8,291.6C1055.5,290.9 1069.7,289.1 1079,287.8C1088.3,286.6 1097.5,285.5 1106.8,284.1C1116.1,282.7 1126.5,280.8 1134.6,279.5C1142.7,278.2 1152.1,276.9 1155.6,276.3M1302.7,255.2C1306.3,255.2 1316.5,255.2 1324.1,255C1331.7,254.9 1340.3,255.1 1348.2,254.5C1356.1,253.9 1367.5,251.9 1371.4,251.3M1302.7,269.6C1307.8,269.6 1325.8,269.2 1333.4,269.3C1341,269.4 1340.5,271 1348.2,270.2C1355.9,269.5 1369.8,266.8 1379.7,264.7C1389.6,262.5 1399.2,259.6 1407.5,257.3C1415.9,254.9 1426.1,251.9 1429.8,250.8M1302.7,286.3C1305.6,285.5 1315.3,283.7 1320.4,281.4C1325.5,279 1328.7,275.2 1333.4,272.1C1338.1,269 1345.9,264.4 1348.4,262.8M1348.4,262.8C1353.6,262.4 1369.9,261.3 1379.7,260C1389.6,258.8 1401,257 1407.5,255.4C1414,253.9 1416.8,251.6 1418.6,250.8M1302.7,275.4C1304.7,275.8 1309.7,276 1314.9,277.7C1320,279.3 1327.8,282.3 1333.4,285.1C1339,287.8 1345.9,292.8 1348.4,294.3M1302.7,294.1L1348.4,294M1348.4,294C1353.6,293.4 1368.3,292 1379.7,290.6C1391.1,289.3 1407.5,286.9 1416.8,286C1426.1,285.1 1429.2,285 1435.3,285.1C1441.4,285.1 1450.3,286.2 1453.4,286.5M1302.7,308.2C1306.3,307.7 1316.5,307.8 1324.1,305.4C1331.8,303.1 1344.4,296.2 1348.4,294.3M1302.7,316.3C1306.3,317.3 1316.5,319.3 1324.1,322.1C1331.8,325 1344.4,331.4 1348.4,333.2M1348.4,333.2C1352.1,332.6 1362.2,332.3 1370.5,329.5C1378.8,326.8 1389,321.2 1398.3,316.6C1407.5,311.9 1416.9,306.1 1426.1,301.7C1435.2,297.4 1448.8,292.5 1453.4,290.6M1302.7,341C1306.3,340.6 1316.5,340.1 1324.1,338.8C1331.8,337.5 1344.4,334.2 1348.4,333.2M1348.4,334.2C1353.6,332.9 1369.9,330.5 1379.7,326.8C1389.6,323.1 1398.3,316.9 1407.5,311.9C1416.8,307 1427.7,300.5 1435.3,297.1C1443,293.7 1450.3,292.5 1453.4,291.6M1348.4,294.3C1352.1,295.3 1363.7,297.4 1370.5,299.9C1377.2,302.4 1382.8,305.8 1389,309.2C1395.2,312.6 1401.3,316.6 1407.5,320.3C1413.7,324 1419.9,328.2 1426.1,331.4C1432.2,334.6 1440,338.2 1444.6,339.7C1449.1,341.3 1451.9,340.5 1453.4,340.7M1302.7,351.6C1310.3,351 1332.5,348.5 1348.4,348.1C1364.3,347.6 1380.8,348.6 1398.3,349C1415.7,349.4 1444.2,350.2 1453.4,350.4M1453.4,286.5C1458,286.1 1472.1,285.6 1481.4,284.1C1490.7,282.7 1499.9,279.5 1509.2,277.7C1518.5,275.8 1528.9,273.9 1537,273C1545.1,272.1 1550,272.1 1557.7,272.1C1565.5,272.1 1574.4,272.1 1583.3,273C1592.2,273.9 1601.9,275.6 1611.1,277.7C1620.4,279.7 1629.7,282.9 1638.9,285.1C1648.2,287.2 1655.8,289.1 1666.7,290.6C1677.7,292.2 1698.4,293.7 1704.7,294.3M1453.4,290.6C1458,290.3 1472.1,290.2 1481.4,288.8C1490.7,287.4 1499.9,284.4 1509.2,282.3C1518.5,280.1 1528.9,277.2 1537,275.8C1545.1,274.4 1550,273.9 1557.7,273.9C1565.5,273.9 1572.9,274.3 1583.3,275.8C1593.8,277.3 1608,280.9 1620.4,283.2C1632.7,285.5 1643.4,287.8 1657.5,289.7C1671.5,291.6 1696.8,293.6 1704.7,294.3M1453.4,291.6C1459.6,291.1 1478.3,290.5 1490.7,288.8C1503.1,287.1 1516.5,283.4 1527.7,281.4C1538.9,279.4 1548.5,276.7 1557.7,276.7C1567,276.7 1574.4,278.4 1583.3,281.4C1592.2,284.3 1601.9,289.4 1611.1,294.3C1620.4,299.3 1629.7,306.1 1638.9,311C1648.2,316 1659,320.6 1666.7,324C1674.4,327.4 1678.9,329.7 1685.2,331.4C1691.6,333.1 1701.5,333.7 1704.7,334.2M1557.7,273.9C1563.6,274.9 1582.1,277.3 1592.6,279.5C1603,281.7 1612.7,283.2 1620.4,286.9C1628.1,290.6 1632.7,296.5 1638.9,301.7C1645.1,307 1651.3,314.1 1657.5,318.4C1663.6,322.7 1668.1,325.2 1676,327.7C1683.9,330.2 1699.9,332.3 1704.7,333.2M1453.4,340.7C1462.7,340.7 1491.8,340.7 1509.2,340.7C1526.6,340.7 1545.4,340.7 1557.7,340.7C1570.1,340.7 1576,340 1583.3,340.7C1590.7,341.3 1594.1,343 1601.9,344.4C1609.6,345.8 1620.4,348.2 1629.7,349C1638.9,349.8 1644.9,349.3 1657.5,349C1670,348.7 1696.8,347.5 1704.7,347.1M1453.4,350.4C1458,349.7 1472.1,348.2 1481.4,346.2C1490.7,344.3 1499.9,340.8 1509.2,338.8C1518.5,336.8 1528.9,335.1 1537,334.2C1545.1,333.2 1550,333.2 1557.7,333.2C1565.5,333.2 1574.4,334.8 1583.3,334.2C1592.2,333.6 1601.9,332.2 1611.1,329.5C1620.4,326.9 1629.7,322.4 1638.9,318.4C1648.2,314.4 1659,308.7 1666.7,305.4C1674.4,302.2 1678.9,300.8 1685.2,299C1691.6,297.1 1701.5,295.1 1704.7,294.3M1617.6,250.8C1621.2,252.5 1630.7,258 1638.9,261C1647.1,263.9 1655.8,266.7 1666.7,268.4C1677.7,270.1 1698.4,270.7 1704.7,271.2M1652.8,250.8C1656.7,252.2 1667.3,257.1 1676,259.1C1684.6,261.1 1699.9,262.2 1704.7,262.8M1682.5,251.3L1704.7,255.4M946.5,428.6C951.6,428 965.8,427 977.1,424.9C988.3,422.7 1001.8,418.4 1014.1,415.6C1026.4,412.8 1040,408.8 1050.8,408.2C1061.6,407.6 1069.7,409.1 1079,411.9C1088.3,414.7 1097.5,420.6 1106.8,424.9C1116.1,429.2 1126.5,435.2 1134.6,437.9C1142.7,440.5 1152,440.2 1155.5,440.7M946.5,477.7C950,476.6 959.6,475.7 967.8,471.2C976,466.7 986.3,457.6 995.6,450.8C1004.9,444 1014.2,435.7 1023.4,430.4C1032.6,425.2 1041.6,420.3 1050.8,419.3C1060.1,418.4 1069.7,421.5 1079,424.9C1088.3,428.3 1097.5,435.4 1106.8,439.7C1116.1,444 1126.5,448.6 1134.6,450.8C1142.7,453.1 1152,452.9 1155.5,453.4M946.5,456.4C951.6,456.7 965.8,457 977.1,458.2C988.3,459.5 1001.8,462.1 1014.1,463.8C1026.4,465.5 1038.5,467.8 1050.8,468.4C1063.2,469.1 1075.8,468.3 1088.3,467.5C1100.7,466.7 1114.1,464.7 1125.3,463.8C1136.5,462.9 1150.5,462.6 1155.5,462.4M946.5,457.3C951.6,457.8 967.3,458.7 977.1,460.1C986.8,461.5 995.6,463.5 1004.9,465.7C1014.1,467.8 1025,471.2 1032.7,473.1C1040.3,474.9 1043.1,476.2 1050.8,476.8C1058.5,477.4 1069.7,478 1079,476.8C1088.3,475.5 1097.5,471.7 1106.8,469.4C1116.1,467 1126.5,464.2 1134.6,462.9C1142.7,461.5 1152,461.5 1155.5,461.2M946.5,483.3C954.7,483.4 978.2,484.8 995.6,484.2C1013,483.6 1032.3,480.5 1050.8,479.6C1069.4,478.6 1089.3,479 1106.8,478.6C1124.2,478.3 1147.4,477.7 1155.5,477.5M946.5,484.2C954.7,484 978.2,484.3 995.6,483.3C1013,482.2 1032.3,478.2 1050.8,477.7C1069.4,477.2 1089.3,480 1106.8,480.5C1124.2,480.9 1147.4,480.5 1155.5,480.5M946.5,535.2C950,533.8 959.6,531 967.8,526.8C976,522.6 986.3,515.4 995.6,510.1C1004.9,504.9 1014.2,499.2 1023.4,495.3C1032.6,491.4 1040,488.7 1050.8,487C1061.6,485.2 1075.8,485.8 1088.3,484.9C1100.7,484.1 1114.1,482.9 1125.3,482C1136.5,481 1150.5,479.7 1155.5,479.2M946.5,512.9C954.7,513.2 978.2,513.5 995.6,514.8C1013,516 1032.3,518.9 1050.8,520.3C1069.4,521.7 1089.3,522.3 1106.8,523.1C1124.2,523.9 1147.4,524.7 1155.6,525M1302.6,428C1306.2,427.6 1316.5,426.6 1324.1,425.8C1331.8,425 1339.1,424.3 1348.4,423C1357.7,421.8 1368.3,420.6 1379.7,418.4C1391.1,416.2 1404.5,411.9 1416.8,410.1C1429.1,408.2 1447.3,407.7 1453.4,407.3M1302.6,477.1C1310.2,477.1 1337.1,477.8 1348.4,476.8C1359.7,475.8 1363.7,474.3 1370.5,471.2C1377.2,468.1 1382.8,462.9 1389,458.2C1395.2,453.6 1401.3,448 1407.5,443.4C1413.7,438.8 1418.4,434.5 1426.1,430.4C1433.7,426.4 1448.8,421.2 1453.4,419.3M1302.6,456.6C1310.2,456.6 1335.6,456.1 1348.4,456.4C1361.3,456.7 1369.9,457 1379.7,458.2C1389.6,459.5 1398.3,461.6 1407.5,463.8C1416.8,466 1427.7,469.5 1435.3,471.2C1443,472.9 1450.3,473.5 1453.4,474M1302.6,458.1C1310.2,458.1 1335.6,457.9 1348.4,458.2C1361.3,458.6 1369.9,458.6 1379.7,460.1C1389.6,461.6 1398.3,465.3 1407.5,467.5C1416.8,469.7 1427.7,471.8 1435.3,473.1C1443,474.3 1450.3,474.6 1453.4,474.9M1302.6,483.4C1310.2,482.4 1332.5,478.5 1348.4,477.7C1364.3,476.9 1380.8,478.6 1398.3,478.6C1415.7,478.6 1444.2,477.9 1453.4,477.7M1348.4,534.2C1352.1,533 1362.2,530.8 1370.5,526.8C1378.8,522.8 1389,515.1 1398.3,510.1C1407.5,505.2 1416.9,500.9 1426.1,497.2C1435.2,493.5 1448.8,489.4 1453.4,487.9M1302.6,534.8L1324.1,536.1M1302.6,513.4C1310.2,513.6 1332.5,514.1 1348.4,514.8C1364.4,515.5 1380.8,516.2 1398.3,517.5C1415.7,518.9 1444.2,522.2 1453.4,523.1M1453.4,407.3C1458,408.1 1472.1,409 1481.4,411.9C1490.7,414.8 1499.9,420.9 1509.2,424.9C1518.5,428.9 1528.9,433.4 1537,436C1545.1,438.6 1550,440.9 1557.7,440.6C1565.5,440.3 1574.4,438 1583.3,434.1C1592.2,430.3 1602.5,421.5 1611.1,417.5C1619.8,413.5 1625.9,410.4 1635.2,410.1C1644.5,409.7 1655.1,413.3 1666.7,415.6C1678.3,417.9 1698.4,422.6 1704.7,424M1453.4,419.3C1458,420.3 1472.1,421.8 1481.4,424.9C1490.7,428 1499.9,433.7 1509.2,437.9C1518.5,442 1528.9,447.3 1537,449.9C1545.1,452.5 1550,453.5 1557.7,453.6C1565.5,453.8 1572.9,451.1 1583.3,450.8C1593.8,450.5 1609.6,451.1 1620.4,451.8C1631.2,452.4 1638.9,452.2 1648.2,454.5C1657.5,456.9 1666.6,461.8 1676,465.7C1685.4,469.5 1699.9,475.7 1704.7,477.7M1453.4,474C1458,473.5 1472.1,472.6 1481.4,471.2C1490.7,469.8 1499.9,467.2 1509.2,465.7C1518.5,464.1 1528.9,462.7 1537,461.9C1545.1,461.2 1550,460.9 1557.7,461C1565.5,461.2 1576,462.4 1583.3,462.9C1590.7,463.3 1592.6,464.1 1601.9,463.8C1611.1,463.5 1626.6,461.9 1638.9,461C1651.3,460.1 1665,459 1676,458.2C1686.9,457.5 1699.9,456.7 1704.7,456.4M1453.4,474.9C1458,474.6 1472.1,474.3 1481.4,473.1C1490.7,471.8 1499.9,469.1 1509.2,467.5C1518.5,466 1528.9,464.6 1537,463.8C1545.1,463 1550,462.6 1557.7,462.9C1565.5,463.2 1574.4,464.1 1583.3,465.7C1592.2,467.2 1603.4,471.2 1611.1,472.1C1618.8,473.1 1621.9,472.8 1629.7,471.2C1637.4,469.7 1648.2,465.2 1657.5,462.9C1666.7,460.6 1677.4,458.4 1685.2,457.3C1693.1,456.2 1701.5,456.5 1704.7,456.4M1453.4,477.7C1462.7,477.9 1491.8,478.6 1509.2,478.6C1526.6,478.6 1542.3,477.7 1557.7,477.7C1573.2,477.7 1585.2,478.5 1601.9,478.6C1618.5,478.8 1640.3,478.8 1657.5,478.6C1674.6,478.5 1696.8,477.9 1704.7,477.7M1453.2,480.5C1462.6,480.3 1491.8,479.6 1509.2,479.6C1526.6,479.6 1542.3,480 1557.7,480.5C1573.2,480.9 1589.9,480.2 1601.9,482.3C1613.8,484.5 1620.4,488.8 1629.7,493.5C1638.9,498.1 1648.2,504.6 1657.5,510.1C1666.7,515.7 1677.4,522.6 1685.2,526.8C1693.1,531 1701.5,533.8 1704.7,535.2M1453.4,487.9C1459.6,487.3 1478.3,485.4 1490.7,484.2C1503.1,483 1516.5,481.3 1527.7,480.5C1538.9,479.7 1552.7,479.7 1557.7,479.6M1453.4,523.1C1462.7,523 1491.8,521.9 1509.2,522.2C1526.6,522.5 1539.2,524.8 1557.7,525C1576.3,525.1 1595.9,524.8 1620.4,523.1C1644.9,521.4 1690.7,516.2 1704.7,514.8M946.5,523.7C954.7,523.6 978.2,522.8 995.6,522.8C1013,522.8 1032.3,523.4 1050.8,523.7C1069.4,524 1089.3,524.3 1106.8,524.6C1124.2,524.9 1147.4,525.4 1155.5,525.6M946.5,534.8C951.6,534.2 965.8,532.2 977.1,531.1C988.3,530 1001.8,529 1014.1,528.3C1026.4,527.7 1035.4,527.1 1050.8,527.4C1066.3,527.7 1089.3,529.2 1106.8,530.2C1124.2,531.2 1147.4,532.7 1155.6,533.2M946.5,537.6C954.7,537.3 978.2,535.6 995.6,535.8C1013,535.9 1032.3,538.2 1050.8,538.5C1069.4,538.8 1089.3,538.2 1106.8,537.6C1124.2,537 1147.4,535.5 1155.6,535.1M946.5,538.5C951.6,538.8 965.8,539.5 977.1,540.4C988.3,541.3 1001.8,542.9 1014.1,544.1C1026.4,545.3 1038.5,546.3 1050.8,547.8C1063.2,549.3 1075.8,551.2 1088.3,553.4C1100.7,555.5 1114.1,558.9 1125.3,560.8C1136.5,562.7 1150.5,564.1 1155.6,564.7M946.5,552.4C957.8,552.7 996.7,553 1014.1,554.3C1031.5,555.5 1038.5,557.2 1050.8,559.8C1063.2,562.5 1075.8,566.8 1088.3,570C1100.7,573.3 1114.1,577.2 1125.3,579.3C1136.5,581.4 1150.5,582.2 1155.6,582.8M946.5,558C951.6,558.3 965.8,558.9 977.1,559.8C988.3,560.8 1001.8,563.1 1014.1,563.6C1026.4,564 1038.5,562 1050.8,562.6C1063.2,563.2 1075.8,564.2 1088.3,567.3C1100.7,570.3 1114.1,577.2 1125.3,581.2C1136.5,585.1 1150.5,589.1 1155.6,590.7M946.5,562.6C954.7,563.2 978.2,564.5 995.6,566.3C1013,568.2 1032.3,572.5 1050.8,573.7C1069.4,575 1089.3,572.5 1106.8,573.7C1124.2,575 1147.4,580.2 1155.6,581.4M946.5,568.2C954.7,567.7 978.2,566 995.6,565.4C1013,564.8 1035.4,564.3 1050.8,564.5C1066.3,564.6 1082,566 1088.3,566.3M946.5,545.9C951.6,546.6 965.8,549.7 977.1,549.7C988.3,549.7 1001.8,546.9 1014.1,545.9C1026.4,545 1035.4,544.4 1050.8,544.1C1066.3,543.8 1089.3,543.8 1106.8,544.1C1124.2,544.4 1147.4,545.5 1155.6,545.7M946.5,568.2C950,568.5 959.6,566.6 967.8,570C976,573.4 986.3,582.4 995.6,588.6C1004.9,594.7 1014.2,601.9 1023.4,607.1C1032.6,612.4 1040,618.2 1050.8,620.1C1061.6,621.9 1075.8,619.5 1088.3,618.2C1100.7,617 1114.1,614.5 1125.3,612.7C1136.5,610.8 1150.5,607.9 1155.6,607M946.5,583C951.6,584.2 965.8,587.3 977.1,590.4C988.3,593.5 1001.8,599.1 1014.1,601.5C1026.4,604 1038.5,604.8 1050.8,605.2C1063.2,605.7 1075.8,605.2 1088.3,604.3C1100.7,603.4 1114.1,600.9 1125.3,599.7C1136.5,598.5 1150.5,597.6 1155.6,597.2M946.5,596.9C963.9,596.8 1027.2,596 1050.8,596C1074.5,596 1075.8,596 1088.3,596.9C1100.7,597.8 1114.1,600.3 1125.3,601.5C1136.5,602.8 1150.5,604.1 1155.6,604.6M946.5,618.2C954.7,618.7 978.2,620.2 995.6,621C1013,621.8 1035.4,623.3 1050.8,622.9C1066.3,622.4 1075.8,619.9 1088.3,618.2C1100.7,616.5 1114.1,613.2 1125.3,612.7C1136.5,612.1 1150.5,614.5 1155.6,614.9M946.5,636.8C954.7,637.2 978.2,638.6 995.6,639.5C1013,640.5 1035.4,643.1 1050.8,642.3C1066.3,641.5 1075.8,637.7 1088.3,634.9C1100.7,632.1 1114.1,628 1125.3,625.6C1136.5,623.2 1150.5,621.3 1155.6,620.4M946.5,642.3C954.7,642.6 978.2,644 995.6,644.2C1013,644.3 1035.4,643.5 1050.8,643.2C1066.3,642.9 1075.8,643.1 1088.3,642.3C1100.7,641.5 1114.1,639.5 1125.3,638.6C1136.5,637.7 1150.5,637.1 1155.5,636.8M946.5,651.6C954.7,651.7 978.2,652.5 995.6,652.5C1013,652.5 1036.9,651.4 1050.8,651.6C1064.7,651.7 1069.7,651.6 1079,653.4C1088.3,655.3 1094,660.3 1106.8,662.7C1119.6,665.1 1147.4,666.9 1155.6,667.7M946.5,653.4C954.7,654.4 978.2,657.1 995.6,659C1013,660.8 1036.9,664.9 1050.8,664.6C1064.7,664.2 1069.7,659.9 1079,657.1C1088.3,654.4 1094,649.7 1106.8,647.9C1119.6,646 1147.4,646.2 1155.6,645.9M946.5,688.6C954.7,687.7 978.2,685.9 995.6,683.1C1013,680.3 1032.3,674.4 1050.8,672C1069.4,669.5 1089.3,669.4 1106.8,668.3C1124.2,667.1 1147.4,665.5 1155.6,664.9M946.5,720.1C954.7,718.3 978.2,713.7 995.6,709C1013,704.4 1032.3,695 1050.8,692.3C1069.4,689.7 1089.3,692.7 1106.8,693.3C1124.2,693.9 1147.4,695.6 1155.6,696M946.5,709C954.7,708.4 978.2,706.6 995.6,705.3C1013,704.1 1035.4,700.7 1050.8,701.6C1066.3,702.5 1075.8,707.2 1088.3,710.9C1100.7,714.6 1114.1,720.5 1125.3,723.9C1136.5,727.2 1150.5,729.7 1155.6,730.8M1302.6,523.9C1310.2,524.4 1332.5,526.2 1348.4,526.5C1364.4,526.8 1380.8,525.9 1398.3,525.6C1415.7,525.2 1444.2,524.4 1453.4,524.2M1302.6,534.6C1310.2,534.5 1332.5,534.3 1348.4,533.9C1364.4,533.5 1380.8,532.6 1398.3,532C1415.7,531.5 1444.2,530.9 1453.4,530.7M1302.6,535.5C1310.2,535.6 1332.5,535.3 1348.4,535.8C1364.4,536.3 1380.8,538 1398.3,538.5C1415.7,539.1 1444.2,538.9 1453.4,539M1302.6,539.7C1310.2,540.7 1332.5,544.1 1348.4,545.9C1364.4,547.8 1380.8,549.9 1398.3,550.6C1415.7,551.3 1444.2,550.2 1453.4,550.1M1302.6,552.7C1310.2,552.5 1332.5,551.1 1348.4,551.5C1364.4,551.9 1380.8,553.6 1398.3,555.2C1415.7,556.8 1444.2,560.2 1453.4,561.2M1302.6,560.6C1310.2,560.6 1332.5,560.3 1348.4,560.8C1364.4,561.3 1380.8,562.2 1398.3,563.6C1415.7,564.9 1444.2,567.8 1453.4,568.6M1302.6,568C1310.2,568.2 1337.1,568.6 1348.4,569.1C1359.7,569.6 1362.2,568 1370.5,571C1378.8,573.9 1389,580.7 1398.3,586.7C1407.5,592.7 1416.9,601.3 1426.1,607.1C1435.2,612.9 1448.8,619.1 1453.4,621.5M1302.6,582.8C1310.2,582.7 1337.1,581.9 1348.4,582.1C1359.7,582.3 1362.2,582.2 1370.5,583.9C1378.8,585.6 1387.4,589.3 1398.3,592.3C1409.1,595.2 1426.1,599.2 1435.3,601.5C1444.5,603.9 1450.3,605.4 1453.4,606.2M1302.6,596.6L1453.4,596M1302.6,616.7C1310.2,616 1332.5,612.4 1348.4,612.7C1364.4,612.9 1383.8,616.1 1398.3,618.2C1412.7,620.4 1426.1,624.2 1435.3,625.6C1444.5,627 1450.3,626.4 1453.4,626.6M1302.6,637.6C1310.2,637.4 1332.5,636.6 1348.4,636.8C1364.4,636.9 1380.8,637.8 1398.3,638.6C1415.7,639.4 1444.2,640.9 1453.4,641.4M1302.6,642.7C1310.2,642.6 1332.5,641.8 1348.4,642.3C1364.4,642.9 1383.8,643.1 1398.3,646C1412.7,649 1426.1,656.7 1435.3,659.9C1444.5,663.2 1450.5,664.6 1453.5,665.5M1302.6,652.9C1310.2,653 1332.5,653 1348.4,653.4C1364.4,653.8 1380.8,655.5 1398.3,655.3C1415.7,655.1 1444.2,652.6 1453.4,652M1302.4,654.4C1310.1,654.5 1332.4,654.2 1348.4,655.3C1364.4,656.4 1380.8,659 1398.3,660.8C1415.7,662.7 1444.2,665.5 1453.4,666.4M1302.6,688.6C1310.2,688.6 1332.5,689.9 1348.4,688.6C1364.4,687.4 1380.8,684.6 1398.3,681.2C1415.7,677.8 1444.2,670.4 1453.4,668.3M1302.6,708.1C1310.2,708.1 1335.5,708.3 1348.4,708.1C1361.3,708 1368.3,707.9 1379.7,707.2C1391.1,706.4 1404.5,704.2 1416.8,703.5C1429.1,702.7 1446.1,702.7 1453.5,702.5C1460.9,702.4 1460,702.5 1461.3,702.5M1302.6,719.7C1310.2,719.8 1335.5,721.3 1348.4,720.1C1361.3,719 1369.9,715.8 1379.7,712.7C1389.6,709.6 1398.3,704.9 1407.5,701.6C1416.8,698.4 1427.7,695 1435.3,693.3C1443,691.6 1444.2,691.7 1453.5,691.4C1462.8,691.1 1480,691.3 1490.9,691.4C1501.8,691.6 1514.1,692.2 1518.7,692.3M1453.4,524.2C1462.7,524.2 1491.8,524.2 1509.2,524.6C1526.6,525 1539.2,526.6 1557.7,526.5C1576.3,526.3 1595.9,524 1620.4,523.7C1644.9,523.4 1690.7,524.5 1704.7,524.6M1453.4,530.7C1462.7,530.9 1491.8,531.5 1509.2,532C1526.6,532.6 1539.2,533.9 1557.7,533.9C1576.3,533.9 1595.9,532.7 1620.4,532C1644.9,531.4 1690.7,530.5 1704.7,530.2M1453.4,539C1462.7,539.2 1491.8,539.5 1509.2,540.4C1526.6,541.2 1539.2,543.8 1557.7,544.1C1576.3,544.4 1595.9,543.2 1620.4,542.2C1644.9,541.3 1690.7,539.1 1704.7,538.5M1453.4,550.1C1462.7,551.3 1491.8,554.7 1509.2,557.1C1526.6,559.5 1542.3,563.9 1557.7,564.5C1573.2,565.1 1585.2,562.9 1601.9,560.8C1618.5,558.6 1640.3,553.4 1657.5,551.5C1674.6,549.7 1696.8,550 1704.7,549.7M1453.4,561.2C1462.7,563 1491.8,568.7 1509.2,571.9C1526.6,575.1 1542.3,579.6 1557.7,580.2C1573.2,580.8 1585.2,578.2 1601.9,575.6C1618.5,573 1640.3,567.1 1657.5,564.5C1674.6,561.9 1696.8,560.6 1704.7,559.8M1453.2,566.3C1459.5,566.6 1478.2,566 1490.7,568.2C1503.1,570.3 1516.5,575.8 1527.7,579.3C1538.9,582.9 1545.4,589.2 1557.7,589.5C1570.1,589.8 1585.2,584.4 1601.9,581.2C1618.5,577.9 1640.3,573 1657.5,570C1674.6,567.1 1696.8,564.6 1704.7,563.6M1453.4,568.6C1459.6,569.5 1478.3,571 1490.7,573.7C1503.1,576.4 1516.5,581.9 1527.7,584.9C1538.9,587.8 1546.9,591 1557.7,591.3C1568.6,591.7 1579.1,589.7 1592.6,586.7C1606.1,583.8 1620.2,576.8 1638.9,573.7C1657.6,570.7 1693.7,569.1 1704.7,568.2M1453.4,596L1704.7,596M1453.4,621.5C1459.6,621.2 1473.3,622.5 1490.7,620.1C1508.1,617.7 1542.3,609.6 1557.7,607.1C1573.2,604.6 1572.9,606.5 1583.3,605.2C1593.8,604 1608,602.2 1620.4,599.7C1632.7,597.2 1643.4,593.4 1657.5,590.4C1671.5,587.5 1696.8,583.5 1704.7,582.1M1453.4,606.2C1462.7,605.7 1491.8,604.2 1509.2,603.4C1526.6,602.6 1542.3,600.9 1557.7,601.5C1573.2,602.2 1589.9,606.5 1601.9,607.1C1613.8,607.7 1620.4,606.5 1629.7,605.2C1638.9,604 1644.9,601.2 1657.5,599.7C1670,598.1 1696.8,596.6 1704.7,596M1453.4,626.6C1459.6,626.1 1478.3,625.5 1490.7,623.8C1503.1,622.1 1516.5,618.2 1527.7,616.4C1538.9,614.5 1548.5,613 1557.7,612.7C1567,612.4 1569.8,613.6 1583.3,614.5C1596.9,615.4 1618.7,618.5 1638.9,618.2C1659.2,617.9 1693.7,613.6 1704.7,612.7M1453.4,668.3C1459.6,664.9 1479.8,654 1490.7,647.9C1501.5,641.7 1509.2,635.5 1518.5,631.2C1527.7,626.9 1539.7,623.8 1546.3,621.9C1552.8,620.1 1551.6,619.1 1557.7,620.1C1563.9,621 1574.4,623.8 1583.3,627.5C1592.2,631.2 1603.4,638.3 1611.1,642.3C1618.8,646.3 1623.5,650.2 1629.7,651.6C1635.8,653 1640.5,651.9 1648.2,650.7C1655.9,649.4 1666.6,645.6 1676,644.2C1685.4,642.8 1699.9,642.6 1704.7,642.3M1453.4,641.4C1470.8,641.5 1529.9,642 1557.7,642.3C1585.6,642.6 1595.9,643.2 1620.4,643.2C1644.9,643.2 1690.7,642.5 1704.7,642.3M1453.4,652C1459.6,652.9 1478.3,654.7 1490.7,657.1C1503.1,659.5 1516.5,664.4 1527.7,666.4C1538.9,668.4 1545.4,669.2 1557.7,669.2C1570.1,669.2 1585.2,668.1 1601.9,666.4C1618.5,664.7 1640.3,661.2 1657.5,659C1674.6,656.8 1696.8,654.4 1704.7,653.4M1453.4,666.4C1459.6,666.4 1478.3,666.1 1490.7,666.4C1503.1,666.7 1516.5,667.9 1527.7,668.3C1538.9,668.6 1545.4,667.3 1557.7,668.3C1570.1,669.2 1585.2,671.3 1601.9,673.8C1618.5,676.3 1640.3,680.8 1657.5,683.1C1674.6,685.4 1696.8,686.9 1704.7,687.7M1453.2,692.3C1462.6,692.3 1493.7,692.2 1509.2,692.3C1524.7,692.5 1540.1,693.1 1546.3,693.3M1453.2,702.5L1461,702.5M1676,709L1704.7,709M1676,718.7L1704.7,719.2M1226.5,252.7C1229.3,254.5 1237.3,259.8 1243.2,263.9C1249.1,267.9 1255.7,273.5 1261.9,276.9C1268.1,280.3 1273.7,282.8 1280.5,284.4C1287.3,285.9 1299,286 1302.7,286.3M1240.4,252.7C1244,254.4 1254.4,260.2 1261.9,262.9C1269.3,265.6 1278.4,267.9 1285.2,269C1292,270.1 1299.8,269.5 1302.7,269.6M1285.2,252.7L1302.7,255.2M1155.6,268.7C1159.3,269.3 1169.6,270.9 1178,272.2C1186.4,273.6 1196.6,275.8 1205.9,276.9C1215.3,278 1224.6,278.6 1233.9,278.8C1243.2,278.9 1253.3,278.3 1261.9,277.8C1270.4,277.4 1278.4,276.4 1285.2,276C1292,275.6 1299.8,275.5 1302.7,275.4M1155.6,275C1159.3,275.2 1171.1,275.2 1178,276C1184.8,276.7 1188.9,277.5 1196.6,279.7C1204.4,281.9 1216.8,286.5 1224.6,289C1232.4,291.5 1236.2,293 1243.2,294.6C1250.2,296.3 1259.6,298.5 1266.6,298.8C1273.5,299.1 1279.2,297.3 1285.2,296.5C1291.2,295.7 1299.8,294.5 1302.7,294.1M1155.6,274C1160.9,275.1 1177.3,277.7 1187.3,280.6C1197.2,283.6 1207.5,288.6 1215.3,291.8C1223,295.1 1227.7,297.4 1233.9,300.2C1240.1,303 1246.3,306.4 1252.6,308.6C1258.8,310.8 1262.9,312 1271.2,313.3C1279.6,314.6 1297.4,315.8 1302.7,316.3M1155.6,276.3C1160.9,277.5 1177.3,280.7 1187.3,283.4C1197.2,286.2 1207.5,289.3 1215.3,292.8C1223,296.2 1228.5,299.9 1233.9,303.9C1239.4,308 1243.2,313 1247.9,317C1252.6,321 1256.4,324.8 1261.9,328.2C1267.3,331.6 1273.7,335.4 1280.5,337.5C1287.3,339.6 1299,340.4 1302.7,341M1155.6,335.8C1159.3,336.1 1169.6,338.2 1178,337.5C1186.4,336.9 1196.6,334.7 1205.9,331.9C1215.3,329.1 1226.1,324.1 1233.9,320.7C1241.7,317.3 1246.3,313.7 1252.6,311.4C1258.8,309.1 1262.9,307.7 1271.2,307.2C1279.6,306.7 1297.4,308 1302.7,308.2M1155.6,341C1159.3,341.5 1171.1,342.7 1178,344C1184.8,345.3 1188.9,347 1196.6,348.7C1204.4,350.4 1215.3,353.7 1224.6,354.3C1233.9,354.9 1243.2,353 1252.6,352.4C1261.9,351.9 1272.2,351.2 1280.5,351C1288.9,350.9 1299,351.5 1302.7,351.6M1155.5,440.7C1158.5,440.2 1167.5,440.1 1173.4,437.9C1179.4,435.8 1184.9,431.2 1191.4,427.6C1197.8,424 1205.8,419 1212,416.6C1218.2,414.2 1222.8,413.1 1228.6,413.1C1234.3,413.1 1240.1,414.9 1246.5,416.6C1252.9,418.3 1260.3,421.6 1267.2,423.5C1274.1,425.3 1282,426.9 1287.9,427.6C1293.8,428.4 1300.2,427.9 1302.6,428M1155.5,453.4C1161.5,452.9 1179.6,450.5 1191.4,450.4C1203.1,450.2 1215.5,451.2 1225.8,452.4C1236.2,453.7 1240.6,457.4 1253.4,457.9C1266.2,458.5 1294.5,456.2 1302.8,455.9M1155.5,457.9C1163.8,458.9 1187.7,463.3 1205.1,463.5C1222.6,463.6 1244.1,459.8 1260.3,458.6C1276.5,457.5 1295.6,456.9 1302.6,456.6M1155.5,461.2C1160.3,462 1175,464.3 1184.5,466.2C1193.9,468.1 1204,471.6 1212,472.4C1220.1,473.2 1224.7,472.3 1232.7,471C1240.8,469.8 1248.7,467 1260.3,464.8C1271.9,462.7 1295.6,459.2 1302.6,458.1M1155.5,462.4C1163.8,462.8 1191.1,465.6 1205.1,464.8C1219.2,464.1 1230.4,458.5 1239.6,457.9C1248.8,457.4 1253.4,459.3 1260.3,461.4C1267.2,463.5 1275.2,467.9 1281,470.3C1286.7,472.8 1291.2,474.7 1294.8,475.9C1298.4,477 1301.3,476.9 1302.6,477.1M1155.5,477.5C1159.2,477.7 1169.3,478.5 1177.6,478.6C1185.8,478.7 1196,477.5 1205.1,477.9C1214.3,478.4 1223.5,480.5 1232.7,481.4C1241.9,482.3 1248.7,483.1 1260.3,483.4C1271.9,483.8 1295.6,483.4 1302.6,483.4M1155.5,479.2C1161.5,479.7 1181.9,480.8 1191.4,482.1C1200.8,483.3 1205.1,484.5 1212,486.9C1218.9,489.3 1225.8,492.9 1232.7,496.5C1239.6,500.2 1246.5,504.6 1253.4,509C1260.3,513.3 1267.2,518.6 1274.1,522.7C1281,526.9 1290,531.5 1294.8,533.8C1299.5,536.1 1301.4,536.1 1302.8,536.5M1155.6,525C1163.9,524.9 1191.2,524.9 1205.7,524.2C1220.3,523.4 1230.5,522 1242.9,520.4C1255.3,518.9 1270.1,516 1280,514.9C1290,513.7 1298.8,513.7 1302.6,513.4M1155.6,533.2C1162.4,533.4 1183.4,534.5 1196.4,534.4C1209.4,534.3 1222.8,533.6 1233.6,532.5C1244.4,531.4 1253.7,529.3 1261.5,527.9C1269.2,526.5 1273.2,524.8 1280,524.2C1286.9,523.5 1298.8,524 1302.6,523.9M1233.6,500.9C1236.4,502 1245.1,504.6 1250.3,507.4C1255.6,510.2 1260.2,514.2 1265.2,517.6C1270.1,521.1 1275.1,525.1 1280,527.9C1285,530.7 1291.1,533.2 1294.9,534.4C1298.7,535.5 1301.3,534.6 1302.6,534.6M1155.6,535.1C1162.4,534.9 1181.9,534.3 1196.4,534.4C1211,534.4 1229,535.1 1242.9,535.3C1256.8,535.5 1270.1,535.3 1280,535.3C1290,535.3 1298.8,535.5 1302.6,535.5M1155.6,545.7C1163.9,545.4 1192.7,543.5 1205.7,543.7C1218.7,543.8 1225.9,545 1233.6,546.4C1241.3,547.8 1246,550.2 1252.2,552C1258.4,553.9 1264.6,555.7 1270.8,557.6C1276.9,559.4 1284,561.4 1289.3,563.2C1294.6,564.9 1300.4,567.2 1302.6,568M1155.6,564.7C1163.9,563.9 1191.2,562.2 1205.7,559.4C1220.3,556.7 1232,551.7 1242.9,548.3C1253.7,544.9 1260.8,541.3 1270.8,539C1280.7,536.8 1297.3,535.5 1302.6,534.8M1155.6,565.9C1162.4,565.8 1183.4,566.4 1196.4,565C1209.4,563.6 1222.8,559.4 1233.6,557.6C1244.4,555.7 1250,554.7 1261.5,553.9C1273,553.1 1295.7,552.9 1302.6,552.7M1155.6,581.4C1160.8,580.9 1177.2,580.8 1187.2,578C1197.1,575.3 1207.3,569 1215,565C1222.8,561 1227.4,557 1233.6,553.9C1239.8,550.8 1246,548.8 1252.2,546.4C1258.4,544.1 1262.4,541.1 1270.8,539.9C1279.2,538.8 1297.3,539.7 1302.6,539.7M1155.6,582.8C1162.4,581.7 1181.9,577.7 1196.4,576.2C1211,574.6 1229,574.6 1242.9,573.4C1256.8,572.1 1270.1,570.9 1280,568.7C1290,566.6 1298.8,561.9 1302.6,560.6M1155.6,590.7C1163.9,589.5 1192.7,585.4 1205.7,583.6C1218.7,581.8 1224.3,581.7 1233.6,579.9C1242.9,578 1253.7,575.2 1261.5,572.5C1269.2,569.7 1273.2,565.6 1280,563.2C1286.9,560.7 1298.9,558.5 1302.7,557.6M1155.6,597.2L1302.6,596.6M1155.6,604.6C1160.8,605.5 1172.6,606.9 1187.2,609.6C1201.7,612.3 1223.6,619.6 1242.9,620.8C1262.1,621.9 1292.6,617.4 1302.6,616.7M1155.6,607C1160.8,606.3 1174.1,604.5 1187.2,603.1C1200.2,601.7 1219.7,600.8 1233.6,598.5C1247.5,596.1 1259.3,591.8 1270.8,589.2C1282.2,586.6 1297.3,583.9 1302.6,582.8M1155.6,614.9C1160.8,616.8 1172.6,622.9 1187.2,626.3C1201.7,629.8 1223.6,633.6 1242.9,635.6C1262.1,637.6 1292.7,637.9 1302.7,638.4M1155.6,620.4C1159.3,621.7 1169.5,624.7 1177.9,628.2C1186.2,631.6 1194.9,638.4 1205.7,641.2C1216.6,644 1226.7,644.7 1242.9,644.9C1259,645.1 1292.6,643 1302.6,642.7M1155.6,645.9C1162.4,646.1 1185,645.8 1196.4,646.8C1207.9,647.7 1217.5,650.2 1224.3,651.4C1231.1,652.6 1231.1,654.7 1237.3,654.2C1243.5,653.7 1252.8,651.1 1261.5,648.6C1270.1,646.1 1282.5,641.2 1289.3,639.3C1296.2,637.5 1300.4,637.9 1302.6,637.6M1155.6,667.7C1160.8,667.6 1175.7,668.2 1187.2,667.2C1198.6,666.2 1211.9,663.5 1224.3,661.6C1236.7,659.8 1248.4,657.5 1261.5,656C1274.5,654.6 1295.7,653.4 1302.6,652.9M1155.6,664.9C1160.8,665.5 1175.7,666.2 1187.2,668.1C1198.6,670 1211.9,673.8 1224.3,676.5C1236.7,679.1 1248.4,681.9 1261.5,683.9C1274.5,685.9 1295.7,687.8 1302.6,688.6M1155.6,696C1160.8,695.7 1176.3,694.9 1187.2,694.1C1198,693.3 1211.3,690.9 1220.6,691.3C1229.9,691.8 1234.5,694.4 1242.9,696.9C1251.2,699.4 1260.8,704.3 1270.8,706.2C1280.7,708.1 1297.3,707.8 1302.6,708.1M1155.6,730.8C1160.8,730.1 1175.7,728.6 1187.2,726.6C1198.6,724.7 1213.5,721.1 1224.3,719.2C1235.1,717.4 1242.9,715.8 1252.2,715.5C1261.5,715.2 1271.6,716.7 1280,717.4C1288.4,718 1298.8,719.3 1302.6,719.7" fill="none" stroke="#000" stroke-width="3.1" stroke-linecap="round" stroke-linejoin="round"/></svg><rect x="1461" y="693.3" width="233.5" height="59.4" fill="#fff"/><text class="t" transform="translate(1484.3,734) scale(1.2115,1)">(c) RP-Fe</text><rect x="946.8" y="252.5" width="758" height="501.7" fill="none" stroke="#111" stroke-width="1.3"/><line x1="946.8" y1="754.2" x2="953.8" y2="754.2" stroke="#000" stroke-width="1.2"/><line x1="1697.8" y1="754.2" x2="1704.8" y2="754.2" stroke="#000" stroke-width="1.2"/><text class="t" transform="translate(921.9,765.5) scale(1.05,1)">8</text><text class="t" transform="translate(893.2,768.4) scale(1.375,1)">−</text><line x1="946.8" y1="682.5" x2="953.8" y2="682.5" stroke="#000" stroke-width="1.2"/><line x1="1697.8" y1="682.5" x2="1704.8" y2="682.5" stroke="#000" stroke-width="1.2"/><text class="t" transform="translate(921.9,693.8) scale(1.05,1)">6</text><text class="t" transform="translate(893.2,696.7) scale(1.375,1)">−</text><line x1="946.8" y1="610.9" x2="953.8" y2="610.9" stroke="#000" stroke-width="1.2"/><line x1="1697.8" y1="610.9" x2="1704.8" y2="610.9" stroke="#000" stroke-width="1.2"/><text class="t" transform="translate(921.9,622.2) scale(1.05,1)">4</text><text class="t" transform="translate(893.2,625.1) scale(1.375,1)">−</text><line x1="946.8" y1="539.2" x2="953.8" y2="539.2" stroke="#000" stroke-width="1.2"/><line x1="1697.8" y1="539.2" x2="1704.8" y2="539.2" stroke="#000" stroke-width="1.2"/><text class="t" transform="translate(921.9,550.5) scale(1.05,1)">2</text><text class="t" transform="translate(893.2,553.4) scale(1.375,1)">−</text><line x1="946.8" y1="467.5" x2="953.8" y2="467.5" stroke="#000" stroke-width="1.2"/><line x1="1697.8" y1="467.5" x2="1704.8" y2="467.5" stroke="#000" stroke-width="1.2"/><text class="t" transform="translate(921.9,478.8) scale(1.05,1)">0</text><line x1="946.8" y1="395.8" x2="953.8" y2="395.8" stroke="#000" stroke-width="1.2"/><line x1="1697.8" y1="395.8" x2="1704.8" y2="395.8" stroke="#000" stroke-width="1.2"/><text class="t" transform="translate(921.9,407.1) scale(1.05,1)">2</text><line x1="946.8" y1="324.2" x2="953.8" y2="324.2" stroke="#000" stroke-width="1.2"/><line x1="1697.8" y1="324.2" x2="1704.8" y2="324.2" stroke="#000" stroke-width="1.2"/><text class="t" transform="translate(921.9,335.5) scale(1.05,1)">4</text><line x1="946.8" y1="252.5" x2="953.8" y2="252.5" stroke="#000" stroke-width="1.2"/><line x1="1697.8" y1="252.5" x2="1704.8" y2="252.5" stroke="#000" stroke-width="1.2"/><text class="t" transform="translate(921.9,263.8) scale(1.05,1)">6</text><line x1="1050.6" y1="748.2" x2="1050.6" y2="754.2" stroke="#000" stroke-width="1.2"/><line x1="1155.5" y1="748.2" x2="1155.5" y2="754.2" stroke="#000" stroke-width="1.2"/><line x1="1302.4" y1="748.2" x2="1302.4" y2="754.2" stroke="#000" stroke-width="1.2"/><line x1="1348.5" y1="748.2" x2="1348.5" y2="754.2" stroke="#000" stroke-width="1.2"/><line x1="1453.5" y1="748.2" x2="1453.5" y2="754.2" stroke="#000" stroke-width="1.2"/><line x1="1557.5" y1="748.2" x2="1557.5" y2="754.2" stroke="#000" stroke-width="1.2"/><text class="t i k" transform="translate(934.4,792.3) scale(1.2,1)">Γ</text><text class="t i k" transform="translate(1035.4,792.3) scale(1.3,1)">X</text><text class="t i k" transform="translate(1136.8,792.3) scale(1.1,1)">M</text><text class="t i k" transform="translate(1286.8,792.3) scale(1.2,1)">Γ</text><text class="t i k" transform="translate(1335.4,792.3) scale(1.2,1)">Z</text><text class="t i k" transform="translate(1437,792.3) scale(1.3,1)">R</text><text class="t i k" transform="translate(1542.2,792.3) scale(1,1)">A</text><text class="t i k" transform="translate(1691.8,792.3) scale(1.2,1)">Z</text></g><g><line x1="946.8" y1="1048.8" x2="1704.8" y2="1048.8" stroke="#888" stroke-width="1"/><line x1="1050.6" y1="833.8" x2="1050.6" y2="1335.5" stroke="#777" stroke-width="1.2"/><line x1="1155.5" y1="833.8" x2="1155.5" y2="1335.5" stroke="#777" stroke-width="1.2"/><line x1="1302.4" y1="833.8" x2="1302.4" y2="1335.5" stroke="#777" stroke-width="1.2"/><line x1="1348.5" y1="833.8" x2="1348.5" y2="1335.5" stroke="#777" stroke-width="1.2"/><line x1="1453.5" y1="833.8" x2="1453.5" y2="1335.5" stroke="#777" stroke-width="1.2"/><line x1="1557.5" y1="833.8" x2="1557.5" y2="1335.5" stroke="#777" stroke-width="1.2"/><svg x="934.8" y="833.8" width="782" height="501.7" viewBox="934.8 833.8 782 501.7" overflow="hidden"><g fill="#c8c8c8"><circle cx="1113.6" cy="1046.3" r="6"/><circle cx="1128.7" cy="1045.3" r="6.3"/><circle cx="1143.9" cy="1044.1" r="6.5"/><circle cx="1159" cy="1043.9" r="6.8"/><circle cx="1174.2" cy="1045" r="7"/><circle cx="1189.4" cy="1048.6" r="7.5"/><circle cx="1204.5" cy="1052.4" r="7.5"/><circle cx="1219.7" cy="1054" r="7.4"/><circle cx="1234.8" cy="1052" r="6.9"/><circle cx="1250" cy="1040.9" r="6"/><circle cx="1250" cy="1039" r="5"/><circle cx="1265.2" cy="1039.2" r="5"/><circle cx="1280.3" cy="1038.8" r="4.5"/><circle cx="1568.4" cy="1044.9" r="6.1"/><circle cx="1583.5" cy="1047" r="7"/><circle cx="1598.7" cy="1050.7" r="7.5"/><circle cx="1613.8" cy="1053.7" r="7.5"/><circle cx="1629" cy="1052.6" r="7"/><circle cx="1644.2" cy="1048.2" r="7"/><circle cx="1659.3" cy="1040.8" r="7"/><circle cx="1674.5" cy="1040.4" r="7"/><circle cx="1689.6" cy="1038.6" r="7"/><circle cx="1704.8" cy="1037.7" r="7"/><circle cx="946.8" cy="1234.8" r="2"/><circle cx="962" cy="1233.3" r="2"/><circle cx="977.1" cy="1233.6" r="2"/><circle cx="992.3" cy="1233.8" r="2"/><circle cx="1007.4" cy="1233.7" r="2"/><circle cx="1022.6" cy="1233.3" r="2"/><circle cx="1037.8" cy="1233" r="2"/><circle cx="1052.9" cy="1232.9" r="2"/><circle cx="1068.1" cy="1233.3" r="2"/><circle cx="1083.2" cy="1235.8" r="2"/><circle cx="1098.4" cy="1231" r="2"/><circle cx="1113.6" cy="1228.5" r="2"/><circle cx="1128.7" cy="1227.7" r="2"/><circle cx="1143.9" cy="1227.4" r="2"/><circle cx="1159" cy="1234.3" r="2"/><circle cx="1174.2" cy="1227.4" r="2"/><circle cx="1189.4" cy="1227.7" r="2"/><circle cx="1583.5" cy="1233.1" r="2.5"/><circle cx="1598.7" cy="1233.2" r="2.5"/><circle cx="1613.8" cy="1233.4" r="2.5"/><circle cx="1629" cy="1232.7" r="2.5"/><circle cx="1644.2" cy="1232.6" r="2.5"/><circle cx="1659.3" cy="1229.3" r="2.5"/><circle cx="1674.5" cy="1238.2" r="2.5"/><circle cx="1689.6" cy="1236.5" r="2.5"/><circle cx="1704.8" cy="1234.3" r="2.5"/></g><g fill="#0000ff"><circle cx="1052.9" cy="1060.8" r="7"/><circle cx="1068.1" cy="1060.3" r="7"/><circle cx="1083.2" cy="1049.1" r="6"/><circle cx="1401.6" cy="1043.7" r="3"/><circle cx="1416.8" cy="1050.9" r="4.5"/><circle cx="1431.9" cy="1053.8" r="6"/><circle cx="1447.1" cy="1059.1" r="7"/><circle cx="1462.2" cy="1059.2" r="7.5"/><circle cx="1477.4" cy="1054.8" r="6.5"/><circle cx="1492.6" cy="1052.3" r="6.5"/><circle cx="1507.7" cy="1049.1" r="7"/><circle cx="1522.9" cy="1044.9" r="8"/><circle cx="1538" cy="1043.2" r="8.5"/><circle cx="1553.2" cy="1042.3" r="8.5"/><circle cx="1568.4" cy="1042.9" r="8.5"/><circle cx="1401.6" cy="1047.2" r="4"/><circle cx="1416.8" cy="1050.9" r="4"/><circle cx="1431.9" cy="1053.8" r="5.1"/><circle cx="1447.1" cy="1059.1" r="6.5"/><circle cx="1462.2" cy="1059.2" r="7"/><circle cx="1477.4" cy="1054.8" r="5"/><circle cx="1492.6" cy="1052.3" r="5.5"/><circle cx="1507.7" cy="1047.2" r="6"/><circle cx="1522.9" cy="1044.9" r="7.5"/><circle cx="1538" cy="1043.2" r="8.5"/><circle cx="1553.2" cy="1042.3" r="9"/><circle cx="1568.4" cy="1042.9" r="8.5"/><circle cx="946.8" cy="1116.3" r="6"/><circle cx="962" cy="1110.8" r="5"/><circle cx="977.1" cy="1104.3" r="4"/><circle cx="992.3" cy="1095.8" r="4"/><circle cx="1007.4" cy="1084.7" r="4"/><circle cx="1022.6" cy="1077" r="3.5"/><circle cx="1250" cy="1088.1" r="4"/><circle cx="1265.2" cy="1098.4" r="4"/><circle cx="1280.3" cy="1109.3" r="4"/><circle cx="1295.5" cy="1115.4" r="4.5"/><circle cx="1310.6" cy="1116.6" r="4.5"/><circle cx="1325.8" cy="1116.8" r="4.5"/><circle cx="1341" cy="1116.9" r="4"/><circle cx="1356.1" cy="1115" r="4"/><circle cx="1371.3" cy="1107.7" r="3.5"/><circle cx="1386.4" cy="1098.6" r="4"/><circle cx="1401.6" cy="1089.7" r="4.5"/><circle cx="1416.8" cy="1082.4" r="4"/><circle cx="1431.9" cy="1076.2" r="3.5"/><circle cx="1629" cy="1074.4" r="3.5"/><circle cx="1644.2" cy="1083.1" r="4"/><circle cx="1659.3" cy="1092.6" r="4.5"/><circle cx="1674.5" cy="1105.4" r="4.5"/><circle cx="1689.6" cy="1111.8" r="5.1"/><circle cx="1704.8" cy="1116.5" r="7"/><circle cx="946.8" cy="1269.9" r="3"/><circle cx="962" cy="1268.4" r="3"/><circle cx="977.1" cy="1266.8" r="3"/><circle cx="992.3" cy="1264.9" r="3"/><circle cx="1007.4" cy="1262.1" r="3"/><circle cx="1022.6" cy="1258.7" r="3"/><circle cx="1037.8" cy="1255.5" r="3"/><circle cx="1052.9" cy="1253" r="3"/><circle cx="1068.1" cy="1251.6" r="3.4"/><circle cx="1083.2" cy="1250.7" r="3.7"/><circle cx="1098.4" cy="1250" r="4"/><circle cx="1113.6" cy="1249.1" r="4.3"/><circle cx="1128.7" cy="1248.1" r="4.7"/><circle cx="1143.9" cy="1247" r="5"/><circle cx="1159" cy="1246.5" r="5"/><circle cx="1174.2" cy="1247.8" r="5"/><circle cx="1189.4" cy="1249.8" r="4.4"/><circle cx="1204.5" cy="1253.1" r="3.9"/><circle cx="1219.7" cy="1256.8" r="3.5"/><circle cx="1234.8" cy="1260.1" r="3"/><circle cx="1250" cy="1263.2" r="3"/><circle cx="1265.2" cy="1265.8" r="3"/><circle cx="1280.3" cy="1267.6" r="3"/><circle cx="1295.5" cy="1269.2" r="3"/><circle cx="1310.6" cy="1270.1" r="3"/><circle cx="1325.8" cy="1270.4" r="3"/><circle cx="1341" cy="1270.3" r="3"/><circle cx="1356.1" cy="1269.2" r="3"/><circle cx="1371.3" cy="1267.3" r="3"/><circle cx="1386.4" cy="1264.7" r="3"/><circle cx="1401.6" cy="1261.9" r="3"/><circle cx="1416.8" cy="1258.5" r="3"/><circle cx="1431.9" cy="1254.8" r="3"/><circle cx="1447.1" cy="1251.1" r="3"/><circle cx="1462.2" cy="1247.6" r="3.1"/><circle cx="1477.4" cy="1247.6" r="3.2"/><circle cx="1492.6" cy="1247.8" r="3.4"/><circle cx="1507.7" cy="1248.5" r="3.6"/><circle cx="1522.9" cy="1246.7" r="4.1"/><circle cx="1538" cy="1249.4" r="4.5"/><circle cx="1553.2" cy="1249.3" r="4.8"/><circle cx="1568.4" cy="1250.3" r="5"/><circle cx="1583.5" cy="1249.4" r="4.5"/><circle cx="1598.7" cy="1248" r="4.1"/><circle cx="1613.8" cy="1257.1" r="3.7"/><circle cx="1629" cy="1259.7" r="3.3"/><circle cx="1644.2" cy="1262.4" r="3"/><circle cx="1659.3" cy="1264.6" r="3.1"/><circle cx="1674.5" cy="1266.3" r="3.3"/><circle cx="1689.6" cy="1267.7" r="3.4"/><circle cx="1704.8" cy="1270.5" r="3.5"/></g><g fill="#ff0000"><circle cx="946.8" cy="875.7" r="7"/><circle cx="962" cy="877.4" r="6"/><circle cx="977.1" cy="878.4" r="4.4"/><circle cx="992.3" cy="877.2" r="2"/><circle cx="977.1" cy="890.3" r="3.1"/><circle cx="992.3" cy="894.7" r="5"/><circle cx="1007.4" cy="903.1" r="6"/><circle cx="1022.6" cy="912.3" r="7.1"/><circle cx="1037.8" cy="919.4" r="8"/><circle cx="1052.9" cy="921.9" r="8.5"/><circle cx="1068.1" cy="921.7" r="8.4"/><circle cx="1083.2" cy="921.2" r="7.4"/><circle cx="1098.4" cy="920.4" r="5.9"/><circle cx="1113.6" cy="923.8" r="4.1"/><circle cx="1128.7" cy="922.7" r="5"/><circle cx="1143.9" cy="922.4" r="6"/><circle cx="1159" cy="922.7" r="6.4"/><circle cx="1174.2" cy="924.7" r="4.8"/><circle cx="1189.4" cy="917.3" r="3.1"/><circle cx="1204.5" cy="913.6" r="4.1"/><circle cx="1219.7" cy="908.2" r="5"/><circle cx="1234.8" cy="901.6" r="5.5"/><circle cx="1250" cy="893.7" r="4.9"/><circle cx="1265.2" cy="889.2" r="4"/><circle cx="1265.2" cy="880" r="3"/><circle cx="1280.3" cy="878.6" r="5.6"/><circle cx="1295.5" cy="876.4" r="7"/><circle cx="1310.6" cy="875.3" r="7.3"/><circle cx="1325.8" cy="875.3" r="7.5"/><circle cx="1295.5" cy="876.4" r="7"/><circle cx="1310.6" cy="875.3" r="7"/><circle cx="1325.8" cy="875.3" r="7"/><circle cx="1341" cy="875.3" r="6.5"/><circle cx="1356.1" cy="877.3" r="5"/><circle cx="1371.3" cy="881.5" r="5.5"/><circle cx="1386.4" cy="889" r="6"/><circle cx="1401.6" cy="896.6" r="6.5"/><circle cx="1416.8" cy="907.3" r="7"/><circle cx="1431.9" cy="915.6" r="8"/><circle cx="1447.1" cy="921.7" r="8"/><circle cx="1462.2" cy="922" r="7.8"/><circle cx="1477.4" cy="922" r="7.7"/><circle cx="1492.6" cy="922" r="7.5"/><circle cx="1507.7" cy="920.4" r="7"/><circle cx="1522.9" cy="922" r="7"/><circle cx="1538" cy="922" r="7"/><circle cx="1553.2" cy="922" r="7"/><circle cx="1568.4" cy="921.8" r="7"/><circle cx="1583.5" cy="922" r="6.5"/><circle cx="1598.7" cy="913.6" r="5.5"/><circle cx="1613.8" cy="910" r="5.5"/><circle cx="1629" cy="904.1" r="6"/><circle cx="1644.2" cy="897.4" r="6.5"/><circle cx="1659.3" cy="890.1" r="6.5"/><circle cx="1674.5" cy="883.7" r="6"/><circle cx="1689.6" cy="879.1" r="5"/><circle cx="1704.8" cy="876" r="7.5"/><circle cx="946.8" cy="1058.9" r="4"/><circle cx="962" cy="1055.1" r="3.5"/><circle cx="977.1" cy="1046.3" r="3"/><circle cx="992.3" cy="1034.6" r="3"/><circle cx="1113.6" cy="1009.5" r="2.6"/><circle cx="1128.7" cy="1016.9" r="3.5"/><circle cx="1143.9" cy="1021.1" r="4"/><circle cx="1159" cy="1021.6" r="4"/><circle cx="1174.2" cy="1018.9" r="3.5"/><circle cx="1189.4" cy="1010.1" r="2.5"/><circle cx="1265.2" cy="1045.3" r="3.6"/><circle cx="1280.3" cy="1051.4" r="4"/><circle cx="1295.5" cy="1057.4" r="4.5"/><circle cx="1310.6" cy="1058.5" r="4.5"/><circle cx="1325.8" cy="1058.6" r="4.5"/><circle cx="1341" cy="1058.5" r="4.5"/><circle cx="1356.1" cy="1057.1" r="4"/><circle cx="1371.3" cy="1052.1" r="3.5"/><circle cx="1386.4" cy="1041.5" r="3"/><circle cx="1401.6" cy="1029.4" r="3"/><circle cx="1507.7" cy="1005.5" r="2"/><circle cx="1522.9" cy="1012" r="3.5"/><circle cx="1538" cy="1017.6" r="4"/><circle cx="1553.2" cy="1021.8" r="4.5"/><circle cx="1568.4" cy="1020.4" r="4.5"/><circle cx="1507.7" cy="1005.5" r="2"/><circle cx="1522.9" cy="1012" r="3"/><circle cx="1538" cy="1017.6" r="4"/><circle cx="1553.2" cy="1021.8" r="4.5"/><circle cx="1568.4" cy="1020.4" r="3.9"/><circle cx="1583.5" cy="1015.4" r="3"/><circle cx="1674.5" cy="1046.3" r="3"/><circle cx="1689.6" cy="1052.6" r="4.1"/><circle cx="1704.8" cy="1059" r="6"/><circle cx="946.8" cy="1290.3" r="4"/><circle cx="962" cy="1289.1" r="3.7"/><circle cx="977.1" cy="1288" r="3.5"/><circle cx="992.3" cy="1286.9" r="3.9"/><circle cx="1007.4" cy="1285.6" r="4.2"/><circle cx="1022.6" cy="1284.1" r="4.5"/><circle cx="1037.8" cy="1283" r="4.5"/><circle cx="1052.9" cy="1283.1" r="4.4"/><circle cx="1068.1" cy="1285.8" r="4"/><circle cx="1083.2" cy="1290.6" r="3.5"/><circle cx="1098.4" cy="1295.6" r="3.5"/><circle cx="1113.6" cy="1301.2" r="3.5"/><circle cx="1128.7" cy="1306.1" r="3.5"/><circle cx="1143.9" cy="1309.7" r="3.5"/><circle cx="1159" cy="1311.7" r="3.5"/><circle cx="1174.2" cy="1309.8" r="3.5"/><circle cx="1189.4" cy="1307.6" r="3.2"/><circle cx="1204.5" cy="1304.5" r="3"/><circle cx="1219.7" cy="1301.4" r="2.7"/><circle cx="1234.8" cy="1298.7" r="2.5"/><circle cx="946.8" cy="1290.3" r="3.5"/><circle cx="962" cy="1289.1" r="3.4"/><circle cx="977.1" cy="1288" r="3.4"/><circle cx="992.3" cy="1291.2" r="3.3"/><circle cx="1007.4" cy="1286.7" r="3.2"/><circle cx="1022.6" cy="1284.1" r="3.1"/><circle cx="1037.8" cy="1283" r="3.1"/><circle cx="1052.9" cy="1283.1" r="2.7"/><circle cx="1068.1" cy="1285.8" r="0.9"/><circle cx="1265.2" cy="1286.1" r="2.9"/><circle cx="1280.3" cy="1288.6" r="3.2"/><circle cx="1295.5" cy="1289.2" r="3.4"/><circle cx="1310.6" cy="1289.4" r="3.5"/><circle cx="1325.8" cy="1289.5" r="3.5"/><circle cx="1341" cy="1289.5" r="3.5"/><circle cx="1356.1" cy="1289.3" r="3.5"/><circle cx="1371.3" cy="1288.9" r="3.5"/><circle cx="1386.4" cy="1287.9" r="3.5"/><circle cx="1401.6" cy="1286.2" r="3.6"/><circle cx="1416.8" cy="1284.8" r="3.8"/><circle cx="1431.9" cy="1284.2" r="4"/><circle cx="1447.1" cy="1283.9" r="4.4"/><circle cx="1689.6" cy="1290.3" r="4.6"/><circle cx="1704.8" cy="1289.5" r="5"/></g><g fill="#00ff00"><circle cx="946.8" cy="934" r="5"/><circle cx="962" cy="932.4" r="5"/><circle cx="977.1" cy="931.2" r="6"/><circle cx="992.3" cy="930.9" r="7"/><circle cx="1007.4" cy="931.1" r="7.5"/><circle cx="1022.6" cy="931.6" r="8"/><circle cx="1037.8" cy="932.6" r="8.5"/><circle cx="1052.9" cy="933" r="8.5"/><circle cx="1068.1" cy="930.6" r="7.9"/><circle cx="1083.2" cy="928" r="6.9"/><circle cx="1098.4" cy="925.6" r="5.5"/><circle cx="1113.6" cy="923.8" r="4.6"/><circle cx="1128.7" cy="918.1" r="6.5"/><circle cx="1143.9" cy="917.5" r="7"/><circle cx="1159" cy="917.6" r="7"/><circle cx="1174.2" cy="918.9" r="6.3"/><circle cx="1189.4" cy="917.3" r="4.1"/><circle cx="1204.5" cy="931.9" r="5.1"/><circle cx="1219.7" cy="935.1" r="6.6"/><circle cx="1234.8" cy="935.4" r="7.5"/><circle cx="1250" cy="933.9" r="7"/><circle cx="1265.2" cy="933" r="6.5"/><circle cx="1280.3" cy="932.3" r="5.5"/><circle cx="1295.5" cy="932.6" r="4.5"/><circle cx="1310.6" cy="932.2" r="4"/><circle cx="1325.8" cy="930.8" r="5"/><circle cx="946.8" cy="922.9" r="3.5"/><circle cx="962" cy="921.2" r="3"/><circle cx="1295.5" cy="921.4" r="3"/><circle cx="1310.6" cy="921.6" r="3"/><circle cx="1295.5" cy="932.6" r="4"/><circle cx="1310.6" cy="932.2" r="4"/><circle cx="1325.8" cy="930.8" r="5"/><circle cx="1341" cy="929.7" r="6.5"/><circle cx="1356.1" cy="929.3" r="7.5"/><circle cx="1371.3" cy="929.5" r="7.5"/><circle cx="1386.4" cy="930" r="8"/><circle cx="1401.6" cy="930.4" r="8.2"/><circle cx="1416.8" cy="930.7" r="8.5"/><circle cx="1431.9" cy="931.1" r="8.5"/><circle cx="1447.1" cy="931.5" r="8.5"/><circle cx="1462.2" cy="930.5" r="8"/><circle cx="1477.4" cy="928.3" r="7.5"/><circle cx="1492.6" cy="924.6" r="7.5"/><circle cx="1507.7" cy="922" r="7.5"/><circle cx="1522.9" cy="917.5" r="7.5"/><circle cx="1538" cy="915.4" r="7.5"/><circle cx="1553.2" cy="914.6" r="7.5"/><circle cx="1568.4" cy="915.1" r="7.5"/><circle cx="1583.5" cy="915.5" r="6.4"/><circle cx="1598.7" cy="913.6" r="4.6"/><circle cx="1613.8" cy="928" r="6"/><circle cx="1629" cy="930.2" r="7.5"/><circle cx="1644.2" cy="930.7" r="7.5"/><circle cx="1659.3" cy="930.2" r="7.5"/><circle cx="1674.5" cy="929.7" r="7.5"/><circle cx="1689.6" cy="929.1" r="7.5"/><circle cx="1704.8" cy="929.4" r="8.5"/><circle cx="1295.5" cy="921.4" r="3"/><circle cx="1310.6" cy="921.6" r="3"/><circle cx="946.8" cy="1223.6" r="2.5"/><circle cx="962" cy="1224.3" r="2.5"/><circle cx="977.1" cy="1225" r="2.4"/><circle cx="992.3" cy="1225.4" r="2.4"/><circle cx="1007.4" cy="1225.4" r="2.4"/><circle cx="1022.6" cy="1222.8" r="2.4"/><circle cx="1037.8" cy="1223.6" r="2.3"/><circle cx="1052.9" cy="1223.5" r="2.3"/><circle cx="1068.1" cy="1224.3" r="2.3"/><circle cx="1083.2" cy="1223.9" r="2.2"/><circle cx="1098.4" cy="1222.8" r="2.2"/><circle cx="1113.6" cy="1221.1" r="2.2"/><circle cx="1128.7" cy="1227.7" r="2.2"/><circle cx="1143.9" cy="1227.4" r="2.1"/><circle cx="1159" cy="1227.3" r="2.1"/><circle cx="1174.2" cy="1227.4" r="2.1"/><circle cx="1189.4" cy="1227.7" r="2"/><circle cx="1204.5" cy="1222.1" r="2"/><circle cx="1219.7" cy="1225" r="2"/><circle cx="1234.8" cy="1226" r="2"/><circle cx="1250" cy="1226.2" r="2"/><circle cx="1265.2" cy="1225.7" r="2"/><circle cx="1280.3" cy="1223.5" r="2"/><circle cx="1295.5" cy="1224.3" r="2"/><circle cx="1310.6" cy="1223.8" r="2"/><circle cx="1325.8" cy="1223.5" r="2"/><circle cx="1341" cy="1223.5" r="2"/><circle cx="1356.1" cy="1223.9" r="2"/><circle cx="1371.3" cy="1224.4" r="2"/><circle cx="1386.4" cy="1225.6" r="2"/><circle cx="1401.6" cy="1220.1" r="2"/><circle cx="1416.8" cy="1220.8" r="2"/><circle cx="1431.9" cy="1221.6" r="2"/><circle cx="1447.1" cy="1222.4" r="2"/><circle cx="1462.2" cy="1222.8" r="2"/><circle cx="1477.4" cy="1222.9" r="2"/><circle cx="1492.6" cy="1223" r="2"/><circle cx="1507.7" cy="1223.1" r="2.1"/><circle cx="1522.9" cy="1223.3" r="2.2"/><circle cx="1538" cy="1223.4" r="2.2"/><circle cx="1553.2" cy="1223.6" r="2.3"/><circle cx="1568.4" cy="1223.8" r="2.4"/><circle cx="1583.5" cy="1224" r="2.5"/><circle cx="1598.7" cy="1224.4" r="2.5"/><circle cx="1613.8" cy="1224.5" r="2.6"/><circle cx="1629" cy="1224.5" r="2.7"/><circle cx="1644.2" cy="1224.4" r="2.7"/><circle cx="1659.3" cy="1224.2" r="2.8"/><circle cx="1674.5" cy="1224" r="2.9"/><circle cx="1689.6" cy="1223.8" r="2.9"/><circle cx="1704.8" cy="1223.9" r="3"/></g><g fill="none" stroke="#0000ff" stroke-width="2.4"><circle cx="946.8" cy="1037.7" r="5.3"/><circle cx="962" cy="1038.4" r="4.8"/><circle cx="977.1" cy="1041.4" r="4.8"/><circle cx="992.3" cy="1044.1" r="4.8"/><circle cx="1007.4" cy="1047.6" r="4.8"/><circle cx="1022.6" cy="1051.7" r="4.8"/><circle cx="1037.8" cy="1055.7" r="4.8"/><circle cx="1098.4" cy="1048" r="6.3"/><circle cx="1113.6" cy="1046.3" r="6.8"/><circle cx="1128.7" cy="1044.9" r="6.8"/><circle cx="1143.9" cy="1043.1" r="6.8"/><circle cx="1159" cy="1039.7" r="6.8"/><circle cx="1174.2" cy="1041.9" r="6.8"/><circle cx="1189.4" cy="1043.8" r="6.3"/><circle cx="1295.5" cy="1038.2" r="4.8"/><circle cx="1310.6" cy="1037.8" r="4.8"/><circle cx="1325.8" cy="1037.7" r="4.8"/><circle cx="1341" cy="1037.6" r="4.8"/><circle cx="1356.1" cy="1037.9" r="3.8"/><circle cx="1371.3" cy="1038.7" r="2.8"/><circle cx="1386.4" cy="1040.5" r="2.8"/><circle cx="1583.5" cy="1044.2" r="6.3"/><circle cx="1598.7" cy="1045.2" r="5.2"/><circle cx="1613.8" cy="1044.4" r="3.7"/><circle cx="1629" cy="1043.1" r="2.8"/><circle cx="1704.8" cy="1037.7" r="5.8"/></g></svg><svg x="946.8" y="833.8" width="758" height="501.7" viewBox="946.8 833.8 758 501.7" overflow="hidden"><path d="M946.5,835.8C947.9,835.6 952,835.5 954.8,834.9C957.6,834.2 961.8,832.5 963.2,832.1M946.5,851.5C950,851.2 960.2,851.4 967.8,849.7C975.4,848 984.5,844.3 991.9,841.3C999.3,838.4 1008.9,833.6 1012.3,832.1M946.5,856.2C951.6,857.1 967.3,860 977.1,861.7C986.8,863.4 995.6,865.1 1004.9,866.4C1014.1,867.6 1025,868.4 1032.7,869.1C1040.3,869.9 1047.8,870.7 1050.8,871M946.5,867.3C950,867 960.2,867.1 967.8,865.4C975.4,863.7 984.8,860.3 991.9,857.1C999,853.9 1005,850.1 1010.4,846C1015.8,841.8 1022,834.4 1024.3,832.1M946.5,875.6C952.2,876.1 969.5,878.9 980.8,878.4C992,877.9 1004.9,874.9 1014.1,872.9C1023.4,870.8 1030.3,867 1036.4,866.4C1042.5,865.7 1048.4,868.7 1050.8,869.1M946.5,889.5C950,889.5 961.2,889.1 967.8,889.5C974.4,890 980.2,890.3 986.3,892.3C992.5,894.3 998.7,898.2 1004.9,901.6C1011,905 1017.2,909.5 1023.4,912.7C1029.6,915.9 1037.4,919.5 1041.9,921C1046.5,922.6 1049.3,921.8 1050.8,922M1050.8,922C1057.1,921.8 1075.8,921.7 1088.3,921C1100.7,920.4 1114.1,918.9 1125.3,918.3C1136.5,917.6 1150.5,917.3 1155.6,917.1M946.5,896.9C950,896.6 959.6,896.5 967.8,895.1C976,893.7 986.3,891.2 995.6,888.6C1004.9,886 1014.2,882.1 1023.4,879.3C1032.6,876.6 1046.3,873.2 1050.8,871.9M946.5,922.9C950,922.4 961.2,921.8 967.8,920.1C974.4,918.4 980.2,915.8 986.3,912.7C992.5,909.6 998.7,905.9 1004.9,901.6C1011,897.3 1017.2,891.1 1023.4,886.7C1029.6,882.4 1037.4,878.1 1041.9,875.6C1046.5,873.2 1049.3,872.5 1050.8,871.9M946.5,934C951.6,933.5 965.8,931.7 977.1,931.2C988.3,930.8 1001.8,930.9 1014.1,931.2C1026.4,931.5 1041.6,933.2 1050.8,933.1C1060.1,932.9 1061.9,931.5 1069.7,930.3C1077.5,929.1 1088.3,926.9 1097.5,925.7C1106.8,924.4 1115.6,923.5 1125.3,922.9C1135,922.3 1150.5,922.4 1155.6,922.3M1050.8,871C1055.5,870.2 1069.7,868.4 1079,866.4C1088.3,864.4 1099.1,861.3 1106.8,859C1114.5,856.6 1119.1,854 1125.3,852.5C1131.5,850.9 1138.8,850.1 1143.9,849.7C1148.9,849.3 1153.6,849.9 1155.6,850M1050.8,871.9C1055.5,871.3 1069.7,869.8 1079,868.2C1088.3,866.7 1099.1,864.5 1106.8,862.7C1114.5,860.8 1117.2,858.3 1125.3,857.1C1133.5,855.9 1150.5,855.6 1155.6,855.3M1050.8,872.9C1055.5,872.2 1069.7,870.4 1079,869.1C1088.3,867.9 1097.5,866.8 1106.8,865.4C1116.1,864 1126.5,862.1 1134.6,860.8C1142.7,859.5 1152.1,858.2 1155.6,857.6M1302.7,836.5C1306.3,836.5 1316.5,836.5 1324.1,836.3C1331.7,836.2 1340.3,836.4 1348.2,835.8C1356.1,835.2 1367.5,833.2 1371.4,832.6M1302.7,850.9C1307.8,850.9 1325.8,850.5 1333.4,850.6C1341,850.7 1340.5,852.3 1348.2,851.5C1355.9,850.8 1369.8,848.1 1379.7,846C1389.6,843.8 1399.2,840.9 1407.5,838.6C1415.9,836.2 1426.1,833.2 1429.8,832.1M1302.7,867.6C1305.6,866.8 1315.3,865 1320.4,862.7C1325.5,860.3 1328.7,856.5 1333.4,853.4C1338.1,850.3 1345.9,845.7 1348.4,844.1M1348.4,844.1C1353.6,843.7 1369.9,842.6 1379.7,841.3C1389.6,840.1 1401,838.3 1407.5,836.7C1414,835.2 1416.8,832.9 1418.6,832.1M1302.7,856.7C1304.7,857.1 1309.7,857.3 1314.9,859C1320,860.6 1327.8,863.6 1333.4,866.4C1339,869.1 1345.9,874.1 1348.4,875.6M1302.7,875.4L1348.4,875.3M1348.4,875.3C1353.6,874.7 1368.3,873.3 1379.7,871.9C1391.1,870.6 1407.5,868.2 1416.8,867.3C1426.1,866.4 1429.2,866.3 1435.3,866.4C1441.4,866.4 1450.3,867.5 1453.4,867.8M1302.7,889.5C1306.3,889 1316.5,889.1 1324.1,886.7C1331.8,884.4 1344.4,877.5 1348.4,875.6M1302.7,897.6C1306.3,898.6 1316.5,900.6 1324.1,903.4C1331.8,906.3 1344.4,912.7 1348.4,914.5M1348.4,914.5C1352.1,913.9 1362.2,913.6 1370.5,910.8C1378.8,908.1 1389,902.5 1398.3,897.9C1407.5,893.2 1416.9,887.4 1426.1,883C1435.2,878.7 1448.8,873.8 1453.4,871.9M1302.7,922.3C1306.3,921.9 1316.5,921.4 1324.1,920.1C1331.8,918.8 1344.4,915.5 1348.4,914.5M1348.4,915.5C1353.6,914.2 1369.9,911.8 1379.7,908.1C1389.6,904.4 1398.3,898.2 1407.5,893.2C1416.8,888.3 1427.7,881.8 1435.3,878.4C1443,875 1450.3,873.8 1453.4,872.9M1348.4,875.6C1352.1,876.6 1363.7,878.7 1370.5,881.2C1377.2,883.7 1382.8,887.1 1389,890.5C1395.2,893.9 1401.3,897.9 1407.5,901.6C1413.7,905.3 1419.9,909.5 1426.1,912.7C1432.2,915.9 1440,919.5 1444.6,921C1449.1,922.6 1451.9,921.8 1453.4,922M1302.7,932.9C1310.3,932.3 1332.5,929.8 1348.4,929.4C1364.3,928.9 1380.8,929.9 1398.3,930.3C1415.7,930.7 1444.2,931.5 1453.4,931.7M1453.4,867.8C1458,867.4 1472.1,866.9 1481.4,865.4C1490.7,864 1499.9,860.8 1509.2,859C1518.5,857.1 1528.9,855.2 1537,854.3C1545.1,853.4 1550,853.4 1557.7,853.4C1565.5,853.4 1574.4,853.4 1583.3,854.3C1592.2,855.2 1601.9,856.9 1611.1,859C1620.4,861 1629.7,864.2 1638.9,866.4C1648.2,868.5 1655.8,870.4 1666.7,871.9C1677.7,873.5 1698.4,875 1704.7,875.6M1453.4,871.9C1458,871.6 1472.1,871.5 1481.4,870.1C1490.7,868.7 1499.9,865.7 1509.2,863.6C1518.5,861.4 1528.9,858.5 1537,857.1C1545.1,855.7 1550,855.2 1557.7,855.2C1565.5,855.2 1572.9,855.6 1583.3,857.1C1593.8,858.6 1608,862.2 1620.4,864.5C1632.7,866.8 1643.4,869.1 1657.5,871C1671.5,872.9 1696.8,874.9 1704.7,875.6M1453.4,872.9C1459.6,872.4 1478.3,871.8 1490.7,870.1C1503.1,868.4 1516.5,864.7 1527.7,862.7C1538.9,860.7 1548.5,858 1557.7,858C1567,858 1574.4,859.7 1583.3,862.7C1592.2,865.6 1601.9,870.7 1611.1,875.6C1620.4,880.6 1629.7,887.4 1638.9,892.3C1648.2,897.3 1659,901.9 1666.7,905.3C1674.4,908.7 1678.9,911 1685.2,912.7C1691.6,914.4 1701.5,915 1704.7,915.5M1557.7,855.2C1563.6,856.2 1582.1,858.6 1592.6,860.8C1603,863 1612.7,864.5 1620.4,868.2C1628.1,871.9 1632.7,877.8 1638.9,883C1645.1,888.3 1651.3,895.4 1657.5,899.7C1663.6,904 1668.1,906.5 1676,909C1683.9,911.5 1699.9,913.6 1704.7,914.5M1453.4,922C1462.7,922 1491.8,922 1509.2,922C1526.6,922 1545.4,922 1557.7,922C1570.1,922 1576,921.3 1583.3,922C1590.7,922.6 1594.1,924.3 1601.9,925.7C1609.6,927.1 1620.4,929.5 1629.7,930.3C1638.9,931.1 1644.9,930.6 1657.5,930.3C1670,930 1696.8,928.8 1704.7,928.4M1453.4,931.7C1458,931 1472.1,929.5 1481.4,927.5C1490.7,925.6 1499.9,922.1 1509.2,920.1C1518.5,918.1 1528.9,916.4 1537,915.5C1545.1,914.5 1550,914.5 1557.7,914.5C1565.5,914.5 1574.4,916.1 1583.3,915.5C1592.2,914.9 1601.9,913.5 1611.1,910.8C1620.4,908.2 1629.7,903.7 1638.9,899.7C1648.2,895.7 1659,890 1666.7,886.7C1674.4,883.5 1678.9,882.1 1685.2,880.3C1691.6,878.4 1701.5,876.4 1704.7,875.6M1617.6,832.1C1621.2,833.8 1630.7,839.3 1638.9,842.3C1647.1,845.2 1655.8,848 1666.7,849.7C1677.7,851.4 1698.4,852 1704.7,852.5M1652.8,832.1C1656.7,833.5 1667.3,838.4 1676,840.4C1684.6,842.4 1699.9,843.5 1704.7,844.1M1682.5,832.6L1704.7,836.7M946.5,1009.9C951.6,1009.3 965.8,1008.3 977.1,1006.2C988.3,1004 1001.8,999.7 1014.1,996.9C1026.4,994.1 1040,990.1 1050.8,989.5C1061.6,988.9 1069.7,990.4 1079,993.2C1088.3,996 1097.5,1001.9 1106.8,1006.2C1116.1,1010.5 1126.5,1016.5 1134.6,1019.2C1142.7,1021.8 1152,1021.5 1155.5,1022M946.5,1059C950,1057.9 959.6,1057 967.8,1052.5C976,1048 986.3,1038.9 995.6,1032.1C1004.9,1025.3 1014.2,1017 1023.4,1011.7C1032.6,1006.5 1041.6,1001.6 1050.8,1000.6C1060.1,999.7 1069.7,1002.8 1079,1006.2C1088.3,1009.6 1097.5,1016.7 1106.8,1021C1116.1,1025.3 1126.5,1029.9 1134.6,1032.1C1142.7,1034.4 1152,1034.2 1155.5,1034.7M946.5,1037.7C951.6,1038 965.8,1038.3 977.1,1039.5C988.3,1040.8 1001.8,1043.4 1014.1,1045.1C1026.4,1046.8 1038.5,1049.1 1050.8,1049.7C1063.2,1050.4 1075.8,1049.6 1088.3,1048.8C1100.7,1048 1114.1,1046 1125.3,1045.1C1136.5,1044.2 1150.5,1043.9 1155.5,1043.7M946.5,1038.6C951.6,1039.1 967.3,1040 977.1,1041.4C986.8,1042.8 995.6,1044.8 1004.9,1047C1014.1,1049.1 1025,1052.5 1032.7,1054.4C1040.3,1056.2 1043.1,1057.5 1050.8,1058.1C1058.5,1058.7 1069.7,1059.3 1079,1058.1C1088.3,1056.8 1097.5,1053 1106.8,1050.7C1116.1,1048.3 1126.5,1045.5 1134.6,1044.2C1142.7,1042.8 1152,1042.8 1155.5,1042.5M946.5,1064.6C954.7,1064.7 978.2,1066.1 995.6,1065.5C1013,1064.9 1032.3,1061.8 1050.8,1060.9C1069.4,1059.9 1089.3,1060.3 1106.8,1059.9C1124.2,1059.6 1147.4,1059 1155.5,1058.8M946.5,1065.5C954.7,1065.3 978.2,1065.6 995.6,1064.6C1013,1063.5 1032.3,1059.5 1050.8,1059C1069.4,1058.5 1089.3,1061.3 1106.8,1061.8C1124.2,1062.2 1147.4,1061.8 1155.5,1061.8M946.5,1116.5C950,1115.1 959.6,1112.3 967.8,1108.1C976,1103.9 986.3,1096.7 995.6,1091.4C1004.9,1086.2 1014.2,1080.5 1023.4,1076.6C1032.6,1072.7 1040,1070 1050.8,1068.3C1061.6,1066.5 1075.8,1067.1 1088.3,1066.2C1100.7,1065.4 1114.1,1064.2 1125.3,1063.3C1136.5,1062.3 1150.5,1061 1155.5,1060.5M946.5,1094.2C954.7,1094.5 978.2,1094.8 995.6,1096.1C1013,1097.3 1032.3,1100.2 1050.8,1101.6C1069.4,1103 1089.3,1103.6 1106.8,1104.4C1124.2,1105.2 1147.4,1106 1155.6,1106.3M1302.6,1009.3C1306.2,1008.9 1316.5,1007.9 1324.1,1007.1C1331.8,1006.3 1339.1,1005.6 1348.4,1004.3C1357.7,1003.1 1368.3,1001.9 1379.7,999.7C1391.1,997.5 1404.5,993.2 1416.8,991.4C1429.1,989.5 1447.3,989 1453.4,988.6M1302.6,1058.4C1310.2,1058.4 1337.1,1059.1 1348.4,1058.1C1359.7,1057.1 1363.7,1055.6 1370.5,1052.5C1377.2,1049.4 1382.8,1044.2 1389,1039.5C1395.2,1034.9 1401.3,1029.3 1407.5,1024.7C1413.7,1020.1 1418.4,1015.8 1426.1,1011.7C1433.7,1007.7 1448.8,1002.5 1453.4,1000.6M1302.6,1037.9C1310.2,1037.9 1335.6,1037.4 1348.4,1037.7C1361.3,1038 1369.9,1038.3 1379.7,1039.5C1389.6,1040.8 1398.3,1042.9 1407.5,1045.1C1416.8,1047.3 1427.7,1050.8 1435.3,1052.5C1443,1054.2 1450.3,1054.8 1453.4,1055.3M1302.6,1039.4C1310.2,1039.4 1335.6,1039.2 1348.4,1039.5C1361.3,1039.9 1369.9,1039.9 1379.7,1041.4C1389.6,1042.9 1398.3,1046.6 1407.5,1048.8C1416.8,1051 1427.7,1053.1 1435.3,1054.4C1443,1055.6 1450.3,1055.9 1453.4,1056.2M1302.6,1064.7C1310.2,1063.7 1332.5,1059.8 1348.4,1059C1364.3,1058.2 1380.8,1059.9 1398.3,1059.9C1415.7,1059.9 1444.2,1059.2 1453.4,1059M1348.4,1115.5C1352.1,1114.3 1362.2,1112.1 1370.5,1108.1C1378.8,1104.1 1389,1096.4 1398.3,1091.4C1407.5,1086.5 1416.9,1082.2 1426.1,1078.5C1435.2,1074.8 1448.8,1070.7 1453.4,1069.2M1302.6,1116.1L1324.1,1117.4M1302.6,1094.7C1310.2,1094.9 1332.5,1095.4 1348.4,1096.1C1364.4,1096.8 1380.8,1097.5 1398.3,1098.8C1415.7,1100.2 1444.2,1103.5 1453.4,1104.4M1453.4,988.6C1458,989.4 1472.1,990.3 1481.4,993.2C1490.7,996.1 1499.9,1002.2 1509.2,1006.2C1518.5,1010.2 1528.9,1014.7 1537,1017.3C1545.1,1019.9 1550,1022.2 1557.7,1021.9C1565.5,1021.6 1574.4,1019.3 1583.3,1015.4C1592.2,1011.6 1602.5,1002.8 1611.1,998.8C1619.8,994.8 1625.9,991.7 1635.2,991.4C1644.5,991 1655.1,994.6 1666.7,996.9C1678.3,999.2 1698.4,1003.9 1704.7,1005.3M1453.4,1000.6C1458,1001.6 1472.1,1003.1 1481.4,1006.2C1490.7,1009.3 1499.9,1015 1509.2,1019.2C1518.5,1023.3 1528.9,1028.6 1537,1031.2C1545.1,1033.8 1550,1034.8 1557.7,1034.9C1565.5,1035.1 1572.9,1032.4 1583.3,1032.1C1593.8,1031.8 1609.6,1032.4 1620.4,1033.1C1631.2,1033.7 1638.9,1033.5 1648.2,1035.8C1657.5,1038.2 1666.6,1043.1 1676,1047C1685.4,1050.8 1699.9,1057 1704.7,1059M1453.4,1055.3C1458,1054.8 1472.1,1053.9 1481.4,1052.5C1490.7,1051.1 1499.9,1048.5 1509.2,1047C1518.5,1045.4 1528.9,1044 1537,1043.2C1545.1,1042.5 1550,1042.2 1557.7,1042.3C1565.5,1042.5 1576,1043.7 1583.3,1044.2C1590.7,1044.6 1592.6,1045.4 1601.9,1045.1C1611.1,1044.8 1626.6,1043.2 1638.9,1042.3C1651.3,1041.4 1665,1040.3 1676,1039.5C1686.9,1038.8 1699.9,1038 1704.7,1037.7M1453.4,1056.2C1458,1055.9 1472.1,1055.6 1481.4,1054.4C1490.7,1053.1 1499.9,1050.4 1509.2,1048.8C1518.5,1047.3 1528.9,1045.9 1537,1045.1C1545.1,1044.3 1550,1043.9 1557.7,1044.2C1565.5,1044.5 1574.4,1045.4 1583.3,1047C1592.2,1048.5 1603.4,1052.5 1611.1,1053.4C1618.8,1054.4 1621.9,1054.1 1629.7,1052.5C1637.4,1051 1648.2,1046.5 1657.5,1044.2C1666.7,1041.9 1677.4,1039.7 1685.2,1038.6C1693.1,1037.5 1701.5,1037.8 1704.7,1037.7M1453.4,1059C1462.7,1059.2 1491.8,1059.9 1509.2,1059.9C1526.6,1059.9 1542.3,1059 1557.7,1059C1573.2,1059 1585.2,1059.8 1601.9,1059.9C1618.5,1060.1 1640.3,1060.1 1657.5,1059.9C1674.6,1059.8 1696.8,1059.2 1704.7,1059M1453.2,1061.8C1462.6,1061.6 1491.8,1060.9 1509.2,1060.9C1526.6,1060.9 1542.3,1061.3 1557.7,1061.8C1573.2,1062.2 1589.9,1061.5 1601.9,1063.6C1613.8,1065.8 1620.4,1070.1 1629.7,1074.8C1638.9,1079.4 1648.2,1085.9 1657.5,1091.4C1666.7,1097 1677.4,1103.9 1685.2,1108.1C1693.1,1112.3 1701.5,1115.1 1704.7,1116.5M1453.4,1069.2C1459.6,1068.6 1478.3,1066.7 1490.7,1065.5C1503.1,1064.3 1516.5,1062.6 1527.7,1061.8C1538.9,1061 1552.7,1061 1557.7,1060.9M1453.4,1104.4C1462.7,1104.3 1491.8,1103.2 1509.2,1103.5C1526.6,1103.8 1539.2,1106.1 1557.7,1106.3C1576.3,1106.4 1595.9,1106.1 1620.4,1104.4C1644.9,1102.7 1690.7,1097.5 1704.7,1096.1M946.5,1105C954.7,1104.9 978.2,1104.1 995.6,1104.1C1013,1104.1 1032.3,1104.7 1050.8,1105C1069.4,1105.3 1089.3,1105.6 1106.8,1105.9C1124.2,1106.2 1147.4,1106.7 1155.5,1106.9M946.5,1116.1C951.6,1115.5 965.8,1113.5 977.1,1112.4C988.3,1111.3 1001.8,1110.3 1014.1,1109.6C1026.4,1109 1035.4,1108.4 1050.8,1108.7C1066.3,1109 1089.3,1110.5 1106.8,1111.5C1124.2,1112.5 1147.4,1114 1155.6,1114.5M946.5,1118.9C954.7,1118.6 978.2,1116.9 995.6,1117.1C1013,1117.2 1032.3,1119.5 1050.8,1119.8C1069.4,1120.1 1089.3,1119.5 1106.8,1118.9C1124.2,1118.3 1147.4,1116.8 1155.6,1116.4M946.5,1119.8C951.6,1120.1 965.8,1120.8 977.1,1121.7C988.3,1122.6 1001.8,1124.2 1014.1,1125.4C1026.4,1126.6 1038.5,1127.6 1050.8,1129.1C1063.2,1130.6 1075.8,1132.5 1088.3,1134.7C1100.7,1136.8 1114.1,1140.2 1125.3,1142.1C1136.5,1144 1150.5,1145.4 1155.6,1146M946.5,1133.7C957.8,1134 996.7,1134.3 1014.1,1135.6C1031.5,1136.8 1038.5,1138.5 1050.8,1141.1C1063.2,1143.8 1075.8,1148.1 1088.3,1151.3C1100.7,1154.6 1114.1,1158.5 1125.3,1160.6C1136.5,1162.7 1150.5,1163.5 1155.6,1164.1M946.5,1139.3C951.6,1139.6 965.8,1140.2 977.1,1141.1C988.3,1142.1 1001.8,1144.4 1014.1,1144.9C1026.4,1145.3 1038.5,1143.3 1050.8,1143.9C1063.2,1144.5 1075.8,1145.5 1088.3,1148.6C1100.7,1151.6 1114.1,1158.5 1125.3,1162.5C1136.5,1166.4 1150.5,1170.4 1155.6,1172M946.5,1143.9C954.7,1144.5 978.2,1145.8 995.6,1147.6C1013,1149.5 1032.3,1153.8 1050.8,1155C1069.4,1156.3 1089.3,1153.8 1106.8,1155C1124.2,1156.3 1147.4,1161.5 1155.6,1162.7M946.5,1149.5C954.7,1149 978.2,1147.3 995.6,1146.7C1013,1146.1 1035.4,1145.6 1050.8,1145.8C1066.3,1145.9 1082,1147.3 1088.3,1147.6M946.5,1127.2C951.6,1127.9 965.8,1131 977.1,1131C988.3,1131 1001.8,1128.2 1014.1,1127.2C1026.4,1126.3 1035.4,1125.7 1050.8,1125.4C1066.3,1125.1 1089.3,1125.1 1106.8,1125.4C1124.2,1125.7 1147.4,1126.8 1155.6,1127M946.5,1149.5C950,1149.8 959.6,1147.9 967.8,1151.3C976,1154.7 986.3,1163.7 995.6,1169.9C1004.9,1176 1014.2,1183.2 1023.4,1188.4C1032.6,1193.7 1040,1199.5 1050.8,1201.4C1061.6,1203.2 1075.8,1200.8 1088.3,1199.5C1100.7,1198.3 1114.1,1195.8 1125.3,1194C1136.5,1192.1 1150.5,1189.2 1155.6,1188.3M946.5,1164.3C951.6,1165.5 965.8,1168.6 977.1,1171.7C988.3,1174.8 1001.8,1180.4 1014.1,1182.8C1026.4,1185.3 1038.5,1186.1 1050.8,1186.5C1063.2,1187 1075.8,1186.5 1088.3,1185.6C1100.7,1184.7 1114.1,1182.2 1125.3,1181C1136.5,1179.8 1150.5,1178.9 1155.6,1178.5M946.5,1178.2C963.9,1178.1 1027.2,1177.3 1050.8,1177.3C1074.5,1177.3 1075.8,1177.3 1088.3,1178.2C1100.7,1179.1 1114.1,1181.6 1125.3,1182.8C1136.5,1184.1 1150.5,1185.4 1155.6,1185.9M946.5,1199.5C954.7,1200 978.2,1201.5 995.6,1202.3C1013,1203.1 1035.4,1204.6 1050.8,1204.2C1066.3,1203.7 1075.8,1201.2 1088.3,1199.5C1100.7,1197.8 1114.1,1194.5 1125.3,1194C1136.5,1193.4 1150.5,1195.8 1155.6,1196.2M946.5,1218.1C954.7,1218.5 978.2,1219.9 995.6,1220.8C1013,1221.8 1035.4,1224.4 1050.8,1223.6C1066.3,1222.8 1075.8,1219 1088.3,1216.2C1100.7,1213.4 1114.1,1209.3 1125.3,1206.9C1136.5,1204.5 1150.5,1202.6 1155.6,1201.7M946.5,1223.6C954.7,1223.9 978.2,1225.3 995.6,1225.5C1013,1225.6 1035.4,1224.8 1050.8,1224.5C1066.3,1224.2 1075.8,1224.4 1088.3,1223.6C1100.7,1222.8 1114.1,1220.8 1125.3,1219.9C1136.5,1219 1150.5,1218.4 1155.5,1218.1M946.5,1232.9C954.7,1233 978.2,1233.8 995.6,1233.8C1013,1233.8 1036.9,1232.7 1050.8,1232.9C1064.7,1233 1069.7,1232.9 1079,1234.7C1088.3,1236.6 1094,1241.6 1106.8,1244C1119.6,1246.4 1147.4,1248.2 1155.6,1249M946.5,1234.7C954.7,1235.7 978.2,1238.4 995.6,1240.3C1013,1242.1 1036.9,1246.2 1050.8,1245.9C1064.7,1245.5 1069.7,1241.2 1079,1238.4C1088.3,1235.7 1094,1231 1106.8,1229.2C1119.6,1227.3 1147.4,1227.5 1155.6,1227.2M946.5,1269.9C954.7,1269 978.2,1267.2 995.6,1264.4C1013,1261.6 1032.3,1255.7 1050.8,1253.3C1069.4,1250.8 1089.3,1250.7 1106.8,1249.6C1124.2,1248.4 1147.4,1246.8 1155.6,1246.2M946.5,1301.4C954.7,1299.6 978.2,1295 995.6,1290.3C1013,1285.7 1032.3,1276.3 1050.8,1273.6C1069.4,1271 1089.3,1274 1106.8,1274.6C1124.2,1275.2 1147.4,1276.9 1155.6,1277.3M946.5,1290.3C954.7,1289.7 978.2,1287.9 995.6,1286.6C1013,1285.4 1035.4,1282 1050.8,1282.9C1066.3,1283.8 1075.8,1288.5 1088.3,1292.2C1100.7,1295.9 1114.1,1301.8 1125.3,1305.2C1136.5,1308.5 1150.5,1311 1155.6,1312.1M1302.6,1105.2C1310.2,1105.7 1332.5,1107.5 1348.4,1107.8C1364.4,1108.1 1380.8,1107.2 1398.3,1106.9C1415.7,1106.5 1444.2,1105.7 1453.4,1105.5M1302.6,1115.9C1310.2,1115.8 1332.5,1115.6 1348.4,1115.2C1364.4,1114.8 1380.8,1113.9 1398.3,1113.3C1415.7,1112.8 1444.2,1112.2 1453.4,1112M1302.6,1116.8C1310.2,1116.9 1332.5,1116.6 1348.4,1117.1C1364.4,1117.6 1380.8,1119.3 1398.3,1119.8C1415.7,1120.4 1444.2,1120.2 1453.4,1120.3M1302.6,1121C1310.2,1122 1332.5,1125.4 1348.4,1127.2C1364.4,1129.1 1380.8,1131.2 1398.3,1131.9C1415.7,1132.6 1444.2,1131.5 1453.4,1131.4M1302.6,1134C1310.2,1133.8 1332.5,1132.4 1348.4,1132.8C1364.4,1133.2 1380.8,1134.9 1398.3,1136.5C1415.7,1138.1 1444.2,1141.5 1453.4,1142.5M1302.6,1141.9C1310.2,1141.9 1332.5,1141.6 1348.4,1142.1C1364.4,1142.6 1380.8,1143.5 1398.3,1144.9C1415.7,1146.2 1444.2,1149.1 1453.4,1149.9M1302.6,1149.3C1310.2,1149.5 1337.1,1149.9 1348.4,1150.4C1359.7,1150.9 1362.2,1149.3 1370.5,1152.3C1378.8,1155.2 1389,1162 1398.3,1168C1407.5,1174 1416.9,1182.6 1426.1,1188.4C1435.2,1194.2 1448.8,1200.4 1453.4,1202.8M1302.6,1164.1C1310.2,1164 1337.1,1163.2 1348.4,1163.4C1359.7,1163.6 1362.2,1163.5 1370.5,1165.2C1378.8,1166.9 1387.4,1170.6 1398.3,1173.6C1409.1,1176.5 1426.1,1180.5 1435.3,1182.8C1444.5,1185.2 1450.3,1186.7 1453.4,1187.5M1302.6,1177.9L1453.4,1177.3M1302.6,1198C1310.2,1197.3 1332.5,1193.7 1348.4,1194C1364.4,1194.2 1383.8,1197.4 1398.3,1199.5C1412.7,1201.7 1426.1,1205.5 1435.3,1206.9C1444.5,1208.3 1450.3,1207.7 1453.4,1207.9M1302.6,1218.9C1310.2,1218.7 1332.5,1217.9 1348.4,1218.1C1364.4,1218.2 1380.8,1219.1 1398.3,1219.9C1415.7,1220.7 1444.2,1222.2 1453.4,1222.7M1302.6,1224C1310.2,1223.9 1332.5,1223.1 1348.4,1223.6C1364.4,1224.2 1383.8,1224.4 1398.3,1227.3C1412.7,1230.3 1426.1,1238 1435.3,1241.2C1444.5,1244.5 1450.5,1245.9 1453.5,1246.8M1302.6,1234.2C1310.2,1234.3 1332.5,1234.3 1348.4,1234.7C1364.4,1235.1 1380.8,1236.8 1398.3,1236.6C1415.7,1236.4 1444.2,1233.9 1453.4,1233.3M1302.4,1235.7C1310.1,1235.8 1332.4,1235.5 1348.4,1236.6C1364.4,1237.7 1380.8,1240.3 1398.3,1242.1C1415.7,1244 1444.2,1246.8 1453.4,1247.7M1302.6,1269.9C1310.2,1269.9 1332.5,1271.2 1348.4,1269.9C1364.4,1268.7 1380.8,1265.9 1398.3,1262.5C1415.7,1259.1 1444.2,1251.7 1453.4,1249.6M1302.6,1289.4C1310.2,1289.4 1335.5,1289.6 1348.4,1289.4C1361.3,1289.3 1368.3,1289.2 1379.7,1288.5C1391.1,1287.7 1404.5,1285.5 1416.8,1284.8C1429.1,1284 1446.1,1284 1453.5,1283.8C1460.9,1283.7 1460,1283.8 1461.3,1283.8M1302.6,1301C1310.2,1301.1 1335.5,1302.6 1348.4,1301.4C1361.3,1300.3 1369.9,1297.1 1379.7,1294C1389.6,1290.9 1398.3,1286.2 1407.5,1282.9C1416.8,1279.7 1427.7,1276.3 1435.3,1274.6C1443,1272.9 1444.2,1273 1453.5,1272.7C1462.8,1272.4 1480,1272.6 1490.9,1272.7C1501.8,1272.9 1514.1,1273.5 1518.7,1273.6M1453.4,1105.5C1462.7,1105.5 1491.8,1105.5 1509.2,1105.9C1526.6,1106.3 1539.2,1107.9 1557.7,1107.8C1576.3,1107.6 1595.9,1105.3 1620.4,1105C1644.9,1104.7 1690.7,1105.8 1704.7,1105.9M1453.4,1112C1462.7,1112.2 1491.8,1112.8 1509.2,1113.3C1526.6,1113.9 1539.2,1115.2 1557.7,1115.2C1576.3,1115.2 1595.9,1114 1620.4,1113.3C1644.9,1112.7 1690.7,1111.8 1704.7,1111.5M1453.4,1120.3C1462.7,1120.5 1491.8,1120.8 1509.2,1121.7C1526.6,1122.5 1539.2,1125.1 1557.7,1125.4C1576.3,1125.7 1595.9,1124.5 1620.4,1123.5C1644.9,1122.6 1690.7,1120.4 1704.7,1119.8M1453.4,1131.4C1462.7,1132.6 1491.8,1136 1509.2,1138.4C1526.6,1140.8 1542.3,1145.2 1557.7,1145.8C1573.2,1146.4 1585.2,1144.2 1601.9,1142.1C1618.5,1139.9 1640.3,1134.7 1657.5,1132.8C1674.6,1131 1696.8,1131.3 1704.7,1131M1453.4,1142.5C1462.7,1144.3 1491.8,1150 1509.2,1153.2C1526.6,1156.4 1542.3,1160.9 1557.7,1161.5C1573.2,1162.1 1585.2,1159.5 1601.9,1156.9C1618.5,1154.3 1640.3,1148.4 1657.5,1145.8C1674.6,1143.2 1696.8,1141.9 1704.7,1141.1M1453.2,1147.6C1459.5,1147.9 1478.2,1147.3 1490.7,1149.5C1503.1,1151.6 1516.5,1157.1 1527.7,1160.6C1538.9,1164.2 1545.4,1170.5 1557.7,1170.8C1570.1,1171.1 1585.2,1165.7 1601.9,1162.5C1618.5,1159.2 1640.3,1154.3 1657.5,1151.3C1674.6,1148.4 1696.8,1145.9 1704.7,1144.9M1453.4,1149.9C1459.6,1150.8 1478.3,1152.3 1490.7,1155C1503.1,1157.7 1516.5,1163.2 1527.7,1166.2C1538.9,1169.1 1546.9,1172.3 1557.7,1172.6C1568.6,1173 1579.1,1171 1592.6,1168C1606.1,1165.1 1620.2,1158.1 1638.9,1155C1657.6,1152 1693.7,1150.4 1704.7,1149.5M1453.4,1177.3L1704.7,1177.3M1453.4,1202.8C1459.6,1202.5 1473.3,1203.8 1490.7,1201.4C1508.1,1199 1542.3,1190.9 1557.7,1188.4C1573.2,1185.9 1572.9,1187.8 1583.3,1186.5C1593.8,1185.3 1608,1183.5 1620.4,1181C1632.7,1178.5 1643.4,1174.7 1657.5,1171.7C1671.5,1168.8 1696.8,1164.8 1704.7,1163.4M1453.4,1187.5C1462.7,1187 1491.8,1185.5 1509.2,1184.7C1526.6,1183.9 1542.3,1182.2 1557.7,1182.8C1573.2,1183.5 1589.9,1187.8 1601.9,1188.4C1613.8,1189 1620.4,1187.8 1629.7,1186.5C1638.9,1185.3 1644.9,1182.5 1657.5,1181C1670,1179.4 1696.8,1177.9 1704.7,1177.3M1453.4,1207.9C1459.6,1207.4 1478.3,1206.8 1490.7,1205.1C1503.1,1203.4 1516.5,1199.5 1527.7,1197.7C1538.9,1195.8 1548.5,1194.3 1557.7,1194C1567,1193.7 1569.8,1194.9 1583.3,1195.8C1596.9,1196.7 1618.7,1199.8 1638.9,1199.5C1659.2,1199.2 1693.7,1194.9 1704.7,1194M1453.4,1249.6C1459.6,1246.2 1479.8,1235.3 1490.7,1229.2C1501.5,1223 1509.2,1216.8 1518.5,1212.5C1527.7,1208.2 1539.7,1205.1 1546.3,1203.2C1552.8,1201.4 1551.6,1200.4 1557.7,1201.4C1563.9,1202.3 1574.4,1205.1 1583.3,1208.8C1592.2,1212.5 1603.4,1219.6 1611.1,1223.6C1618.8,1227.6 1623.5,1231.5 1629.7,1232.9C1635.8,1234.3 1640.5,1233.2 1648.2,1232C1655.9,1230.7 1666.6,1226.9 1676,1225.5C1685.4,1224.1 1699.9,1223.9 1704.7,1223.6M1453.4,1222.7C1470.8,1222.8 1529.9,1223.3 1557.7,1223.6C1585.6,1223.9 1595.9,1224.5 1620.4,1224.5C1644.9,1224.5 1690.7,1223.8 1704.7,1223.6M1453.4,1233.3C1459.6,1234.2 1478.3,1236 1490.7,1238.4C1503.1,1240.8 1516.5,1245.7 1527.7,1247.7C1538.9,1249.7 1545.4,1250.5 1557.7,1250.5C1570.1,1250.5 1585.2,1249.4 1601.9,1247.7C1618.5,1246 1640.3,1242.5 1657.5,1240.3C1674.6,1238.1 1696.8,1235.7 1704.7,1234.7M1453.4,1247.7C1459.6,1247.7 1478.3,1247.4 1490.7,1247.7C1503.1,1248 1516.5,1249.2 1527.7,1249.6C1538.9,1249.9 1545.4,1248.6 1557.7,1249.6C1570.1,1250.5 1585.2,1252.6 1601.9,1255.1C1618.5,1257.6 1640.3,1262.1 1657.5,1264.4C1674.6,1266.7 1696.8,1268.2 1704.7,1269M1453.2,1273.6C1462.6,1273.6 1493.7,1273.5 1509.2,1273.6C1524.7,1273.8 1540.1,1274.4 1546.3,1274.6M1453.2,1283.8L1461,1283.8M1676,1290.3L1704.7,1290.3M1676,1300L1704.7,1300.5M1226.5,834C1229.3,835.8 1237.3,841.1 1243.2,845.2C1249.1,849.2 1255.7,854.8 1261.9,858.2C1268.1,861.6 1273.7,864.1 1280.5,865.7C1287.3,867.2 1299,867.3 1302.7,867.6M1240.4,834C1244,835.7 1254.4,841.5 1261.9,844.2C1269.3,846.9 1278.4,849.2 1285.2,850.3C1292,851.4 1299.8,850.8 1302.7,850.9M1285.2,834L1302.7,836.5M1155.6,850C1159.3,850.6 1169.6,852.2 1178,853.5C1186.4,854.9 1196.6,857.1 1205.9,858.2C1215.3,859.3 1224.6,859.9 1233.9,860.1C1243.2,860.2 1253.3,859.6 1261.9,859.1C1270.4,858.7 1278.4,857.7 1285.2,857.3C1292,856.9 1299.8,856.8 1302.7,856.7M1155.6,856.3C1159.3,856.5 1171.1,856.5 1178,857.3C1184.8,858 1188.9,858.8 1196.6,861C1204.4,863.2 1216.8,867.8 1224.6,870.3C1232.4,872.8 1236.2,874.3 1243.2,875.9C1250.2,877.6 1259.6,879.8 1266.6,880.1C1273.5,880.4 1279.2,878.6 1285.2,877.8C1291.2,877 1299.8,875.8 1302.7,875.4M1155.6,855.3C1160.9,856.4 1177.3,859 1187.3,861.9C1197.2,864.9 1207.5,869.9 1215.3,873.1C1223,876.4 1227.7,878.7 1233.9,881.5C1240.1,884.3 1246.3,887.7 1252.6,889.9C1258.8,892.1 1262.9,893.3 1271.2,894.6C1279.6,895.9 1297.4,897.1 1302.7,897.6M1155.6,857.6C1160.9,858.8 1177.3,862 1187.3,864.7C1197.2,867.5 1207.5,870.6 1215.3,874.1C1223,877.5 1228.5,881.2 1233.9,885.2C1239.4,889.3 1243.2,894.3 1247.9,898.3C1252.6,902.3 1256.4,906.1 1261.9,909.5C1267.3,912.9 1273.7,916.7 1280.5,918.8C1287.3,920.9 1299,921.7 1302.7,922.3M1155.6,917.1C1159.3,917.4 1169.6,919.5 1178,918.8C1186.4,918.2 1196.6,916 1205.9,913.2C1215.3,910.4 1226.1,905.4 1233.9,902C1241.7,898.6 1246.3,895 1252.6,892.7C1258.8,890.4 1262.9,889 1271.2,888.5C1279.6,888 1297.4,889.3 1302.7,889.5M1155.6,922.3C1159.3,922.8 1171.1,924 1178,925.3C1184.8,926.6 1188.9,928.3 1196.6,930C1204.4,931.7 1215.3,935 1224.6,935.6C1233.9,936.2 1243.2,934.3 1252.6,933.7C1261.9,933.2 1272.2,932.5 1280.5,932.3C1288.9,932.2 1299,932.8 1302.7,932.9M1155.5,1022C1158.5,1021.5 1167.5,1021.4 1173.4,1019.2C1179.4,1017.1 1184.9,1012.5 1191.4,1008.9C1197.8,1005.3 1205.8,1000.3 1212,997.9C1218.2,995.5 1222.8,994.4 1228.6,994.4C1234.3,994.4 1240.1,996.2 1246.5,997.9C1252.9,999.6 1260.3,1002.9 1267.2,1004.8C1274.1,1006.6 1282,1008.2 1287.9,1008.9C1293.8,1009.7 1300.2,1009.2 1302.6,1009.3M1155.5,1034.7C1161.5,1034.2 1179.6,1031.8 1191.4,1031.7C1203.1,1031.5 1215.5,1032.5 1225.8,1033.7C1236.2,1035 1240.6,1038.7 1253.4,1039.2C1266.2,1039.8 1294.5,1037.5 1302.8,1037.2M1155.5,1039.2C1163.8,1040.2 1187.7,1044.6 1205.1,1044.8C1222.6,1044.9 1244.1,1041.1 1260.3,1039.9C1276.5,1038.8 1295.6,1038.2 1302.6,1037.9M1155.5,1042.5C1160.3,1043.3 1175,1045.6 1184.5,1047.5C1193.9,1049.4 1204,1052.9 1212,1053.7C1220.1,1054.5 1224.7,1053.6 1232.7,1052.3C1240.8,1051.1 1248.7,1048.3 1260.3,1046.1C1271.9,1044 1295.6,1040.5 1302.6,1039.4M1155.5,1043.7C1163.8,1044.1 1191.1,1046.9 1205.1,1046.1C1219.2,1045.4 1230.4,1039.8 1239.6,1039.2C1248.8,1038.7 1253.4,1040.6 1260.3,1042.7C1267.2,1044.8 1275.2,1049.2 1281,1051.6C1286.7,1054.1 1291.2,1056 1294.8,1057.2C1298.4,1058.3 1301.3,1058.2 1302.6,1058.4M1155.5,1058.8C1159.2,1059 1169.3,1059.8 1177.6,1059.9C1185.8,1060 1196,1058.8 1205.1,1059.2C1214.3,1059.7 1223.5,1061.8 1232.7,1062.7C1241.9,1063.6 1248.7,1064.4 1260.3,1064.7C1271.9,1065.1 1295.6,1064.7 1302.6,1064.7M1155.5,1060.5C1161.5,1061 1181.9,1062.1 1191.4,1063.4C1200.8,1064.6 1205.1,1065.8 1212,1068.2C1218.9,1070.6 1225.8,1074.2 1232.7,1077.8C1239.6,1081.5 1246.5,1085.9 1253.4,1090.3C1260.3,1094.6 1267.2,1099.9 1274.1,1104C1281,1108.2 1290,1112.8 1294.8,1115.1C1299.5,1117.4 1301.4,1117.4 1302.8,1117.8M1155.6,1106.3C1163.9,1106.2 1191.2,1106.2 1205.7,1105.5C1220.3,1104.7 1230.5,1103.3 1242.9,1101.7C1255.3,1100.2 1270.1,1097.3 1280,1096.2C1290,1095 1298.8,1095 1302.6,1094.7M1155.6,1114.5C1162.4,1114.7 1183.4,1115.8 1196.4,1115.7C1209.4,1115.6 1222.8,1114.9 1233.6,1113.8C1244.4,1112.7 1253.7,1110.6 1261.5,1109.2C1269.2,1107.8 1273.2,1106.1 1280,1105.5C1286.9,1104.8 1298.8,1105.3 1302.6,1105.2M1233.6,1082.2C1236.4,1083.3 1245.1,1085.9 1250.3,1088.7C1255.6,1091.5 1260.2,1095.5 1265.2,1098.9C1270.1,1102.4 1275.1,1106.4 1280,1109.2C1285,1112 1291.1,1114.5 1294.9,1115.7C1298.7,1116.8 1301.3,1115.9 1302.6,1115.9M1155.6,1116.4C1162.4,1116.2 1181.9,1115.6 1196.4,1115.7C1211,1115.7 1229,1116.4 1242.9,1116.6C1256.8,1116.8 1270.1,1116.6 1280,1116.6C1290,1116.6 1298.8,1116.8 1302.6,1116.8M1155.6,1127C1163.9,1126.7 1192.7,1124.8 1205.7,1125C1218.7,1125.1 1225.9,1126.3 1233.6,1127.7C1241.3,1129.1 1246,1131.5 1252.2,1133.3C1258.4,1135.2 1264.6,1137 1270.8,1138.9C1276.9,1140.7 1284,1142.7 1289.3,1144.5C1294.6,1146.2 1300.4,1148.5 1302.6,1149.3M1155.6,1146C1163.9,1145.2 1191.2,1143.5 1205.7,1140.7C1220.3,1138 1232,1133 1242.9,1129.6C1253.7,1126.2 1260.8,1122.6 1270.8,1120.3C1280.7,1118.1 1297.3,1116.8 1302.6,1116.1M1155.6,1147.2C1162.4,1147.1 1183.4,1147.7 1196.4,1146.3C1209.4,1144.9 1222.8,1140.7 1233.6,1138.9C1244.4,1137 1250,1136 1261.5,1135.2C1273,1134.4 1295.7,1134.2 1302.6,1134M1155.6,1162.7C1160.8,1162.2 1177.2,1162.1 1187.2,1159.3C1197.1,1156.6 1207.3,1150.3 1215,1146.3C1222.8,1142.3 1227.4,1138.3 1233.6,1135.2C1239.8,1132.1 1246,1130.1 1252.2,1127.7C1258.4,1125.4 1262.4,1122.4 1270.8,1121.2C1279.2,1120.1 1297.3,1121 1302.6,1121M1155.6,1164.1C1162.4,1163 1181.9,1159 1196.4,1157.5C1211,1155.9 1229,1155.9 1242.9,1154.7C1256.8,1153.4 1270.1,1152.2 1280,1150C1290,1147.9 1298.8,1143.2 1302.6,1141.9M1155.6,1172C1163.9,1170.8 1192.7,1166.7 1205.7,1164.9C1218.7,1163.1 1224.3,1163 1233.6,1161.2C1242.9,1159.3 1253.7,1156.5 1261.5,1153.8C1269.2,1151 1273.2,1146.9 1280,1144.5C1286.9,1142 1298.9,1139.8 1302.7,1138.9M1155.6,1178.5L1302.6,1177.9M1155.6,1185.9C1160.8,1186.8 1172.6,1188.2 1187.2,1190.9C1201.7,1193.6 1223.6,1200.9 1242.9,1202.1C1262.1,1203.2 1292.6,1198.7 1302.6,1198M1155.6,1188.3C1160.8,1187.6 1174.1,1185.8 1187.2,1184.4C1200.2,1183 1219.7,1182.1 1233.6,1179.8C1247.5,1177.4 1259.3,1173.1 1270.8,1170.5C1282.2,1167.9 1297.3,1165.2 1302.6,1164.1M1155.6,1196.2C1160.8,1198.1 1172.6,1204.2 1187.2,1207.6C1201.7,1211.1 1223.6,1214.9 1242.9,1216.9C1262.1,1218.9 1292.7,1219.2 1302.7,1219.7M1155.6,1201.7C1159.3,1203 1169.5,1206 1177.9,1209.5C1186.2,1212.9 1194.9,1219.7 1205.7,1222.5C1216.6,1225.3 1226.7,1226 1242.9,1226.2C1259,1226.4 1292.6,1224.3 1302.6,1224M1155.6,1227.2C1162.4,1227.4 1185,1227.1 1196.4,1228.1C1207.9,1229 1217.5,1231.5 1224.3,1232.7C1231.1,1233.9 1231.1,1236 1237.3,1235.5C1243.5,1235 1252.8,1232.4 1261.5,1229.9C1270.1,1227.4 1282.5,1222.5 1289.3,1220.6C1296.2,1218.8 1300.4,1219.2 1302.6,1218.9M1155.6,1249C1160.8,1248.9 1175.7,1249.5 1187.2,1248.5C1198.6,1247.5 1211.9,1244.8 1224.3,1242.9C1236.7,1241.1 1248.4,1238.8 1261.5,1237.3C1274.5,1235.9 1295.7,1234.7 1302.6,1234.2M1155.6,1246.2C1160.8,1246.8 1175.7,1247.5 1187.2,1249.4C1198.6,1251.3 1211.9,1255.1 1224.3,1257.8C1236.7,1260.4 1248.4,1263.2 1261.5,1265.2C1274.5,1267.2 1295.7,1269.1 1302.6,1269.9M1155.6,1277.3C1160.8,1277 1176.3,1276.2 1187.2,1275.4C1198,1274.6 1211.3,1272.2 1220.6,1272.6C1229.9,1273.1 1234.5,1275.7 1242.9,1278.2C1251.2,1280.7 1260.8,1285.6 1270.8,1287.5C1280.7,1289.4 1297.3,1289.1 1302.6,1289.4M1155.6,1312.1C1160.8,1311.4 1175.7,1309.9 1187.2,1307.9C1198.6,1306 1213.5,1302.4 1224.3,1300.5C1235.1,1298.7 1242.9,1297.1 1252.2,1296.8C1261.5,1296.5 1271.6,1298 1280,1298.7C1288.4,1299.3 1298.8,1300.6 1302.6,1301" fill="none" stroke="#000" stroke-width="3.1" stroke-linecap="round" stroke-linejoin="round"/></svg><rect x="1451" y="1274" width="231" height="60" fill="#fff"/><text class="t" transform="translate(1483.7,1311.1) scale(1.2536,1)">(d) RP-Ru</text><rect x="946.8" y="833.8" width="758" height="501.7" fill="none" stroke="#111" stroke-width="1.3"/><line x1="946.8" y1="1335.5" x2="953.8" y2="1335.5" stroke="#000" stroke-width="1.2"/><line x1="1697.8" y1="1335.5" x2="1704.8" y2="1335.5" stroke="#000" stroke-width="1.2"/><text class="t" transform="translate(921.9,1346.8) scale(1.05,1)">8</text><text class="t" transform="translate(893.2,1349.7) scale(1.375,1)">−</text><line x1="946.8" y1="1263.8" x2="953.8" y2="1263.8" stroke="#000" stroke-width="1.2"/><line x1="1697.8" y1="1263.8" x2="1704.8" y2="1263.8" stroke="#000" stroke-width="1.2"/><text class="t" transform="translate(921.9,1275.1) scale(1.05,1)">6</text><text class="t" transform="translate(893.2,1278) scale(1.375,1)">−</text><line x1="946.8" y1="1192.2" x2="953.8" y2="1192.2" stroke="#000" stroke-width="1.2"/><line x1="1697.8" y1="1192.2" x2="1704.8" y2="1192.2" stroke="#000" stroke-width="1.2"/><text class="t" transform="translate(921.9,1203.5) scale(1.05,1)">4</text><text class="t" transform="translate(893.2,1206.4) scale(1.375,1)">−</text><line x1="946.8" y1="1120.5" x2="953.8" y2="1120.5" stroke="#000" stroke-width="1.2"/><line x1="1697.8" y1="1120.5" x2="1704.8" y2="1120.5" stroke="#000" stroke-width="1.2"/><text class="t" transform="translate(921.9,1131.8) scale(1.05,1)">2</text><text class="t" transform="translate(893.2,1134.7) scale(1.375,1)">−</text><line x1="946.8" y1="1048.8" x2="953.8" y2="1048.8" stroke="#000" stroke-width="1.2"/><line x1="1697.8" y1="1048.8" x2="1704.8" y2="1048.8" stroke="#000" stroke-width="1.2"/><text class="t" transform="translate(921.9,1060.1) scale(1.05,1)">0</text><line x1="946.8" y1="977.1" x2="953.8" y2="977.1" stroke="#000" stroke-width="1.2"/><line x1="1697.8" y1="977.1" x2="1704.8" y2="977.1" stroke="#000" stroke-width="1.2"/><text class="t" transform="translate(921.9,988.4) scale(1.05,1)">2</text><line x1="946.8" y1="905.5" x2="953.8" y2="905.5" stroke="#000" stroke-width="1.2"/><line x1="1697.8" y1="905.5" x2="1704.8" y2="905.5" stroke="#000" stroke-width="1.2"/><text class="t" transform="translate(921.9,916.8) scale(1.05,1)">4</text><line x1="946.8" y1="833.8" x2="953.8" y2="833.8" stroke="#000" stroke-width="1.2"/><line x1="1697.8" y1="833.8" x2="1704.8" y2="833.8" stroke="#000" stroke-width="1.2"/><text class="t" transform="translate(921.9,845.1) scale(1.05,1)">6</text><line x1="1050.6" y1="1329.5" x2="1050.6" y2="1335.5" stroke="#000" stroke-width="1.2"/><line x1="1155.5" y1="1329.5" x2="1155.5" y2="1335.5" stroke="#000" stroke-width="1.2"/><line x1="1302.4" y1="1329.5" x2="1302.4" y2="1335.5" stroke="#000" stroke-width="1.2"/><line x1="1348.5" y1="1329.5" x2="1348.5" y2="1335.5" stroke="#000" stroke-width="1.2"/><line x1="1453.5" y1="1329.5" x2="1453.5" y2="1335.5" stroke="#000" stroke-width="1.2"/><line x1="1557.5" y1="1329.5" x2="1557.5" y2="1335.5" stroke="#000" stroke-width="1.2"/><text class="t i k" transform="translate(934.4,1369.8) scale(1.2,1)">Γ</text><text class="t i k" transform="translate(1035.4,1369.8) scale(1.3,1)">X</text><text class="t i k" transform="translate(1136.8,1369.8) scale(1.1,1)">M</text><text class="t i k" transform="translate(1286.8,1369.8) scale(1.2,1)">Γ</text><text class="t i k" transform="translate(1335.4,1369.8) scale(1.2,1)">Z</text><text class="t i k" transform="translate(1437,1369.8) scale(1.3,1)">R</text><text class="t i k" transform="translate(1542.2,1369.8) scale(1,1)">A</text><text class="t i k" transform="translate(1691.8,1369.8) scale(1.2,1)">Z</text></g><text class="t" transform="translate(28.7,609.2) rotate(-90) scale(1.1970,1.07)">Energy (eV)</text><text class="t" transform="translate(28.7,1190.5) rotate(-90) scale(1.1970,1.07)">Energy (eV)</text></svg></body></html>
